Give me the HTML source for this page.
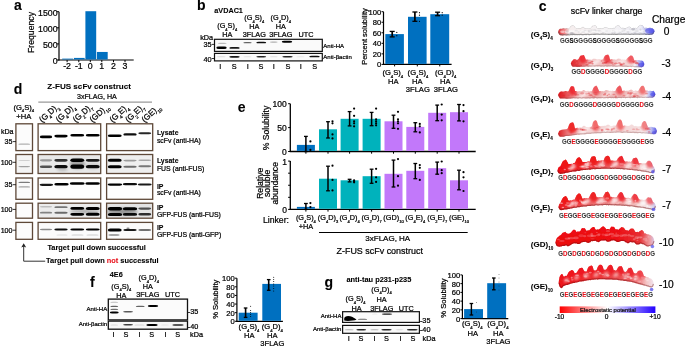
<!DOCTYPE html>
<html><head><meta charset="utf-8"><style>
html,body{margin:0;padding:0;background:#fff;}
svg{display:block;will-change:transform;font-family:"Liberation Sans",sans-serif;}
</style></head><body>
<svg width="685" height="347" viewBox="0 0 685 347">
<defs><filter id="b1" x="-50%" y="-200%" width="200%" height="500%"><feGaussianBlur stdDeviation="0.45"/></filter>
<filter id="b15" x="-50%" y="-200%" width="200%" height="500%"><feGaussianBlur stdDeviation="0.7"/></filter>
<filter id="b2" x="-50%" y="-200%" width="200%" height="500%"><feGaussianBlur stdDeviation="0.8"/></filter>
<filter id="b3" x="-50%" y="-100%" width="200%" height="300%"><feGaussianBlur stdDeviation="1.6"/></filter>
<filter id="pb" x="-10%" y="-50%" width="120%" height="200%"><feGaussianBlur stdDeviation="0.45"/></filter>
<filter id="pb2" x="-50%" y="-50%" width="200%" height="200%"><feGaussianBlur stdDeviation="0.9"/></filter>
<linearGradient id="cbar" x1="0" x2="1" y1="0" y2="0"><stop offset="0" stop-color="#ff0000"/><stop offset="0.5" stop-color="#ffffff"/><stop offset="1" stop-color="#2200ff"/></linearGradient>
<linearGradient id="pg0" gradientUnits="userSpaceOnUse" x1="558" y1="0" x2="654.5" y2="0"><stop offset="0" stop-color="#e8262c"/><stop offset="0.07" stop-color="#f08a8c"/><stop offset="0.12" stop-color="#f6eeee"/><stop offset="0.5" stop-color="#f4f2f4"/><stop offset="0.86" stop-color="#eeeef6"/><stop offset="0.92" stop-color="#b4b6f2"/><stop offset="1" stop-color="#5050ee"/></linearGradient>
<clipPath id="pc0"><path d="M558 32 L559.01 29.59 L560.01 28.79 L561.02 28.65 L562.02 28.63 L563.03 28.23 L564.03 28.17 L565.04 28.74 L566.04 28.32 L567.05 28.29 L568.05 28.81 L569.06 28.43 L570.06 27.01 L571.07 25.82 L572.07 25.54 L573.08 25.22 L574.08 25.99 L575.09 27.2 L576.09 28.38 L577.1 28.52 L578.1 28.46 L579.11 28.03 L580.11 28.5 L581.12 28.08 L582.12 27.11 L583.13 26.76 L584.14 27.59 L585.14 28.25 L586.15 28.41 L587.15 28.52 L588.16 28.39 L589.16 28.53 L590.17 28.15 L591.17 27.44 L592.18 25.85 L593.18 25.63 L594.19 25.46 L595.19 25.18 L596.2 25.96 L597.2 27.97 L598.21 28.48 L599.21 28.1 L600.22 28.23 L601.22 27.99 L602.23 28.13 L603.23 28.04 L604.24 27.54 L605.24 27.07 L606.25 26.97 L607.26 27.5 L608.26 28.22 L609.27 28.38 L610.27 28.33 L611.28 28.41 L612.28 28.19 L613.29 27.82 L614.29 28.31 L615.3 26.78 L616.3 25.89 L617.31 25.32 L618.31 25.45 L619.32 25.52 L620.32 26.97 L621.33 28.08 L622.33 27.87 L623.34 27.71 L624.34 28.26 L625.35 28.36 L626.35 27.72 L627.36 27.62 L628.36 26.82 L629.37 26.58 L630.38 27.05 L631.38 28.19 L632.39 28.26 L633.39 27.68 L634.4 28.07 L635.4 27.67 L636.41 28.14 L637.41 27.87 L638.42 26.27 L639.42 25.47 L640.43 24.81 L641.43 25.25 L642.44 25.31 L643.44 26.45 L644.45 28.06 L645.45 27.66 L646.46 27.78 L647.46 27.93 L648.47 28.07 L649.47 27.75 L650.48 27.67 L651.48 28.27 L652.49 28.17 L653.49 29.21 L654.5 31.4 L654.5 31.4 L653.49 33.8 L652.49 34.55 L651.48 34.73 L650.48 34.74 L649.47 34.97 L648.47 35 L647.46 34.65 L646.46 34.89 L645.45 34.9 L644.45 34.58 L643.44 34.8 L642.44 34.65 L641.43 34.8 L640.43 34.73 L639.42 34.94 L638.42 34.73 L637.41 34.64 L636.41 34.78 L635.4 34.69 L634.4 34.72 L633.39 34.98 L632.39 34.69 L631.38 34.76 L630.38 34.88 L629.37 35 L628.36 34.65 L627.36 34.82 L626.35 34.72 L625.35 34.65 L624.34 34.73 L623.34 34.64 L622.33 34.87 L621.33 34.7 L620.32 34.85 L619.32 34.65 L618.31 34.68 L617.31 35.01 L616.3 35 L615.3 34.97 L614.29 34.66 L613.29 34.89 L612.28 34.81 L611.28 34.95 L610.27 34.87 L609.27 34.93 L608.26 34.95 L607.26 34.86 L606.25 34.86 L605.24 34.74 L604.24 34.84 L603.23 34.74 L602.23 34.78 L601.22 34.73 L600.22 34.87 L599.21 35.09 L598.21 34.8 L597.2 34.77 L596.2 34.8 L595.19 34.95 L594.19 34.9 L593.18 35.12 L592.18 34.87 L591.17 34.98 L590.17 35.11 L589.16 35.21 L588.16 34.89 L587.15 34.84 L586.15 35.23 L585.14 34.94 L584.14 35.12 L583.13 35.24 L582.12 35.19 L581.12 35 L580.11 34.96 L579.11 35.32 L578.1 35.09 L577.1 35.35 L576.09 35.07 L575.09 35.25 L574.08 35.03 L573.08 35 L572.07 35.21 L571.07 35.02 L570.06 35.32 L569.06 35.43 L568.05 35.22 L567.05 35.47 L566.04 35.42 L565.04 35.34 L564.03 35.27 L563.03 35.47 L562.02 35.54 L561.02 35.18 L560.01 35.15 L559.01 34.26 L558 32Z"/></clipPath>
<linearGradient id="pg1" gradientUnits="userSpaceOnUse" x1="570.8" y1="0" x2="644.4" y2="0"><stop offset="0" stop-color="#e01e24"/><stop offset="0.12" stop-color="#ea6266"/><stop offset="0.3" stop-color="#f2cccc"/><stop offset="0.5" stop-color="#f0bcbc"/><stop offset="0.75" stop-color="#f2d2d2"/><stop offset="0.87" stop-color="#f6f2f4"/><stop offset="0.93" stop-color="#b0b2f0"/><stop offset="1" stop-color="#4444e8"/></linearGradient>
<clipPath id="pc1"><path d="M570.8 63.6 L571.81 61.07 L572.82 60.24 L573.82 58.99 L574.83 59.18 L575.84 59.37 L576.85 60 L577.86 59.62 L578.87 58.48 L579.87 56.46 L580.88 55.43 L581.89 55.4 L582.9 55.28 L583.91 55.09 L584.92 57.22 L585.92 59.73 L586.93 59.56 L587.94 59.47 L588.95 59.73 L589.96 59.56 L590.96 59.7 L591.97 59.67 L592.98 58.85 L593.99 58.68 L595 58.66 L596.01 59.04 L597.01 59.59 L598.02 59.18 L599.03 59.15 L600.04 59.24 L601.05 59.8 L602.05 59.35 L603.06 59.39 L604.07 57.12 L605.08 55.5 L606.09 55.01 L607.1 54.67 L608.1 54.6 L609.11 56.04 L610.12 59.76 L611.13 59.29 L612.14 59.34 L613.15 59.49 L614.15 59.24 L615.16 59.57 L616.17 59.81 L617.18 59.09 L618.19 58.54 L619.19 58.7 L620.2 58.83 L621.21 59.73 L622.22 59.62 L623.23 59.8 L624.24 59.48 L625.24 59.97 L626.25 59.52 L627.26 58.37 L628.27 57.13 L629.28 56.39 L630.28 55.61 L631.29 55.5 L632.3 55.87 L633.31 57.37 L634.32 60.15 L635.33 59.88 L636.33 59.88 L637.34 60.15 L638.35 59.99 L639.36 60.37 L640.37 60.54 L641.38 60.58 L642.38 60.72 L643.39 61.42 L644.4 64 L644.4 64 L643.39 66.43 L642.38 67.04 L641.38 67.45 L640.37 67.18 L639.36 67.13 L638.35 67.16 L637.34 67.33 L636.33 67.14 L635.33 67.18 L634.32 67.17 L633.31 66.84 L632.3 66.79 L631.29 67.15 L630.28 66.78 L629.28 66.85 L628.27 66.91 L627.26 66.93 L626.25 66.73 L625.24 66.8 L624.24 66.68 L623.23 66.66 L622.22 66.86 L621.21 66.57 L620.2 66.46 L619.19 66.45 L618.19 66.58 L617.18 66.8 L616.17 66.8 L615.16 66.73 L614.15 66.38 L613.15 66.63 L612.14 66.59 L611.13 66.36 L610.12 66.6 L609.11 66.49 L608.1 66.53 L607.1 66.68 L606.09 66.46 L605.08 66.35 L604.07 66.63 L603.06 66.6 L602.05 66.52 L601.05 66.68 L600.04 66.49 L599.03 66.36 L598.02 66.44 L597.01 66.49 L596.01 66.37 L595 66.67 L593.99 66.51 L592.98 66.6 L591.97 66.52 L590.96 66.74 L589.96 66.47 L588.95 66.77 L587.94 66.76 L586.93 66.51 L585.92 66.47 L584.92 66.71 L583.91 66.74 L582.9 66.83 L581.89 66.85 L580.88 66.73 L579.87 66.94 L578.87 66.99 L577.86 66.88 L576.85 67.03 L575.84 66.86 L574.83 66.82 L573.82 66.84 L572.82 66.7 L571.81 66.07 L570.8 63.6Z"/></clipPath>
<linearGradient id="pg2" gradientUnits="userSpaceOnUse" x1="558" y1="0" x2="655.5" y2="0"><stop offset="0" stop-color="#e0141a"/><stop offset="0.08" stop-color="#e64a4e"/><stop offset="0.2" stop-color="#f0b8b8"/><stop offset="0.5" stop-color="#eeb6b6"/><stop offset="0.8" stop-color="#f0c0c0"/><stop offset="0.9" stop-color="#f6f2f4"/><stop offset="0.95" stop-color="#a8acf0"/><stop offset="1" stop-color="#3c3ce8"/></linearGradient>
<clipPath id="pc2"><path d="M558 95 L559.01 92.65 L560.01 92.04 L561.02 91.28 L562.02 91.55 L563.03 91.5 L564.03 91.46 L565.04 91.07 L566.04 91 L567.05 91.24 L568.05 91.49 L569.06 90.22 L570.06 87.68 L571.07 86.36 L572.07 86.2 L573.08 86.31 L574.08 87.01 L575.09 91.01 L576.09 90.95 L577.1 91.46 L578.1 91.5 L579.11 90.98 L580.11 91.36 L581.12 91.25 L582.12 91.08 L583.13 89.92 L584.13 90.02 L585.14 90.78 L586.14 91.27 L587.15 91.03 L588.15 90.86 L589.16 91.45 L590.16 91.12 L591.17 91.48 L592.18 90.87 L593.18 88.14 L594.19 86.85 L595.19 86.31 L596.2 85.59 L597.2 86.67 L598.21 89.01 L599.21 91.24 L600.22 90.95 L601.22 91.37 L602.23 90.95 L603.23 91.22 L604.24 91.28 L605.24 90.26 L606.25 89.94 L607.25 90.14 L608.26 90.5 L609.26 90.88 L610.27 90.81 L611.27 91.16 L612.28 90.74 L613.28 91.02 L614.29 90.98 L615.29 90.97 L616.3 88.82 L617.3 87.19 L618.31 86.4 L619.31 85.59 L620.32 85.83 L621.32 87.61 L622.33 90.93 L623.34 90.7 L624.34 90.51 L625.35 91.02 L626.35 90.73 L627.36 90.81 L628.36 90.66 L629.37 90.23 L630.37 89.83 L631.38 89.51 L632.38 90.23 L633.39 91.12 L634.39 91.06 L635.4 90.43 L636.4 90.8 L637.41 90.88 L638.41 90.67 L639.42 88.79 L640.42 87.21 L641.43 86.1 L642.43 85.64 L643.44 85.83 L644.44 87.36 L645.45 90.44 L646.45 90.4 L647.46 90.46 L648.46 90.9 L649.47 90.68 L650.47 90.85 L651.48 90.93 L652.48 90.89 L653.49 90.7 L654.49 91.92 L655.5 94.2 L655.5 94.2 L654.49 96.61 L653.49 97.27 L652.48 97.86 L651.48 97.72 L650.47 97.76 L649.47 97.78 L648.46 98.02 L647.46 98.06 L646.45 97.92 L645.45 97.78 L644.44 97.99 L643.44 97.9 L642.43 97.98 L641.43 97.77 L640.42 97.74 L639.42 97.97 L638.41 97.73 L637.41 98.13 L636.4 97.83 L635.4 97.81 L634.39 98.12 L633.39 97.9 L632.38 97.96 L631.38 97.81 L630.37 98.13 L629.37 98 L628.36 97.86 L627.36 97.97 L626.35 98.12 L625.35 98.22 L624.34 97.87 L623.34 98.07 L622.33 97.86 L621.32 98.23 L620.32 97.96 L619.31 97.97 L618.31 97.93 L617.3 98.32 L616.3 98.18 L615.29 98.32 L614.29 98.03 L613.28 98.21 L612.28 97.96 L611.27 98.22 L610.27 98.06 L609.26 98.02 L608.26 98.3 L607.25 98.17 L606.25 98.01 L605.24 98.2 L604.24 98.28 L603.23 98.33 L602.23 98.12 L601.22 98.37 L600.22 98.21 L599.21 98.24 L598.21 98.25 L597.2 98.43 L596.2 98.22 L595.19 98.12 L594.19 98.38 L593.18 98.38 L592.18 98.15 L591.17 98.29 L590.16 98.43 L589.16 98.55 L588.15 98.25 L587.15 98.42 L586.14 98.38 L585.14 98.47 L584.13 98.33 L583.13 98.3 L582.12 98.48 L581.12 98.59 L580.11 98.21 L579.11 98.25 L578.1 98.64 L577.1 98.42 L576.09 98.37 L575.09 98.5 L574.08 98.37 L573.08 98.28 L572.07 98.45 L571.07 98.54 L570.06 98.63 L569.06 98.61 L568.05 98.66 L567.05 98.69 L566.04 98.65 L565.04 98.4 L564.03 98.53 L563.03 98.43 L562.02 98.39 L561.02 98.4 L560.01 98.38 L559.01 97.36 L558 95Z"/></clipPath>
<linearGradient id="pg3" gradientUnits="userSpaceOnUse" x1="558" y1="0" x2="657" y2="0"><stop offset="0" stop-color="#dc1c20"/><stop offset="0.1" stop-color="#ea7a7c"/><stop offset="0.25" stop-color="#f4d4d4"/><stop offset="0.5" stop-color="#f4d6d6"/><stop offset="0.8" stop-color="#f4dcdc"/><stop offset="0.88" stop-color="#f6f2f4"/><stop offset="0.94" stop-color="#c0c2f2"/><stop offset="1" stop-color="#5050e6"/></linearGradient>
<clipPath id="pc3"><path d="M558 133.8 L559 131.37 L560 130.14 L561 130.24 L562 129.51 L563 129.7 L564 129.16 L565 129.49 L566 128.94 L567 129.2 L568 127.77 L569 125 L570 123.35 L571 122.84 L572 122.59 L573 122.32 L574 124.06 L575 128.43 L576 128.17 L577 127.86 L578 127.66 L579 128.02 L580 127.31 L581 127.69 L582 127.36 L583 125.89 L584 125.72 L585 126.08 L586 127.1 L587 126.9 L588 127.19 L589 127.14 L590 126.64 L591 126.98 L592 125.69 L593 122.11 L594 120.99 L595 120.36 L596 120.31 L597 121.55 L598 124.99 L599 126.07 L600 126.35 L601 126.43 L602 125.81 L603 126.05 L604 125.77 L605 125.73 L606 125.63 L607 124.84 L608 124.82 L609 124.66 L610 125.84 L611 126.16 L612 125.98 L613 125.8 L614 125.59 L615 125.85 L616 125.58 L617 123.21 L618 120.97 L619 119.69 L620 119.56 L621 119.67 L622 121.56 L623 125.99 L624 125.59 L625 125.56 L626 125.85 L627 125.77 L628 126.1 L629 125.68 L630 125.5 L631 124.41 L632 124.51 L633 124.9 L634 125.97 L635 126.23 L636 125.76 L637 126.47 L638 126.32 L639 126.44 L640 126.3 L641 126.38 L642 122.97 L643 121.71 L644 121.02 L645 121.07 L646 122 L647 124.73 L648 127.05 L649 127.04 L650 127.01 L651 126.65 L652 126.9 L653 127.18 L654 127.4 L655 127.61 L656 128.52 L657 131 L657 131 L656 133.26 L655 134.1 L654 133.99 L653 134.28 L652 133.99 L651 134.16 L650 133.8 L649 133.98 L648 133.68 L647 133.6 L646 133.51 L645 133.59 L644 133.35 L643 133.23 L642 133.54 L641 133.32 L640 133.08 L639 133.12 L638 133.2 L637 133.21 L636 132.9 L635 133.22 L634 132.9 L633 132.83 L632 133.09 L631 132.98 L630 132.97 L629 132.84 L628 132.89 L627 132.65 L626 132.62 L625 132.86 L624 132.6 L623 132.94 L622 132.92 L621 132.67 L620 132.61 L619 132.6 L618 132.53 L617 132.59 L616 132.85 L615 132.65 L614 132.59 L613 132.95 L612 132.8 L611 132.96 L610 132.99 L609 132.87 L608 132.81 L607 132.72 L606 133.1 L605 132.98 L604 132.81 L603 132.94 L602 133.08 L601 133.24 L600 133.13 L599 133.33 L598 133.22 L597 133.27 L596 133.43 L595 133.32 L594 133.55 L593 133.58 L592 133.49 L591 133.8 L590 133.9 L589 133.81 L588 133.94 L587 133.84 L586 134.18 L585 134.21 L584 134.43 L583 134.35 L582 134.5 L581 134.53 L580 134.49 L579 134.89 L578 134.59 L577 134.81 L576 134.88 L575 135.1 L574 135.19 L573 135.37 L572 135.49 L571 135.68 L570 135.77 L569 135.89 L568 136 L567 135.88 L566 136.06 L565 136.25 L564 136.65 L563 136.68 L562 136.7 L561 136.75 L560 136.7 L559 136.06 L558 133.8Z"/></clipPath>
<linearGradient id="pg4" gradientUnits="userSpaceOnUse" x1="557.3" y1="0" x2="655" y2="0"><stop offset="0" stop-color="#ec0e14"/><stop offset="0.3" stop-color="#ee2a30"/><stop offset="0.55" stop-color="#ec6064"/><stop offset="0.75" stop-color="#f09a9a"/><stop offset="0.88" stop-color="#f2c8c8"/><stop offset="0.95" stop-color="#f2e6ea"/><stop offset="1" stop-color="#c8c4ec"/></linearGradient>
<clipPath id="pc4"><path d="M557.3 170.7 L558.31 167.6 L559.31 166.64 L560.32 166.18 L561.33 164.14 L562.34 161.89 L563.34 160.76 L564.35 160.39 L565.36 159.61 L566.36 160.37 L567.37 161.96 L568.38 164.02 L569.39 164.12 L570.39 163.88 L571.4 163.68 L572.41 163.92 L573.42 163.12 L574.42 162.91 L575.43 161.73 L576.44 159.3 L577.44 158.02 L578.45 157.46 L579.46 157.23 L580.47 158.18 L581.47 159.66 L582.48 161.94 L583.49 162.08 L584.49 161.94 L585.5 162.11 L586.51 161.93 L587.52 161.49 L588.52 161.29 L589.53 161.64 L590.54 158.85 L591.55 156.77 L592.55 156.46 L593.56 156.17 L594.57 156.15 L595.57 157.06 L596.58 161.12 L597.59 161.02 L598.6 160.59 L599.6 160.86 L600.61 160.53 L601.62 160.37 L602.62 160.55 L603.63 160.52 L604.64 157.73 L605.65 156.56 L606.65 155.96 L607.66 155.73 L608.67 155.94 L609.68 157.23 L610.68 160.8 L611.69 160.48 L612.7 160.41 L613.7 160.74 L614.71 160.71 L615.72 160.84 L616.73 160.47 L617.73 158.46 L618.74 157.45 L619.75 156.44 L620.75 156.15 L621.76 155.78 L622.77 156.92 L623.78 159.94 L624.78 161.31 L625.79 161.63 L626.8 161.16 L627.81 161.43 L628.81 161.76 L629.82 161.61 L630.83 161.95 L631.83 161.03 L632.84 158.78 L633.85 157.9 L634.86 158.12 L635.86 157.46 L636.87 158.06 L637.88 159.83 L638.88 162.88 L639.89 163.13 L640.9 163.01 L641.91 163.18 L642.91 163.54 L643.92 163.35 L644.93 163.58 L645.94 163.23 L646.94 161.82 L647.95 160.82 L648.96 160.65 L649.96 160.72 L650.97 161.65 L651.98 163.17 L652.99 166.03 L653.99 166.92 L655 169.7 L655 169.7 L653.99 172.28 L652.99 172.85 L651.98 172.95 L650.97 173.12 L649.96 172.94 L648.96 172.7 L647.95 172.29 L646.94 172.37 L645.94 171.94 L644.93 171.8 L643.92 171.85 L642.91 171.52 L641.91 171.4 L640.9 171.26 L639.89 170.87 L638.88 171.11 L637.88 171 L636.87 170.48 L635.86 170.57 L634.86 170.53 L633.85 170.36 L632.84 170.23 L631.83 169.87 L630.83 170.07 L629.82 169.97 L628.81 169.72 L627.81 169.64 L626.8 169.38 L625.79 169.35 L624.78 169.47 L623.78 169.46 L622.77 169.13 L621.76 169 L620.75 169.34 L619.75 168.99 L618.74 168.88 L617.73 168.93 L616.73 169.07 L615.72 168.79 L614.71 168.78 L613.7 168.98 L612.7 168.77 L611.69 168.93 L610.68 168.99 L609.68 168.86 L608.67 168.86 L607.66 168.83 L606.65 168.73 L605.65 168.66 L604.64 168.63 L603.63 168.64 L602.62 168.66 L601.62 168.77 L600.61 169.01 L599.6 169.1 L598.6 168.96 L597.59 169.04 L596.58 169.04 L595.57 169.34 L594.57 169.36 L593.56 169.12 L592.55 169.32 L591.55 169.36 L590.54 169.69 L589.53 169.65 L588.52 169.52 L587.52 169.73 L586.51 169.68 L585.5 170.12 L584.49 170.12 L583.49 170.09 L582.48 170.36 L581.47 170.33 L580.47 170.56 L579.46 170.88 L578.45 171.02 L577.44 170.79 L576.44 171.3 L575.43 171.42 L574.42 171.51 L573.42 171.52 L572.41 171.62 L571.4 171.95 L570.39 172.11 L569.39 172.17 L568.38 172.57 L567.37 172.72 L566.36 172.81 L565.36 173 L564.35 173.45 L563.34 173.62 L562.34 173.82 L561.33 173.79 L560.32 173.89 L559.31 173.59 L558.31 173.08 L557.3 170.7Z"/></clipPath>
<linearGradient id="pg5" gradientUnits="userSpaceOnUse" x1="558.3" y1="0" x2="656" y2="0"><stop offset="0" stop-color="#ec181e"/><stop offset="0.2" stop-color="#ee4448"/><stop offset="0.45" stop-color="#ee8082"/><stop offset="0.7" stop-color="#f0a8a8"/><stop offset="0.85" stop-color="#f2d2d2"/><stop offset="0.93" stop-color="#f4ecf0"/><stop offset="1" stop-color="#c8c4ec"/></linearGradient>
<clipPath id="pc5"><path d="M558.3 206.9 L559.31 203.94 L560.31 203.04 L561.32 200.69 L562.33 198.74 L563.34 197.28 L564.34 196.71 L565.35 196.04 L566.36 196.5 L567.36 198.08 L568.37 200.57 L569.38 200.66 L570.39 200.3 L571.39 200.47 L572.4 200.03 L573.41 199.62 L574.42 199.73 L575.42 197.8 L576.43 195.39 L577.44 194.48 L578.44 193.45 L579.45 193.44 L580.46 194.11 L581.47 196.28 L582.47 198.85 L583.48 198.49 L584.49 197.97 L585.49 198.17 L586.5 197.91 L587.51 198.16 L588.52 198.17 L589.52 196.53 L590.53 194.49 L591.54 192.91 L592.55 192.15 L593.55 192.06 L594.56 192.44 L595.57 194.07 L596.57 197.14 L597.58 197.21 L598.59 197.34 L599.6 196.93 L600.6 197.04 L601.61 196.91 L602.62 197.23 L603.62 195.48 L604.63 193.63 L605.64 192.02 L606.65 192.02 L607.65 191.55 L608.66 192.48 L609.67 194.37 L610.68 197.25 L611.68 196.7 L612.69 197.22 L613.7 197.09 L614.7 197.37 L615.71 197.18 L616.72 197.07 L617.73 195.32 L618.73 193.8 L619.74 192.43 L620.75 192.01 L621.75 192.26 L622.76 193.37 L623.77 195.77 L624.78 197.72 L625.78 197.77 L626.79 198.03 L627.8 197.67 L628.81 197.76 L629.81 198.13 L630.82 198.39 L631.83 196.6 L632.83 195.2 L633.84 194.12 L634.85 193.65 L635.86 194.18 L636.86 195 L637.87 196.89 L638.88 198.94 L639.88 199.52 L640.89 199.65 L641.9 199.49 L642.91 199.69 L643.91 199.96 L644.92 199.86 L645.93 199.53 L646.94 197.96 L647.94 197.19 L648.95 197.29 L649.96 197.63 L650.96 197.57 L651.97 199.47 L652.98 201.96 L653.99 202.4 L654.99 203.65 L656 206.5 L656 206.5 L654.99 208.99 L653.99 209.5 L652.98 209.97 L651.97 209.65 L650.96 209.58 L649.96 209.28 L648.95 209.27 L647.94 209 L646.94 208.85 L645.93 208.64 L644.92 208.3 L643.91 208.23 L642.91 207.86 L641.9 207.86 L640.89 207.85 L639.88 207.53 L638.88 207.42 L637.87 207.44 L636.86 207.14 L635.86 207.22 L634.85 206.94 L633.84 206.75 L632.83 206.56 L631.83 206.34 L630.82 206.37 L629.81 206.51 L628.81 206.22 L627.8 206.22 L626.79 205.92 L625.78 205.77 L624.78 206.03 L623.77 205.67 L622.76 205.79 L621.75 205.77 L620.75 205.6 L619.74 205.55 L618.73 205.56 L617.73 205.52 L616.72 205.4 L615.71 205.26 L614.7 205.44 L613.7 205.33 L612.69 205.36 L611.68 205.13 L610.68 205.32 L609.67 205.1 L608.66 205.4 L607.65 205.05 L606.65 205.23 L605.64 205.03 L604.63 205.1 L603.62 205.1 L602.62 205.46 L601.61 205.19 L600.6 205.32 L599.6 205.2 L598.59 205.38 L597.58 205.52 L596.57 205.34 L595.57 205.35 L594.56 205.74 L593.55 205.84 L592.55 205.78 L591.54 205.77 L590.53 206.06 L589.52 205.97 L588.52 206.07 L587.51 206.06 L586.5 206.43 L585.49 206.54 L584.49 206.49 L583.48 206.51 L582.47 206.69 L581.47 206.75 L580.46 207.08 L579.45 207.31 L578.44 207.17 L577.44 207.33 L576.43 207.74 L575.42 207.87 L574.42 207.77 L573.41 207.94 L572.4 208.3 L571.39 208.45 L570.39 208.56 L569.38 208.9 L568.37 208.97 L567.36 209.19 L566.36 209.46 L565.35 209.46 L564.34 209.49 L563.34 210.06 L562.33 210.02 L561.32 210.13 L560.31 210.05 L559.31 209.32 L558.3 206.9Z"/></clipPath>
<linearGradient id="pg6" gradientUnits="userSpaceOnUse" x1="555.3" y1="0" x2="654.5" y2="0"><stop offset="0" stop-color="#ec080e"/><stop offset="0.6" stop-color="#ec0c12"/><stop offset="0.85" stop-color="#e63034"/><stop offset="0.95" stop-color="#ee9a9e"/><stop offset="1" stop-color="#d8c8e8"/></linearGradient>
<clipPath id="pc6"><path d="M555.3 242.6 L556.3 239.1 L557.3 237.49 L558.31 236.65 L559.31 235.78 L560.31 235.25 L561.31 234.53 L562.31 233.03 L563.32 232.42 L564.32 232.29 L565.32 231.75 L566.32 232.97 L567.32 233.53 L568.33 233.76 L569.33 233.5 L570.33 232.91 L571.33 231.96 L572.33 230.77 L573.34 229.7 L574.34 229.65 L575.34 230.12 L576.34 232.01 L577.34 231.53 L578.35 231.41 L579.35 231.61 L580.35 231.04 L581.35 228.86 L582.35 228.11 L583.36 228.2 L584.36 227.97 L585.36 229.02 L586.36 230.69 L587.36 230.48 L588.37 230.31 L589.37 230.35 L590.37 228.97 L591.37 227.91 L592.37 227.24 L593.38 227 L594.38 226.99 L595.38 229.29 L596.38 229.8 L597.38 229.35 L598.39 229.49 L599.39 229.02 L600.39 228.25 L601.39 227.22 L602.39 226.46 L603.4 226.36 L604.4 227.02 L605.4 228.08 L606.4 229.16 L607.41 228.9 L608.41 229.11 L609.41 229.47 L610.41 227.67 L611.41 226.51 L612.42 226.78 L613.42 226.68 L614.42 227.37 L615.42 229.25 L616.42 229.31 L617.43 229.29 L618.43 229.66 L619.43 228.85 L620.43 228.09 L621.43 226.97 L622.44 227.19 L623.44 227.44 L624.44 228.49 L625.44 230.03 L626.44 230.26 L627.45 230.3 L628.45 230.87 L629.45 229.85 L630.45 228.85 L631.45 228.61 L632.46 228.48 L633.46 228.72 L634.46 230.15 L635.46 231.89 L636.46 231.97 L637.47 231.63 L638.47 232.17 L639.47 231.22 L640.47 230.75 L641.47 230.04 L642.48 230.24 L643.48 231.16 L644.48 233.38 L645.48 233.24 L646.48 233.89 L647.49 234.17 L648.49 234.2 L649.49 234.75 L650.49 234.89 L651.49 235.83 L652.5 236.5 L653.5 237.89 L654.5 241.4 L654.5 241.4 L653.5 244.32 L652.5 245.28 L651.49 245.61 L650.49 245.87 L649.49 246.12 L648.49 246.47 L647.49 246.53 L646.48 246.21 L645.48 245.56 L644.48 244.92 L643.48 244.24 L642.48 244.23 L641.47 243.75 L640.47 243.57 L639.47 244.37 L638.47 244.4 L637.47 244.42 L636.46 244.4 L635.46 243.66 L634.46 242.52 L633.46 242.26 L632.46 242.43 L631.45 242.25 L630.45 241.89 L629.45 242.59 L628.45 243.22 L627.45 243.18 L626.44 242.62 L625.44 242.16 L624.44 241.33 L623.44 241.02 L622.44 240.98 L621.43 240.93 L620.43 241.17 L619.43 241.87 L618.43 242.02 L617.43 242.01 L616.42 241.67 L615.42 240.9 L614.42 240.38 L613.42 240.34 L612.42 240.54 L611.41 240.39 L610.41 241.27 L609.41 241.61 L608.41 241.74 L607.41 241.79 L606.4 241.37 L605.4 240.25 L604.4 240.56 L603.4 240.44 L602.39 240.62 L601.39 240.53 L600.39 241.1 L599.39 241.76 L598.39 242.2 L597.38 241.8 L596.38 241.52 L595.38 240.77 L594.38 240.94 L593.38 241.01 L592.37 241.14 L591.37 241.05 L590.37 242.29 L589.37 242.41 L588.37 242.96 L587.36 242.69 L586.36 242.31 L585.36 241.81 L584.36 241.98 L583.36 242.04 L582.35 242.23 L581.35 242.61 L580.35 243.56 L579.35 244 L578.35 244.06 L577.34 243.98 L576.34 243.28 L575.34 243.52 L574.34 243.31 L573.34 243.55 L572.33 244.07 L571.33 244.58 L570.33 245.36 L569.33 245.75 L568.33 246.28 L567.32 246.16 L566.32 245.27 L565.32 245.42 L564.32 245.89 L563.32 245.88 L562.31 246.12 L561.31 246.51 L560.31 246.58 L559.31 246.85 L558.31 246.56 L557.3 246.34 L556.3 245.52 L555.3 242.6Z"/></clipPath>
<linearGradient id="pg7" gradientUnits="userSpaceOnUse" x1="558.5" y1="0" x2="654" y2="0"><stop offset="0" stop-color="#ec121a"/><stop offset="0.3" stop-color="#ee2a2e"/><stop offset="0.6" stop-color="#ea4448"/><stop offset="0.82" stop-color="#ee6a6e"/><stop offset="0.92" stop-color="#f4c4c4"/><stop offset="1" stop-color="#f0e6f0"/></linearGradient>
<clipPath id="pc7"><path d="M558.5 283 L559.51 276.91 L560.51 275.14 L561.52 273.94 L562.52 274.3 L563.53 276.5 L564.53 276.54 L565.54 275.69 L566.54 275.97 L567.55 274.33 L568.55 272.25 L569.56 271.26 L570.56 270.74 L571.57 269.89 L572.57 270.2 L573.58 271.1 L574.58 273.16 L575.59 272.99 L576.59 272.81 L577.6 270.89 L578.61 269.53 L579.61 268.25 L580.62 267.94 L581.62 267.67 L582.63 268.12 L583.63 270.14 L584.64 271.53 L585.64 271.44 L586.65 271.44 L587.65 268.47 L588.66 266.76 L589.66 266.18 L590.67 265.73 L591.67 265.45 L592.68 266.42 L593.68 270.14 L594.69 270.42 L595.69 270.43 L596.7 269.71 L597.71 266.91 L598.71 265.42 L599.72 264.72 L600.72 264.87 L601.73 265.04 L602.73 266.53 L603.74 269.66 L604.74 269.63 L605.75 269.67 L606.75 268.82 L607.76 266.8 L608.76 265.5 L609.77 265.09 L610.77 264.8 L611.78 265.26 L612.78 267.11 L613.79 270.42 L614.79 270.05 L615.8 270.7 L616.81 269.7 L617.81 267.65 L618.82 266.45 L619.82 266.34 L620.83 266.15 L621.83 266.24 L622.84 268.38 L623.84 271.59 L624.85 271.68 L625.85 271.94 L626.86 270.7 L627.86 269.05 L628.87 267.84 L629.87 267.91 L630.88 267.56 L631.88 268.58 L632.89 270.63 L633.89 273.17 L634.9 273.2 L635.91 273.42 L636.91 272.74 L637.92 270.99 L638.92 270.75 L639.93 270.45 L640.93 270.48 L641.94 271.33 L642.94 273 L643.95 275.95 L644.95 275.98 L645.96 276.66 L646.96 277.16 L647.97 277.05 L648.97 277.77 L649.98 278.39 L650.98 278.56 L651.99 279.41 L652.99 280.8 L654 284.2 L654 284.2 L652.99 286.83 L651.99 287.21 L650.98 287.46 L649.98 287.16 L648.97 287.08 L647.97 286.52 L646.96 286.5 L645.96 285.81 L644.95 285.74 L643.95 285.52 L642.94 285.14 L641.94 284.72 L640.93 284.68 L639.93 284.25 L638.92 284.13 L637.92 283.84 L636.91 283.53 L635.91 283.26 L634.9 282.99 L633.89 282.55 L632.89 282.47 L631.88 282.07 L630.88 281.84 L629.87 281.63 L628.87 281.42 L627.86 281.38 L626.86 281.16 L625.85 280.9 L624.85 280.88 L623.84 280.89 L622.84 280.59 L621.83 280.44 L620.83 280.46 L619.82 280.37 L618.82 280.21 L617.81 279.89 L616.81 279.74 L615.8 279.71 L614.79 279.73 L613.79 279.82 L612.78 279.76 L611.78 279.43 L610.77 279.43 L609.77 279.41 L608.76 279.49 L607.76 279.49 L606.75 279.44 L605.75 279.45 L604.74 279.25 L603.74 279.37 L602.73 279.28 L601.73 279.35 L600.72 279.33 L599.72 279.28 L598.71 279.31 L597.71 279.63 L596.7 279.35 L595.69 279.46 L594.69 279.55 L593.68 279.79 L592.68 279.67 L591.67 279.82 L590.67 280.17 L589.66 280.1 L588.66 280.15 L587.65 280.33 L586.65 280.4 L585.64 280.71 L584.64 280.8 L583.63 281.21 L582.63 281.14 L581.62 281.53 L580.62 281.48 L579.61 281.6 L578.61 282.02 L577.6 282.36 L576.59 282.59 L575.59 282.62 L574.58 283 L573.58 283 L572.57 283.31 L571.57 283.61 L570.56 283.81 L569.56 284.3 L568.55 284.45 L567.55 284.92 L566.54 285 L565.54 285.21 L564.53 285.79 L563.53 285.89 L562.52 287.5 L561.52 288.21 L560.51 287.84 L559.51 286.53 L558.5 283Z"/></clipPath></defs>
<rect width="685" height="347" fill="#fff"/>
<text x="14" y="10.24" font-size="14" font-weight="bold" stroke="#000" stroke-width="0.08" ><tspan>a</tspan></text>
<line x1="59" y1="11.7" x2="59" y2="60.5" stroke="#000" stroke-width="1.2" />
<line x1="58.4" y1="60" x2="133.7" y2="60" stroke="#000" stroke-width="1.2" />
<line x1="56.8" y1="60" x2="59" y2="60" stroke="#000" stroke-width="1" />
<text x="57.6" y="64.27" font-size="8.8" text-anchor="end" stroke="#000" stroke-width="0.22" ><tspan>0</tspan></text>
<line x1="56.8" y1="43.9" x2="59" y2="43.9" stroke="#000" stroke-width="1" />
<text x="57.6" y="48.17" font-size="8.8" text-anchor="end" stroke="#000" stroke-width="0.22" ><tspan>500</tspan></text>
<line x1="56.8" y1="27.8" x2="59" y2="27.8" stroke="#000" stroke-width="1" />
<text x="57.6" y="32.07" font-size="8.8" text-anchor="end" stroke="#000" stroke-width="0.22" ><tspan>1000</tspan></text>
<line x1="56.8" y1="11.7" x2="59" y2="11.7" stroke="#000" stroke-width="1" />
<text x="57.6" y="15.97" font-size="8.8" text-anchor="end" stroke="#000" stroke-width="0.22" ><tspan>1500</tspan></text>
<rect x="62.2" y="58.62" width="10.8" height="0.88" fill="#0070c0" />
<line x1="67.1" y1="60" x2="67.1" y2="62.2" stroke="#000" stroke-width="1" />
<text x="67.1" y="69.17" font-size="8.8" text-anchor="middle" stroke="#000" stroke-width="0.22" ><tspan>-2</tspan></text>
<rect x="73.9" y="57.91" width="10.8" height="1.59" fill="#0070c0" />
<line x1="78.8" y1="60" x2="78.8" y2="62.2" stroke="#000" stroke-width="1" />
<text x="78.8" y="69.17" font-size="8.8" text-anchor="middle" stroke="#000" stroke-width="0.22" ><tspan>-1</tspan></text>
<rect x="85.4" y="11.22" width="10.8" height="48.28" fill="#0070c0" />
<line x1="90.3" y1="60" x2="90.3" y2="62.2" stroke="#000" stroke-width="1" />
<text x="90.3" y="69.17" font-size="8.8" text-anchor="middle" stroke="#000" stroke-width="0.22" ><tspan>0</tspan></text>
<rect x="96.9" y="51.95" width="10.8" height="7.55" fill="#0070c0" />
<line x1="101.8" y1="60" x2="101.8" y2="62.2" stroke="#000" stroke-width="1" />
<text x="101.8" y="69.17" font-size="8.8" text-anchor="middle" stroke="#000" stroke-width="0.22" ><tspan>1</tspan></text>
<line x1="113.5" y1="60" x2="113.5" y2="62.2" stroke="#000" stroke-width="1" />
<text x="113.5" y="69.17" font-size="8.8" text-anchor="middle" stroke="#000" stroke-width="0.22" ><tspan>2</tspan></text>
<line x1="125" y1="60" x2="125" y2="62.2" stroke="#000" stroke-width="1" />
<text x="125" y="69.17" font-size="8.8" text-anchor="middle" stroke="#000" stroke-width="0.22" ><tspan>3</tspan></text>
<text x="31.5" y="35.37" font-size="8.7" text-anchor="middle" stroke="#000" stroke-width="0.22" transform="rotate(-90 31.5 32.5)" ><tspan>Frequency</tspan></text>
<text x="197" y="10.24" font-size="14" font-weight="bold" stroke="#000" stroke-width="0.08" ><tspan>b</tspan></text>
<text x="214.3" y="12.8" font-size="7.5" font-weight="bold" stroke="#000" stroke-width="0.08" textLength="28.6" lengthAdjust="spacingAndGlyphs" ><tspan>aVDAC1</tspan></text>
<rect x="214.5" y="39.3" width="107.8" height="12.1" fill="#fafafa" stroke="#111" stroke-width="1.2"/>
<rect x="214.5" y="53.4" width="107.8" height="7.5" fill="#fafafa" stroke="#111" stroke-width="1.2"/>
<rect x="216.3" y="46.6" width="10.4" height="2.4" rx="2.5" ry="1.2" fill="#000" fill-opacity="1" filter="url(#b1)"/>
<rect x="217.8" y="42.7" width="8.9" height="1.2" rx="2.5" ry="0.6" fill="#000" fill-opacity="0.25" filter="url(#b1)"/>
<rect x="229.3" y="47" width="10.4" height="1.8" rx="2.5" ry="0.9" fill="#000" fill-opacity="0.9" filter="url(#b1)"/>
<rect x="243.3" y="42.05" width="8.4" height="1.3" rx="2.5" ry="0.65" fill="#000" fill-opacity="0.6" filter="url(#b1)"/>
<rect x="256.3" y="41.65" width="9.9" height="1.7" rx="2.5" ry="0.85" fill="#000" fill-opacity="0.95" filter="url(#b1)"/>
<rect x="269.8" y="41.5" width="7.9" height="1.2" rx="2.5" ry="0.6" fill="#000" fill-opacity="0.3" filter="url(#b1)"/>
<rect x="281.8" y="40.7" width="10.4" height="2" rx="2.5" ry="1" fill="#000" fill-opacity="1" filter="url(#b1)"/>
<rect x="216.8" y="56.3" width="8.9" height="1" rx="2.5" ry="0.5" fill="#000" fill-opacity="0.12" filter="url(#b1)"/>
<rect x="229.3" y="55.9" width="10.4" height="1.8" rx="2.5" ry="0.9" fill="#000" fill-opacity="0.9" filter="url(#b1)"/>
<rect x="243.3" y="56.3" width="8.4" height="1" rx="2.5" ry="0.5" fill="#000" fill-opacity="0.1" filter="url(#b1)"/>
<rect x="256.3" y="56" width="9.9" height="1.6" rx="2.5" ry="0.8" fill="#000" fill-opacity="0.85" filter="url(#b1)"/>
<rect x="269.8" y="56.3" width="7.9" height="1" rx="2.5" ry="0.5" fill="#000" fill-opacity="0.12" filter="url(#b1)"/>
<rect x="282.3" y="55.9" width="10.4" height="1.6" rx="2.5" ry="0.8" fill="#000" fill-opacity="0.85" filter="url(#b1)"/>
<rect x="296.3" y="56.2" width="8.4" height="1" rx="2.5" ry="0.5" fill="#000" fill-opacity="0.08" filter="url(#b1)"/>
<rect x="309.3" y="55.65" width="10.4" height="1.7" rx="2.5" ry="0.85" fill="#000" fill-opacity="0.95" filter="url(#b1)"/>
<text x="220.3" y="68.63" font-size="7.3" text-anchor="middle" stroke="#000" stroke-width="0.22" ><tspan>I</tspan></text>
<text x="234.1" y="68.63" font-size="7.3" text-anchor="middle" stroke="#000" stroke-width="0.22" ><tspan>S</tspan></text>
<text x="247.7" y="68.63" font-size="7.3" text-anchor="middle" stroke="#000" stroke-width="0.22" ><tspan>I</tspan></text>
<text x="261" y="68.63" font-size="7.3" text-anchor="middle" stroke="#000" stroke-width="0.22" ><tspan>S</tspan></text>
<text x="273.7" y="68.63" font-size="7.3" text-anchor="middle" stroke="#000" stroke-width="0.22" ><tspan>I</tspan></text>
<text x="288" y="68.63" font-size="7.3" text-anchor="middle" stroke="#000" stroke-width="0.22" ><tspan>S</tspan></text>
<text x="300.7" y="68.63" font-size="7.3" text-anchor="middle" stroke="#000" stroke-width="0.22" ><tspan>I</tspan></text>
<text x="314.6" y="68.63" font-size="7.3" text-anchor="middle" stroke="#000" stroke-width="0.22" ><tspan>S</tspan></text>
<text x="227.2" y="28" font-size="7.3" text-anchor="middle" stroke="#000" stroke-width="0.22" ><tspan>(G</tspan><tspan font-size="4.09" dy="2.63">4</tspan><tspan dy="-2.63">S)</tspan><tspan font-size="4.09" dy="2.63">4</tspan></text>
<text x="227.2" y="37.43" font-size="7.3" text-anchor="middle" stroke="#000" stroke-width="0.22" ><tspan>HA</tspan></text>
<text x="254.3" y="19.9" font-size="7.3" text-anchor="middle" stroke="#000" stroke-width="0.22" ><tspan>(G</tspan><tspan font-size="4.09" dy="2.63">4</tspan><tspan dy="-2.63">S)</tspan><tspan font-size="4.09" dy="2.63">4</tspan></text>
<text x="254.3" y="28.73" font-size="7.3" text-anchor="middle" stroke="#000" stroke-width="0.22" ><tspan>HA</tspan></text>
<text x="254.3" y="37.23" font-size="7.3" text-anchor="middle" stroke="#000" stroke-width="0.22" ><tspan>3FLAG</tspan></text>
<text x="280.8" y="19.9" font-size="7.3" text-anchor="middle" stroke="#000" stroke-width="0.22" ><tspan>(G</tspan><tspan font-size="4.09" dy="2.63">4</tspan><tspan dy="-2.63">D)</tspan><tspan font-size="4.09" dy="2.63">4</tspan></text>
<text x="280.8" y="28.73" font-size="7.3" text-anchor="middle" stroke="#000" stroke-width="0.22" ><tspan>HA</tspan></text>
<text x="280.8" y="37.23" font-size="7.3" text-anchor="middle" stroke="#000" stroke-width="0.22" ><tspan>3FLAG</tspan></text>
<text x="306" y="37.23" font-size="7.3" text-anchor="middle" stroke="#000" stroke-width="0.22" ><tspan>UTC</tspan></text>
<text x="200.2" y="39.93" font-size="7.3" stroke="#000" stroke-width="0.22" ><tspan>kDa</tspan></text>
<text x="211.5" y="47.03" font-size="7.3" text-anchor="end" stroke="#000" stroke-width="0.22" ><tspan>35</tspan></text>
<line x1="211.8" y1="44.4" x2="214.5" y2="44.4" stroke="#000" stroke-width="0.8" />
<text x="211.5" y="61.63" font-size="7.3" text-anchor="end" stroke="#000" stroke-width="0.22" ><tspan>40</tspan></text>
<line x1="211.8" y1="58.5" x2="214.5" y2="58.5" stroke="#000" stroke-width="0.8" />
<text x="323.3" y="48.36" font-size="6" stroke="#000" stroke-width="0.22" ><tspan>Anti-HA</tspan></text>
<text x="323.3" y="59.26" font-size="6" stroke="#000" stroke-width="0.22" ><tspan>Anti-βactin</tspan></text>
<line x1="383.5" y1="11.7" x2="383.5" y2="64.9" stroke="#000" stroke-width="1.2" />
<line x1="382.9" y1="64.4" x2="451.6" y2="64.4" stroke="#000" stroke-width="1.2" />
<line x1="381.5" y1="64.4" x2="383.5" y2="64.4" stroke="#000" stroke-width="1" />
<text x="381.2" y="67.44" font-size="7.6" text-anchor="end" stroke="#000" stroke-width="0.22" ><tspan>0</tspan></text>
<line x1="381.5" y1="53.86" x2="383.5" y2="53.86" stroke="#000" stroke-width="1" />
<text x="381.2" y="56.9" font-size="7.6" text-anchor="end" stroke="#000" stroke-width="0.22" ><tspan>20</tspan></text>
<line x1="381.5" y1="43.32" x2="383.5" y2="43.32" stroke="#000" stroke-width="1" />
<text x="381.2" y="46.36" font-size="7.6" text-anchor="end" stroke="#000" stroke-width="0.22" ><tspan>40</tspan></text>
<line x1="381.5" y1="32.78" x2="383.5" y2="32.78" stroke="#000" stroke-width="1" />
<text x="381.2" y="35.82" font-size="7.6" text-anchor="end" stroke="#000" stroke-width="0.22" ><tspan>60</tspan></text>
<line x1="381.5" y1="22.24" x2="383.5" y2="22.24" stroke="#000" stroke-width="1" />
<text x="381.2" y="25.28" font-size="7.6" text-anchor="end" stroke="#000" stroke-width="0.22" ><tspan>80</tspan></text>
<line x1="381.5" y1="11.7" x2="383.5" y2="11.7" stroke="#000" stroke-width="1" />
<text x="381.2" y="14.74" font-size="7.6" text-anchor="end" stroke="#000" stroke-width="0.22" ><tspan>100</tspan></text>
<text x="364.2" y="38.98" font-size="7.5" text-anchor="middle" stroke="#000" stroke-width="0.22" transform="rotate(-90 364.2 36.5)" ><tspan>Percent solubility</tspan></text>
<rect x="385.3" y="34.1" width="18.6" height="29.8" fill="#0070c0" />
<line x1="392.2" y1="31.4" x2="392.2" y2="36.9" stroke="#000" stroke-width="1.7" />
<line x1="389.7" y1="31.4" x2="394.7" y2="31.4" stroke="#000" stroke-width="1.3" />
<line x1="389.7" y1="36.9" x2="394.7" y2="36.9" stroke="#000" stroke-width="1.3" />
<circle cx="396.8" cy="32.4" r="0.6" fill="#000"/>
<circle cx="396.8" cy="35.7" r="0.6" fill="#000"/>
<line x1="394.6" y1="64.4" x2="394.6" y2="66.4" stroke="#000" stroke-width="1" />
<rect x="408" y="16.8" width="18.6" height="47.1" fill="#0070c0" />
<line x1="414.9" y1="12" x2="414.9" y2="21.3" stroke="#000" stroke-width="1.7" />
<line x1="412.4" y1="12" x2="417.4" y2="12" stroke="#000" stroke-width="1.3" />
<line x1="412.4" y1="21.3" x2="417.4" y2="21.3" stroke="#000" stroke-width="1.3" />
<circle cx="419.5" cy="12.7" r="0.6" fill="#000"/>
<circle cx="419.5" cy="15.2" r="0.6" fill="#000"/>
<circle cx="419.5" cy="21.3" r="0.6" fill="#000"/>
<line x1="417.3" y1="64.4" x2="417.3" y2="66.4" stroke="#000" stroke-width="1" />
<rect x="430.3" y="14.2" width="18.9" height="49.7" fill="#0070c0" />
<line x1="437.6" y1="12.2" x2="437.6" y2="15.7" stroke="#000" stroke-width="1.7" />
<line x1="435.1" y1="12.2" x2="440.1" y2="12.2" stroke="#000" stroke-width="1.3" />
<line x1="435.1" y1="15.7" x2="440.1" y2="15.7" stroke="#000" stroke-width="1.3" />
<circle cx="442.2" cy="12.7" r="0.6" fill="#000"/>
<circle cx="442.2" cy="15.2" r="0.6" fill="#000"/>
<line x1="439.75" y1="64.4" x2="439.75" y2="66.4" stroke="#000" stroke-width="1" />
<text x="392.8" y="74.98" font-size="7.6" text-anchor="middle" stroke="#000" stroke-width="0.22" ><tspan>(G</tspan><tspan font-size="4.26" dy="2.74">4</tspan><tspan dy="-2.74">S)</tspan><tspan font-size="4.26" dy="2.74">4</tspan></text>
<text x="393.4" y="84.04" font-size="7.6" text-anchor="middle" stroke="#000" stroke-width="0.22" ><tspan>HA</tspan></text>
<text x="418" y="74.98" font-size="7.6" text-anchor="middle" stroke="#000" stroke-width="0.22" ><tspan>(G</tspan><tspan font-size="4.26" dy="2.74">4</tspan><tspan dy="-2.74">S)</tspan><tspan font-size="4.26" dy="2.74">4</tspan></text>
<text x="417.4" y="84.04" font-size="7.6" text-anchor="middle" stroke="#000" stroke-width="0.22" ><tspan>HA</tspan></text>
<text x="417.8" y="92.04" font-size="7.6" text-anchor="middle" stroke="#000" stroke-width="0.22" ><tspan>3FLAG</tspan></text>
<text x="445.7" y="74.98" font-size="7.6" text-anchor="middle" stroke="#000" stroke-width="0.22" ><tspan>(G</tspan><tspan font-size="4.26" dy="2.74">4</tspan><tspan dy="-2.74">D)</tspan><tspan font-size="4.26" dy="2.74">4</tspan></text>
<text x="445.2" y="84.04" font-size="7.6" text-anchor="middle" stroke="#000" stroke-width="0.22" ><tspan>HA</tspan></text>
<text x="445.9" y="92.04" font-size="7.6" text-anchor="middle" stroke="#000" stroke-width="0.22" ><tspan>3FLAG</tspan></text>
<text x="538.7" y="10.84" font-size="14" font-weight="bold" stroke="#000" stroke-width="0.08" ><tspan>c</tspan></text>
<text x="570.8" y="13.77" font-size="8.8" stroke="#000" stroke-width="0.22" textLength="71.7" lengthAdjust="spacingAndGlyphs" ><tspan>scFv linker charge</tspan></text>
<text x="651.9" y="23.17" font-size="10.2" stroke="#000" stroke-width="0.22" ><tspan>Charge</tspan></text>
<text x="530.8" y="36.78" font-size="8" font-weight="bold" stroke="#000" stroke-width="0.08" ><tspan>(G</tspan><tspan font-size="4.64" dy="2.88">4</tspan><tspan dy="-2.88">S)</tspan><tspan font-size="4.64" dy="2.88">4</tspan></text>
<text x="560" y="42.6" font-size="6.4" font-weight="bold" fill="#3a3a3a" stroke="#3a3a3a" stroke-width="0.08" textLength="92.6" lengthAdjust="spacingAndGlyphs" ><tspan>GG</tspan><tspan font-weight="bold" fill="#000" stroke="#000">S</tspan><tspan>GGGG</tspan><tspan font-weight="bold" fill="#000" stroke="#000">S</tspan><tspan>GGGG</tspan><tspan font-weight="bold" fill="#000" stroke="#000">S</tspan><tspan>GGGG</tspan><tspan font-weight="bold" fill="#000" stroke="#000">S</tspan><tspan>GG</tspan></text>
<text x="663.8" y="35.37" font-size="10.2" stroke="#000" stroke-width="0.22" ><tspan>0</tspan></text>
<text x="530.8" y="67.98" font-size="8" font-weight="bold" stroke="#000" stroke-width="0.08" ><tspan>(G</tspan><tspan font-size="4.64" dy="2.88">4</tspan><tspan dy="-2.88">D)</tspan><tspan font-size="4.64" dy="2.88">3</tspan></text>
<text x="571.4" y="74.1" font-size="6.4" font-weight="bold" fill="#3a3a3a" stroke="#3a3a3a" stroke-width="0.08" textLength="71" lengthAdjust="spacingAndGlyphs" ><tspan>GG</tspan><tspan fill="#e8121c" stroke="#e8121c">D</tspan><tspan>GGGG</tspan><tspan fill="#e8121c" stroke="#e8121c">D</tspan><tspan>GGGG</tspan><tspan fill="#e8121c" stroke="#e8121c">D</tspan><tspan>GG</tspan></text>
<text x="661.6" y="66.87" font-size="10.2" stroke="#000" stroke-width="0.22" ><tspan>-3</tspan></text>
<text x="530.8" y="100.58" font-size="8" font-weight="bold" stroke="#000" stroke-width="0.08" ><tspan>(G</tspan><tspan font-size="4.64" dy="2.88">4</tspan><tspan dy="-2.88">D)</tspan><tspan font-size="4.64" dy="2.88">4</tspan></text>
<text x="559.7" y="107.3" font-size="6.4" font-weight="bold" fill="#3a3a3a" stroke="#3a3a3a" stroke-width="0.08" textLength="93.8" lengthAdjust="spacingAndGlyphs" ><tspan>GG</tspan><tspan fill="#e8121c" stroke="#e8121c">D</tspan><tspan>GGGG</tspan><tspan fill="#e8121c" stroke="#e8121c">D</tspan><tspan>GGGG</tspan><tspan fill="#e8121c" stroke="#e8121c">D</tspan><tspan>GGGG</tspan><tspan fill="#e8121c" stroke="#e8121c">D</tspan><tspan>GG</tspan></text>
<text x="662.2" y="99.77" font-size="10.2" stroke="#000" stroke-width="0.22" ><tspan>-4</tspan></text>
<text x="530.8" y="137.38" font-size="8" font-weight="bold" stroke="#000" stroke-width="0.08" ><tspan>(G</tspan><tspan font-size="4.64" dy="2.88">4</tspan><tspan dy="-2.88">E)</tspan><tspan font-size="4.64" dy="2.88">4</tspan></text>
<text x="561.9" y="143.7" font-size="6.4" font-weight="bold" fill="#3a3a3a" stroke="#3a3a3a" stroke-width="0.08" textLength="92.2" lengthAdjust="spacingAndGlyphs" ><tspan>GG</tspan><tspan fill="#e8121c" stroke="#e8121c">E</tspan><tspan>GGGG</tspan><tspan fill="#e8121c" stroke="#e8121c">E</tspan><tspan>GGGG</tspan><tspan fill="#e8121c" stroke="#e8121c">E</tspan><tspan>GGGG</tspan><tspan fill="#e8121c" stroke="#e8121c">E</tspan><tspan>GG</tspan></text>
<text x="662.2" y="136.27" font-size="10.2" stroke="#000" stroke-width="0.22" ><tspan>-4</tspan></text>
<text x="530.8" y="173.68" font-size="8" font-weight="bold" stroke="#000" stroke-width="0.08" ><tspan>(G</tspan><tspan font-size="4.64" dy="2.88">2</tspan><tspan dy="-2.88">D)</tspan><tspan font-size="4.64" dy="2.88">7</tspan></text>
<text x="558.3" y="179.8" font-size="6.4" font-weight="bold" fill="#3a3a3a" stroke="#3a3a3a" stroke-width="0.08" textLength="96.2" lengthAdjust="spacingAndGlyphs" ><tspan>G</tspan><tspan fill="#e8121c" stroke="#e8121c">D</tspan><tspan>GG</tspan><tspan fill="#e8121c" stroke="#e8121c">D</tspan><tspan>GG</tspan><tspan fill="#e8121c" stroke="#e8121c">D</tspan><tspan>GG</tspan><tspan fill="#e8121c" stroke="#e8121c">D</tspan><tspan>GG</tspan><tspan fill="#e8121c" stroke="#e8121c">D</tspan><tspan>GG</tspan><tspan fill="#e8121c" stroke="#e8121c">D</tspan><tspan>GG</tspan><tspan fill="#e8121c" stroke="#e8121c">D</tspan><tspan>G</tspan></text>
<text x="662.2" y="172.67" font-size="10.2" stroke="#000" stroke-width="0.22" ><tspan>-7</tspan></text>
<text x="530.8" y="210.38" font-size="8" font-weight="bold" stroke="#000" stroke-width="0.08" ><tspan>(G</tspan><tspan font-size="4.64" dy="2.88">2</tspan><tspan dy="-2.88">E)</tspan><tspan font-size="4.64" dy="2.88">7</tspan></text>
<text x="558.9" y="218" font-size="6.4" font-weight="bold" fill="#3a3a3a" stroke="#3a3a3a" stroke-width="0.08" textLength="95.6" lengthAdjust="spacingAndGlyphs" ><tspan>G</tspan><tspan fill="#e8121c" stroke="#e8121c">E</tspan><tspan>GG</tspan><tspan fill="#e8121c" stroke="#e8121c">E</tspan><tspan>GG</tspan><tspan fill="#e8121c" stroke="#e8121c">E</tspan><tspan>GG</tspan><tspan fill="#e8121c" stroke="#e8121c">E</tspan><tspan>GG</tspan><tspan fill="#e8121c" stroke="#e8121c">E</tspan><tspan>GG</tspan><tspan fill="#e8121c" stroke="#e8121c">E</tspan><tspan>GG</tspan><tspan fill="#e8121c" stroke="#e8121c">E</tspan><tspan>G</tspan></text>
<text x="662.2" y="209.47" font-size="10.2" stroke="#000" stroke-width="0.22" ><tspan>-7</tspan></text>
<text x="530.8" y="247.18" font-size="8" font-weight="bold" stroke="#000" stroke-width="0.08" ><tspan>(GD)</tspan><tspan font-size="4.64" dy="2.88">10</tspan></text>
<text x="558.3" y="255.5" font-size="6.4" font-weight="bold" fill="#3a3a3a" stroke="#3a3a3a" stroke-width="0.08" textLength="96.6" lengthAdjust="spacingAndGlyphs" ><tspan>G</tspan><tspan fill="#e8121c" stroke="#e8121c">D</tspan><tspan>G</tspan><tspan fill="#e8121c" stroke="#e8121c">D</tspan><tspan>G</tspan><tspan fill="#e8121c" stroke="#e8121c">D</tspan><tspan>G</tspan><tspan fill="#e8121c" stroke="#e8121c">D</tspan><tspan>G</tspan><tspan fill="#e8121c" stroke="#e8121c">D</tspan><tspan>G</tspan><tspan fill="#e8121c" stroke="#e8121c">D</tspan><tspan>G</tspan><tspan fill="#e8121c" stroke="#e8121c">D</tspan><tspan>G</tspan><tspan fill="#e8121c" stroke="#e8121c">D</tspan><tspan>G</tspan><tspan fill="#e8121c" stroke="#e8121c">D</tspan><tspan>G</tspan><tspan fill="#e8121c" stroke="#e8121c">D</tspan><tspan>G</tspan></text>
<text x="659" y="246.27" font-size="10.2" stroke="#000" stroke-width="0.22" ><tspan>-10</tspan></text>
<text x="530.8" y="288.98" font-size="8" font-weight="bold" stroke="#000" stroke-width="0.08" ><tspan>(GE)</tspan><tspan font-size="4.64" dy="2.88">10</tspan></text>
<text x="559.7" y="297" font-size="6.4" font-weight="bold" fill="#3a3a3a" stroke="#3a3a3a" stroke-width="0.08" textLength="93.2" lengthAdjust="spacingAndGlyphs" ><tspan>G</tspan><tspan fill="#e8121c" stroke="#e8121c">E</tspan><tspan>G</tspan><tspan fill="#e8121c" stroke="#e8121c">E</tspan><tspan>G</tspan><tspan fill="#e8121c" stroke="#e8121c">E</tspan><tspan>G</tspan><tspan fill="#e8121c" stroke="#e8121c">E</tspan><tspan>G</tspan><tspan fill="#e8121c" stroke="#e8121c">E</tspan><tspan>G</tspan><tspan fill="#e8121c" stroke="#e8121c">E</tspan><tspan>G</tspan><tspan fill="#e8121c" stroke="#e8121c">E</tspan><tspan>G</tspan><tspan fill="#e8121c" stroke="#e8121c">E</tspan><tspan>G</tspan><tspan fill="#e8121c" stroke="#e8121c">E</tspan><tspan>G</tspan><tspan fill="#e8121c" stroke="#e8121c">E</tspan><tspan>G</tspan></text>
<text x="659" y="287.67" font-size="10.2" stroke="#000" stroke-width="0.22" ><tspan>-10</tspan></text>
<rect x="559.7" y="306.4" width="95.7" height="6.6" fill="url(#cbar)" />
<text x="607.9" y="311.92" font-size="5.9" text-anchor="middle" fill="#111" stroke="#111" stroke-width="0.22" ><tspan>Electrostatic potential</tspan></text>
<text x="559.5" y="318.98" font-size="6.6" text-anchor="middle" stroke="#000" stroke-width="0.22" ><tspan>-10</tspan></text>
<text x="606.7" y="318.98" font-size="6.6" text-anchor="middle" stroke="#000" stroke-width="0.22" ><tspan>0</tspan></text>
<text x="655" y="318.98" font-size="6.6" text-anchor="middle" stroke="#000" stroke-width="0.22" ><tspan>+10</tspan></text>
<text x="13.8" y="94.44" font-size="14" font-weight="bold" stroke="#000" stroke-width="0.08" ><tspan>d</tspan></text>
<text x="47.3" y="88.72" font-size="8.1" font-weight="bold" stroke="#000" stroke-width="0.08" ><tspan>Z-FUS scFv construct</tspan></text>
<text x="77" y="98.96" font-size="7.1" stroke="#000" stroke-width="0.22" ><tspan>3xFLAG, HA</tspan></text>
<line x1="38.3" y1="102.1" x2="152" y2="102.1" stroke="#9a9a9a" stroke-width="1.4" />
<text x="23.8" y="109.68" font-size="7.6" text-anchor="middle" stroke="#000" stroke-width="0.22" ><tspan>(G</tspan><tspan font-size="4.26" dy="2.74">4</tspan><tspan dy="-2.74">S)</tspan><tspan font-size="4.26" dy="2.74">4</tspan></text>
<text x="23.8" y="119.04" font-size="7.6" text-anchor="middle" stroke="#000" stroke-width="0.22" ><tspan>+HA</tspan></text>
<text x="0" y="0" font-size="8.2" stroke="#000" stroke-width="0.2" transform="translate(42.1 122.8) rotate(-42)"><tspan>(G</tspan><tspan font-size="4.59" dy="2.95">4</tspan><tspan dy="-2.95">D)</tspan><tspan font-size="4.59" dy="2.95">3</tspan></text>
<text x="0" y="0" font-size="8.2" stroke="#000" stroke-width="0.2" transform="translate(58.8 122.8) rotate(-42)"><tspan>(G</tspan><tspan font-size="4.59" dy="2.95">4</tspan><tspan dy="-2.95">D)</tspan><tspan font-size="4.59" dy="2.95">4</tspan></text>
<text x="0" y="0" font-size="8.2" stroke="#000" stroke-width="0.2" transform="translate(75.8 122.8) rotate(-42)"><tspan>(G</tspan><tspan font-size="4.59" dy="2.95">2</tspan><tspan dy="-2.95">D)</tspan><tspan font-size="4.59" dy="2.95">7</tspan></text>
<text x="0" y="0" font-size="8.2" stroke="#000" stroke-width="0.2" transform="translate(92.4 122.8) rotate(-42)"><tspan>(GD)</tspan><tspan font-size="4.59" dy="2.95">10</tspan></text>
<text x="0" y="0" font-size="8.2" stroke="#000" stroke-width="0.2" transform="translate(112.4 122.8) rotate(-42)"><tspan>(G</tspan><tspan font-size="4.59" dy="2.95">4</tspan><tspan dy="-2.95">E)</tspan><tspan font-size="4.59" dy="2.95">4</tspan></text>
<text x="0" y="0" font-size="8.2" stroke="#000" stroke-width="0.2" transform="translate(128.2 122.8) rotate(-42)"><tspan>(G</tspan><tspan font-size="4.59" dy="2.95">2</tspan><tspan dy="-2.95">E)</tspan><tspan font-size="4.59" dy="2.95">7</tspan></text>
<text x="0" y="0" font-size="8.2" stroke="#000" stroke-width="0.2" transform="translate(144.4 122.8) rotate(-42)"><tspan>(GE)</tspan><tspan font-size="4.59" dy="2.95">10</tspan></text>
<rect x="15.9" y="123.8" width="16.6" height="26.8" fill="#fcfcfc" stroke="#5e4838" stroke-width="1.3"/>
<rect x="15.9" y="154.5" width="16.6" height="19" fill="#f4f4f4" stroke="#5e4838" stroke-width="1.3"/>
<rect x="15.9" y="178" width="16.6" height="21.3" fill="#fbfbfb" stroke="#5e4838" stroke-width="1.3"/>
<rect x="15.9" y="203.2" width="16.6" height="15" fill="#fcfcfc" stroke="#5e4838" stroke-width="1.3"/>
<rect x="15.9" y="222.4" width="16.6" height="16.9" fill="#fcfcfc" stroke="#5e4838" stroke-width="1.3"/>
<rect x="38.1" y="123.8" width="62.6" height="26.8" fill="#fefefe" stroke="#5e4838" stroke-width="1.3"/>
<rect x="38.1" y="154.5" width="62.6" height="19" fill="#e8e8e8" stroke="#5e4838" stroke-width="1.3"/>
<rect x="38.1" y="178" width="62.6" height="21.3" fill="#fefefe" stroke="#5e4838" stroke-width="1.3"/>
<rect x="38.1" y="203.2" width="62.6" height="15" fill="#ececec" stroke="#5e4838" stroke-width="1.3"/>
<rect x="38.1" y="222.4" width="62.6" height="16.9" fill="#fbfbfb" stroke="#5e4838" stroke-width="1.3"/>
<rect x="106.6" y="123.8" width="46.1" height="26.8" fill="#fefefe" stroke="#5e4838" stroke-width="1.3"/>
<rect x="106.6" y="154.5" width="46.1" height="19" fill="#eeeeee" stroke="#5e4838" stroke-width="1.3"/>
<rect x="106.6" y="178" width="46.1" height="21.3" fill="#fefefe" stroke="#5e4838" stroke-width="1.3"/>
<rect x="106.6" y="203.2" width="46.1" height="15" fill="#e4e4e4" stroke="#5e4838" stroke-width="1.3"/>
<rect x="106.6" y="222.4" width="46.1" height="16.9" fill="#fbfbfb" stroke="#5e4838" stroke-width="1.3"/>
<text x="0.9" y="133.76" font-size="7.1" stroke="#000" stroke-width="0.22" ><tspan>kDa</tspan></text>
<text x="12.5" y="144.16" font-size="7.1" text-anchor="end" stroke="#000" stroke-width="0.22" ><tspan>35</tspan></text>
<line x1="12.8" y1="141.6" x2="15.9" y2="141.6" stroke="#000" stroke-width="0.8" />
<text x="12.5" y="164.86" font-size="7.1" text-anchor="end" stroke="#000" stroke-width="0.22" ><tspan>100</tspan></text>
<line x1="12.8" y1="162.3" x2="15.9" y2="162.3" stroke="#000" stroke-width="0.8" />
<text x="12.5" y="187.26" font-size="7.1" text-anchor="end" stroke="#000" stroke-width="0.22" ><tspan>35</tspan></text>
<line x1="12.8" y1="184.7" x2="15.9" y2="184.7" stroke="#000" stroke-width="0.8" />
<text x="12.5" y="211.96" font-size="7.1" text-anchor="end" stroke="#000" stroke-width="0.22" ><tspan>100</tspan></text>
<line x1="12.8" y1="209.4" x2="15.9" y2="209.4" stroke="#000" stroke-width="0.8" />
<text x="12.5" y="232.76" font-size="7.1" text-anchor="end" stroke="#000" stroke-width="0.22" ><tspan>100</tspan></text>
<line x1="12.8" y1="230.2" x2="15.9" y2="230.2" stroke="#000" stroke-width="0.8" />
<text x="156.9" y="135.48" font-size="6.9" font-weight="bold" stroke="#000" stroke-width="0.08" ><tspan>Lysate</tspan></text>
<text x="156.9" y="143.48" font-size="6.9" stroke="#000" stroke-width="0.22" ><tspan>scFv (anti-HA)</tspan></text>
<text x="156.9" y="163.08" font-size="6.9" font-weight="bold" stroke="#000" stroke-width="0.08" ><tspan>Lysate</tspan></text>
<text x="156.9" y="171.18" font-size="6.9" stroke="#000" stroke-width="0.22" ><tspan>FUS (anti-FUS)</tspan></text>
<text x="156.9" y="188.58" font-size="6.9" font-weight="bold" stroke="#000" stroke-width="0.08" ><tspan>IP</tspan></text>
<text x="156.9" y="195.18" font-size="6.9" stroke="#000" stroke-width="0.22" ><tspan>scFv (anti-HA)</tspan></text>
<text x="156.9" y="210.18" font-size="6.9" font-weight="bold" stroke="#000" stroke-width="0.08" ><tspan>IP</tspan></text>
<text x="156.9" y="216.78" font-size="6.9" stroke="#000" stroke-width="0.22" ><tspan>GFP-FUS (anti-FUS)</tspan></text>
<text x="156.9" y="230.28" font-size="6.9" font-weight="bold" stroke="#000" stroke-width="0.08" ><tspan>IP</tspan></text>
<text x="156.9" y="236.88" font-size="6.9" stroke="#000" stroke-width="0.22" ><tspan>GFP-FUS (anti-GFP)</tspan></text>
<rect x="39.8" y="135.6" width="12.4" height="2.6" rx="2.5" ry="1.3" fill="#000" fill-opacity="1" filter="url(#b1)"/>
<rect x="54.3" y="134.8" width="13.4" height="2.6" rx="2.5" ry="1.3" fill="#000" fill-opacity="1" filter="url(#b1)"/>
<rect x="70.3" y="134" width="13.9" height="2.6" rx="2.5" ry="1.3" fill="#000" fill-opacity="1" filter="url(#b1)"/>
<rect x="85.8" y="134" width="13.9" height="2.6" rx="2.5" ry="1.3" fill="#000" fill-opacity="1" filter="url(#b1)"/>
<rect x="107.8" y="134.4" width="13.9" height="2.6" rx="2.5" ry="1.3" fill="#000" fill-opacity="1" filter="url(#b1)"/>
<rect x="123.3" y="133.2" width="13.4" height="2.4" rx="2.5" ry="1.2" fill="#000" fill-opacity="0.95" filter="url(#b1)"/>
<rect x="138.3" y="132.2" width="12.9" height="2" rx="2.5" ry="1" fill="#000" fill-opacity="0.85" filter="url(#b1)"/>
<rect x="18.3" y="143.6" width="11.9" height="1.2" rx="2.5" ry="0.6" fill="#000" fill-opacity="0.3" filter="url(#b1)"/>
<rect x="18.3" y="159.9" width="11.9" height="1.2" rx="2.5" ry="0.6" fill="#000" fill-opacity="0.15" filter="url(#b1)"/>
<rect x="18.3" y="165.9" width="11.9" height="1.4" rx="2.5" ry="0.7" fill="#000" fill-opacity="0.35" filter="url(#b1)"/>
<rect x="39.8" y="159.2" width="12.4" height="2.2" rx="2.5" ry="1.1" fill="#000" fill-opacity="0.35" filter="url(#b15)"/>
<rect x="39.8" y="165.4" width="12.4" height="2.6" rx="2.5" ry="1.3" fill="#000" fill-opacity="0.65" filter="url(#b15)"/>
<rect x="54.3" y="158.9" width="13.4" height="2.8" rx="2.5" ry="1.4" fill="#000" fill-opacity="0.8" filter="url(#b15)"/>
<rect x="54.3" y="165.1" width="13.4" height="3.2" rx="2.5" ry="1.6" fill="#000" fill-opacity="0.95" filter="url(#b15)"/>
<rect x="70.3" y="158.5" width="13.9" height="3.6" rx="2.5" ry="1.8" fill="#000" fill-opacity="1" filter="url(#b15)"/>
<rect x="70.3" y="164.6" width="13.9" height="4.2" rx="2.5" ry="2.1" fill="#000" fill-opacity="1" filter="url(#b15)"/>
<rect x="85.8" y="158.9" width="13.9" height="2.8" rx="2.5" ry="1.4" fill="#000" fill-opacity="0.9" filter="url(#b15)"/>
<rect x="85.8" y="165.1" width="13.9" height="3.2" rx="2.5" ry="1.6" fill="#000" fill-opacity="0.95" filter="url(#b15)"/>
<ellipse cx="62.5" cy="169" rx="5.5" ry="2" fill="#000" fill-opacity="0.2" filter="url(#b3)"/>
<ellipse cx="77.5" cy="164" rx="7.5" ry="5" fill="#000" fill-opacity="0.3" filter="url(#b3)"/>
<ellipse cx="93" cy="166" rx="7" ry="3" fill="#000" fill-opacity="0.15" filter="url(#b3)"/>
<rect x="107.8" y="158.8" width="13.9" height="3" rx="2.5" ry="1.5" fill="#000" fill-opacity="1" filter="url(#b15)"/>
<rect x="107.8" y="165.2" width="13.9" height="3" rx="2.5" ry="1.5" fill="#000" fill-opacity="1" filter="url(#b15)"/>
<rect x="123.3" y="159.8" width="13.4" height="1.6" rx="2.5" ry="0.8" fill="#000" fill-opacity="0.35" filter="url(#b15)"/>
<rect x="123.3" y="165.7" width="13.4" height="2" rx="2.5" ry="1" fill="#000" fill-opacity="0.55" filter="url(#b15)"/>
<rect x="138.3" y="159.5" width="12.9" height="1.6" rx="2.5" ry="0.8" fill="#000" fill-opacity="0.3" filter="url(#b15)"/>
<rect x="138.3" y="165.3" width="12.9" height="2" rx="2.5" ry="1" fill="#000" fill-opacity="0.5" filter="url(#b15)"/>
<rect x="18.3" y="181.8" width="11.9" height="1.2" rx="2.5" ry="0.6" fill="#000" fill-opacity="0.5" filter="url(#b1)"/>
<rect x="18.3" y="186.35" width="11.9" height="1.1" rx="2.5" ry="0.55" fill="#000" fill-opacity="0.35" filter="url(#b1)"/>
<rect x="39.6" y="183.7" width="13.6" height="2.2" rx="2.5" ry="1.1" fill="#000" fill-opacity="0.9" filter="url(#b1)"/>
<rect x="54.3" y="183" width="14.4" height="2.4" rx="2.5" ry="1.2" fill="#000" fill-opacity="1" filter="url(#b1)"/>
<rect x="69.8" y="182.35" width="14.9" height="2.5" rx="2.5" ry="1.25" fill="#000" fill-opacity="1" filter="url(#b1)"/>
<rect x="85.3" y="182.25" width="14.6" height="2.5" rx="2.5" ry="1.25" fill="#000" fill-opacity="1" filter="url(#b1)"/>
<rect x="107.6" y="183.45" width="14.6" height="2.3" rx="2.5" ry="1.15" fill="#000" fill-opacity="1" filter="url(#b1)"/>
<rect x="122.8" y="183.05" width="14.4" height="2.3" rx="2.5" ry="1.15" fill="#000" fill-opacity="0.95" filter="url(#b1)"/>
<rect x="137.8" y="183.45" width="13.9" height="2.1" rx="2.5" ry="1.05" fill="#000" fill-opacity="0.9" filter="url(#b1)"/>
<rect x="39.8" y="206.1" width="12.4" height="1.4" rx="2.5" ry="0.7" fill="#000" fill-opacity="0.2" filter="url(#b15)"/>
<rect x="39.8" y="211.8" width="12.4" height="1.8" rx="2.5" ry="0.9" fill="#000" fill-opacity="0.45" filter="url(#b15)"/>
<rect x="54.3" y="206.3" width="13.4" height="1.8" rx="2.5" ry="0.9" fill="#000" fill-opacity="0.5" filter="url(#b15)"/>
<rect x="54.3" y="211.8" width="13.4" height="2" rx="2.5" ry="1" fill="#000" fill-opacity="0.55" filter="url(#b15)"/>
<rect x="70.3" y="207" width="13.9" height="2.8" rx="2.5" ry="1.4" fill="#000" fill-opacity="1" filter="url(#b15)"/>
<rect x="70.3" y="212.9" width="13.9" height="2.8" rx="2.5" ry="1.4" fill="#000" fill-opacity="1" filter="url(#b15)"/>
<rect x="85.8" y="206.9" width="13.9" height="3" rx="2.5" ry="1.5" fill="#000" fill-opacity="1" filter="url(#b15)"/>
<rect x="85.8" y="212.8" width="13.9" height="3" rx="2.5" ry="1.5" fill="#000" fill-opacity="1" filter="url(#b15)"/>
<ellipse cx="85" cy="211.4" rx="15" ry="2.5" fill="#000" fill-opacity="0.25" filter="url(#b3)"/>
<ellipse cx="122.4" cy="211.6" rx="15.1" ry="3.25" fill="#000" fill-opacity="0.35" filter="url(#b3)"/>
<rect x="107.8" y="207" width="14.4" height="3.4" rx="2.5" ry="1.7" fill="#000" fill-opacity="1" filter="url(#b15)"/>
<rect x="107.8" y="212.9" width="14.4" height="3" rx="2.5" ry="1.5" fill="#000" fill-opacity="1" filter="url(#b15)"/>
<rect x="122.8" y="207.2" width="14.4" height="3" rx="2.5" ry="1.5" fill="#000" fill-opacity="1" filter="url(#b15)"/>
<rect x="122.8" y="213" width="14.4" height="2.8" rx="2.5" ry="1.4" fill="#000" fill-opacity="0.95" filter="url(#b15)"/>
<rect x="138.3" y="207.5" width="12.9" height="2.2" rx="2.5" ry="1.1" fill="#000" fill-opacity="0.65" filter="url(#b15)"/>
<rect x="138.3" y="213.1" width="12.9" height="2.4" rx="2.5" ry="1.2" fill="#000" fill-opacity="0.8" filter="url(#b15)"/>
<rect x="39.8" y="228.8" width="12.4" height="1.4" rx="2.5" ry="0.7" fill="#000" fill-opacity="0.45" filter="url(#b1)"/>
<rect x="54.3" y="228.5" width="13.4" height="2" rx="2.5" ry="1" fill="#000" fill-opacity="0.95" filter="url(#b1)"/>
<rect x="70.3" y="228.4" width="13.9" height="2.2" rx="2.5" ry="1.1" fill="#000" fill-opacity="1" filter="url(#b1)"/>
<rect x="85.8" y="228.4" width="13.9" height="2.2" rx="2.5" ry="1.1" fill="#000" fill-opacity="1" filter="url(#b1)"/>
<rect x="56.3" y="234.5" width="11.4" height="1" rx="2.5" ry="0.5" fill="#000" fill-opacity="0.12" filter="url(#b1)"/>
<rect x="71.3" y="234.5" width="12.4" height="1" rx="2.5" ry="0.5" fill="#000" fill-opacity="0.18" filter="url(#b1)"/>
<rect x="86.3" y="234.5" width="12.4" height="1" rx="2.5" ry="0.5" fill="#000" fill-opacity="0.18" filter="url(#b1)"/>
<rect x="107.8" y="228.4" width="13.9" height="3.2" rx="2.5" ry="1.6" fill="#000" fill-opacity="1" filter="url(#b15)"/>
<rect x="123.3" y="228.9" width="13.4" height="2.2" rx="2.5" ry="1.1" fill="#000" fill-opacity="0.9" filter="url(#b15)"/>
<rect x="138.3" y="229.1" width="12.9" height="1.8" rx="2.5" ry="0.9" fill="#000" fill-opacity="0.55" filter="url(#b15)"/>
<rect x="126.3" y="227.6" width="3.4" height="1.4" rx="2" ry="0.7" fill="#000" fill-opacity="0.5" filter="url(#b1)"/>
<rect x="108.3" y="234.3" width="11.4" height="1.4" rx="2.5" ry="0.7" fill="#000" fill-opacity="0.45" filter="url(#b1)"/>
<path d="M23.7 245.5 V261.2 H45.2" fill="none" stroke="#333" stroke-width="1"/>
<path d="M23.7 243.2 L21.2 247.6 L23.7 246.6 L26.2 247.6 Z" fill="#222"/>
<text x="47.4" y="249.95" font-size="7.37" font-weight="bold" stroke="#000" stroke-width="0.08" ><tspan>Target pull down successful</tspan></text>
<text x="46.1" y="263.06" font-size="7.4" font-weight="bold" stroke="#000" stroke-width="0.08" ><tspan>Target pull down </tspan><tspan fill="#e8121c" stroke="#e8121c">not</tspan><tspan> successful</tspan></text>
<text x="237.7" y="112.04" font-size="14" font-weight="bold" stroke="#000" stroke-width="0.08" ><tspan>e</tspan></text>
<line x1="290.3" y1="103.7" x2="290.3" y2="152" stroke="#000" stroke-width="1.3" />
<line x1="289.7" y1="151.5" x2="475.7" y2="151.5" stroke="#000" stroke-width="1.3" />
<line x1="290.3" y1="161.1" x2="290.3" y2="209.9" stroke="#000" stroke-width="1.3" />
<line x1="289.7" y1="209.4" x2="475.7" y2="209.4" stroke="#000" stroke-width="1.3" />
<line x1="288.1" y1="151.5" x2="290.3" y2="151.5" stroke="#000" stroke-width="1" />
<text x="286.7" y="154.96" font-size="8.5" text-anchor="end" stroke="#000" stroke-width="0.22" ><tspan>0</tspan></text>
<line x1="288.1" y1="127.6" x2="290.3" y2="127.6" stroke="#000" stroke-width="1" />
<text x="286.7" y="131.06" font-size="8.5" text-anchor="end" stroke="#000" stroke-width="0.22" ><tspan>50</tspan></text>
<line x1="288.1" y1="103.7" x2="290.3" y2="103.7" stroke="#000" stroke-width="1" />
<text x="286.7" y="107.16" font-size="8.5" text-anchor="end" stroke="#000" stroke-width="0.22" ><tspan>100</tspan></text>
<line x1="288.1" y1="209.4" x2="290.3" y2="209.4" stroke="#000" stroke-width="1" />
<line x1="288.1" y1="197.32" x2="290.3" y2="197.32" stroke="#000" stroke-width="1" />
<line x1="288.1" y1="185.25" x2="290.3" y2="185.25" stroke="#000" stroke-width="1" />
<line x1="288.1" y1="173.18" x2="290.3" y2="173.18" stroke="#000" stroke-width="1" />
<line x1="288.1" y1="161.1" x2="290.3" y2="161.1" stroke="#000" stroke-width="1" />
<text x="286.9" y="164.56" font-size="8.5" text-anchor="end" stroke="#000" stroke-width="0.22" ><tspan>1</tspan></text>
<text x="286.9" y="212.86" font-size="8.5" text-anchor="end" stroke="#000" stroke-width="0.22" ><tspan>0</tspan></text>
<text x="266.3" y="130.84" font-size="8.6" text-anchor="middle" stroke="#000" stroke-width="0.22" transform="rotate(-90 266.3 128)" ><tspan>% Solubility</tspan></text>
<text x="260" y="186.14" font-size="8.6" text-anchor="middle" stroke="#000" stroke-width="0.22" transform="rotate(-90 260 183.3)" ><tspan>Relative</tspan></text>
<text x="267.6" y="186.14" font-size="8.6" text-anchor="middle" stroke="#000" stroke-width="0.22" transform="rotate(-90 267.6 183.3)" ><tspan>soluble</tspan></text>
<text x="275" y="186.14" font-size="8.6" text-anchor="middle" stroke="#000" stroke-width="0.22" transform="rotate(-90 275 183.3)" ><tspan>abundance</tspan></text>
<rect x="296.9" y="144.9" width="18" height="6" fill="#0070c0" />
<line x1="305.9" y1="136.4" x2="305.9" y2="151.5" stroke="#000" stroke-width="1.5" />
<line x1="304" y1="136.4" x2="307.8" y2="136.4" stroke="#000" stroke-width="1.3" />
<line x1="304" y1="151.5" x2="307.8" y2="151.5" stroke="#000" stroke-width="1.3" />
<circle cx="310.4" cy="141.4" r="1.1" fill="#000"/>
<circle cx="310.4" cy="149.9" r="1.1" fill="#000"/>
<line x1="305.9" y1="151.5" x2="305.9" y2="153.7" stroke="#000" stroke-width="1" />
<rect x="296.9" y="206.9" width="18" height="1.9" fill="#0070c0" />
<line x1="305.9" y1="203.5" x2="305.9" y2="209.4" stroke="#000" stroke-width="1.5" />
<line x1="304" y1="203.5" x2="307.8" y2="203.5" stroke="#000" stroke-width="1.3" />
<line x1="304" y1="209.4" x2="307.8" y2="209.4" stroke="#000" stroke-width="1.3" />
<circle cx="310.4" cy="203.1" r="1.1" fill="#000"/>
<circle cx="310.4" cy="207.1" r="1.1" fill="#000"/>
<line x1="305.9" y1="209.4" x2="305.9" y2="211.6" stroke="#000" stroke-width="1" />
<rect x="319" y="129.3" width="18" height="21.6" fill="#00b2bc" />
<line x1="328" y1="121.7" x2="328" y2="138" stroke="#000" stroke-width="1.5" />
<line x1="326.1" y1="121.7" x2="329.9" y2="121.7" stroke="#000" stroke-width="1.3" />
<line x1="326.1" y1="138" x2="329.9" y2="138" stroke="#000" stroke-width="1.3" />
<circle cx="332.5" cy="121.3" r="1.1" fill="#000"/>
<circle cx="332.5" cy="123.3" r="1.1" fill="#000"/>
<circle cx="332.5" cy="134.4" r="1.1" fill="#000"/>
<circle cx="332.5" cy="138.4" r="1.1" fill="#000"/>
<line x1="328" y1="151.5" x2="328" y2="153.7" stroke="#000" stroke-width="1" />
<rect x="319" y="178.7" width="18" height="30.1" fill="#00b2bc" />
<line x1="328" y1="166.2" x2="328" y2="190.8" stroke="#000" stroke-width="1.5" />
<line x1="326.1" y1="166.2" x2="329.9" y2="166.2" stroke="#000" stroke-width="1.3" />
<line x1="326.1" y1="190.8" x2="329.9" y2="190.8" stroke="#000" stroke-width="1.3" />
<circle cx="332.5" cy="165.7" r="1.1" fill="#000"/>
<circle cx="332.5" cy="179.9" r="1.1" fill="#000"/>
<circle cx="332.5" cy="190.4" r="1.1" fill="#000"/>
<line x1="328" y1="209.4" x2="328" y2="211.6" stroke="#000" stroke-width="1" />
<rect x="340.6" y="118.8" width="18" height="32.1" fill="#00b2bc" />
<line x1="349.6" y1="111.6" x2="349.6" y2="125.9" stroke="#000" stroke-width="1.5" />
<line x1="347.7" y1="111.6" x2="351.5" y2="111.6" stroke="#000" stroke-width="1.3" />
<line x1="347.7" y1="125.9" x2="351.5" y2="125.9" stroke="#000" stroke-width="1.3" />
<circle cx="354.1" cy="108.6" r="1.1" fill="#000"/>
<circle cx="354.1" cy="115.8" r="1.1" fill="#000"/>
<circle cx="354.1" cy="121.3" r="1.1" fill="#000"/>
<circle cx="354.1" cy="123.3" r="1.1" fill="#000"/>
<circle cx="354.1" cy="126.3" r="1.1" fill="#000"/>
<line x1="349.6" y1="151.5" x2="349.6" y2="153.7" stroke="#000" stroke-width="1" />
<rect x="340.6" y="180.3" width="18" height="28.5" fill="#00b2bc" />
<line x1="349.6" y1="179.3" x2="349.6" y2="181.9" stroke="#000" stroke-width="1.5" />
<line x1="347.7" y1="179.3" x2="351.5" y2="179.3" stroke="#000" stroke-width="1.3" />
<line x1="347.7" y1="181.9" x2="351.5" y2="181.9" stroke="#000" stroke-width="1.3" />
<circle cx="354.1" cy="180.3" r="1.1" fill="#000"/>
<circle cx="354.1" cy="181.3" r="1.1" fill="#000"/>
<circle cx="354.1" cy="182.3" r="1.1" fill="#000"/>
<line x1="349.6" y1="209.4" x2="349.6" y2="211.6" stroke="#000" stroke-width="1" />
<rect x="362.6" y="118.8" width="18" height="32.1" fill="#00b2bc" />
<line x1="371.6" y1="112.4" x2="371.6" y2="125.7" stroke="#000" stroke-width="1.5" />
<line x1="369.7" y1="112.4" x2="373.5" y2="112.4" stroke="#000" stroke-width="1.3" />
<line x1="369.7" y1="125.7" x2="373.5" y2="125.7" stroke="#000" stroke-width="1.3" />
<circle cx="376.1" cy="108.6" r="1.1" fill="#000"/>
<circle cx="376.1" cy="119.3" r="1.1" fill="#000"/>
<circle cx="376.1" cy="121.3" r="1.1" fill="#000"/>
<circle cx="376.1" cy="123.3" r="1.1" fill="#000"/>
<circle cx="376.1" cy="125.3" r="1.1" fill="#000"/>
<line x1="371.6" y1="151.5" x2="371.6" y2="153.7" stroke="#000" stroke-width="1" />
<rect x="362.6" y="176.2" width="18" height="32.6" fill="#00b2bc" />
<line x1="371.6" y1="169.2" x2="371.6" y2="183.3" stroke="#000" stroke-width="1.5" />
<line x1="369.7" y1="169.2" x2="373.5" y2="169.2" stroke="#000" stroke-width="1.3" />
<line x1="369.7" y1="183.3" x2="373.5" y2="183.3" stroke="#000" stroke-width="1.3" />
<circle cx="376.1" cy="168.8" r="1.1" fill="#000"/>
<circle cx="376.1" cy="177.3" r="1.1" fill="#000"/>
<circle cx="376.1" cy="181.9" r="1.1" fill="#000"/>
<line x1="371.6" y1="209.4" x2="371.6" y2="211.6" stroke="#000" stroke-width="1" />
<rect x="384.5" y="121.3" width="18" height="29.6" fill="#c278fa" />
<line x1="393.5" y1="115.2" x2="393.5" y2="128.3" stroke="#000" stroke-width="1.5" />
<line x1="391.6" y1="115.2" x2="395.4" y2="115.2" stroke="#000" stroke-width="1.3" />
<line x1="391.6" y1="128.3" x2="395.4" y2="128.3" stroke="#000" stroke-width="1.3" />
<circle cx="398" cy="111.8" r="1.1" fill="#000"/>
<circle cx="398" cy="119.3" r="1.1" fill="#000"/>
<circle cx="398" cy="121.3" r="1.1" fill="#000"/>
<circle cx="398" cy="123.3" r="1.1" fill="#000"/>
<circle cx="398" cy="128.8" r="1.1" fill="#000"/>
<line x1="393.5" y1="151.5" x2="393.5" y2="153.7" stroke="#000" stroke-width="1" />
<rect x="384.5" y="173.8" width="18" height="35" fill="#c278fa" />
<line x1="393.5" y1="160.1" x2="393.5" y2="187" stroke="#000" stroke-width="1.5" />
<line x1="391.6" y1="160.1" x2="395.4" y2="160.1" stroke="#000" stroke-width="1.3" />
<line x1="391.6" y1="187" x2="395.4" y2="187" stroke="#000" stroke-width="1.3" />
<circle cx="398" cy="159.1" r="1.1" fill="#000"/>
<circle cx="398" cy="176.2" r="1.1" fill="#000"/>
<circle cx="398" cy="185.7" r="1.1" fill="#000"/>
<line x1="393.5" y1="209.4" x2="393.5" y2="211.6" stroke="#000" stroke-width="1" />
<rect x="406.3" y="126.9" width="18" height="24" fill="#c278fa" />
<line x1="415.3" y1="122.7" x2="415.3" y2="131.8" stroke="#000" stroke-width="1.5" />
<line x1="413.4" y1="122.7" x2="417.2" y2="122.7" stroke="#000" stroke-width="1.3" />
<line x1="413.4" y1="131.8" x2="417.2" y2="131.8" stroke="#000" stroke-width="1.3" />
<circle cx="419.8" cy="123.9" r="1.1" fill="#000"/>
<circle cx="419.8" cy="126.3" r="1.1" fill="#000"/>
<circle cx="419.8" cy="132.4" r="1.1" fill="#000"/>
<line x1="415.3" y1="151.5" x2="415.3" y2="153.7" stroke="#000" stroke-width="1" />
<rect x="406.3" y="170.8" width="18" height="38" fill="#c278fa" />
<line x1="415.3" y1="163.5" x2="415.3" y2="178.7" stroke="#000" stroke-width="1.5" />
<line x1="413.4" y1="163.5" x2="417.2" y2="163.5" stroke="#000" stroke-width="1.3" />
<line x1="413.4" y1="178.7" x2="417.2" y2="178.7" stroke="#000" stroke-width="1.3" />
<circle cx="419.8" cy="165.1" r="1.1" fill="#000"/>
<circle cx="419.8" cy="167.8" r="1.1" fill="#000"/>
<circle cx="419.8" cy="179.9" r="1.1" fill="#000"/>
<line x1="415.3" y1="209.4" x2="415.3" y2="211.6" stroke="#000" stroke-width="1" />
<rect x="428.2" y="112.8" width="18" height="38.1" fill="#c278fa" />
<line x1="437.2" y1="105.1" x2="437.2" y2="120.7" stroke="#000" stroke-width="1.5" />
<line x1="435.3" y1="105.1" x2="439.1" y2="105.1" stroke="#000" stroke-width="1.3" />
<line x1="435.3" y1="120.7" x2="439.1" y2="120.7" stroke="#000" stroke-width="1.3" />
<circle cx="441.7" cy="104.5" r="1.1" fill="#000"/>
<circle cx="441.7" cy="114.6" r="1.1" fill="#000"/>
<circle cx="441.7" cy="120.3" r="1.1" fill="#000"/>
<line x1="437.2" y1="151.5" x2="437.2" y2="153.7" stroke="#000" stroke-width="1" />
<rect x="428.2" y="168.2" width="18" height="40.6" fill="#c278fa" />
<line x1="437.2" y1="162.1" x2="437.2" y2="174.2" stroke="#000" stroke-width="1.5" />
<line x1="435.3" y1="162.1" x2="439.1" y2="162.1" stroke="#000" stroke-width="1.3" />
<line x1="435.3" y1="174.2" x2="439.1" y2="174.2" stroke="#000" stroke-width="1.3" />
<circle cx="441.7" cy="161.5" r="1.1" fill="#000"/>
<circle cx="441.7" cy="170.2" r="1.1" fill="#000"/>
<circle cx="441.7" cy="173.2" r="1.1" fill="#000"/>
<line x1="437.2" y1="209.4" x2="437.2" y2="211.6" stroke="#000" stroke-width="1" />
<rect x="450" y="112.2" width="18" height="38.7" fill="#c278fa" />
<line x1="459" y1="104.5" x2="459" y2="120.9" stroke="#000" stroke-width="1.5" />
<line x1="457.1" y1="104.5" x2="460.9" y2="104.5" stroke="#000" stroke-width="1.3" />
<line x1="457.1" y1="120.9" x2="460.9" y2="120.9" stroke="#000" stroke-width="1.3" />
<circle cx="463.5" cy="105.1" r="1.1" fill="#000"/>
<circle cx="463.5" cy="111.2" r="1.1" fill="#000"/>
<circle cx="463.5" cy="121.3" r="1.1" fill="#000"/>
<line x1="459" y1="151.5" x2="459" y2="153.7" stroke="#000" stroke-width="1" />
<rect x="450" y="180.3" width="18" height="28.5" fill="#c278fa" />
<line x1="459" y1="170.2" x2="459" y2="189.8" stroke="#000" stroke-width="1.5" />
<line x1="457.1" y1="170.2" x2="460.9" y2="170.2" stroke="#000" stroke-width="1.3" />
<line x1="457.1" y1="189.8" x2="460.9" y2="189.8" stroke="#000" stroke-width="1.3" />
<circle cx="463.5" cy="172.2" r="1.1" fill="#000"/>
<circle cx="463.5" cy="177.3" r="1.1" fill="#000"/>
<circle cx="463.5" cy="191" r="1.1" fill="#000"/>
<line x1="459" y1="209.4" x2="459" y2="211.6" stroke="#000" stroke-width="1" />
<text x="262.9" y="222.73" font-size="8.7" stroke="#000" stroke-width="0.22" ><tspan>Linker:</tspan></text>
<text x="305.9" y="220" font-size="7.3" text-anchor="middle" stroke="#000" stroke-width="0.22" ><tspan>(G</tspan><tspan font-size="4.09" dy="2.63">4</tspan><tspan dy="-2.63">S)</tspan><tspan font-size="4.09" dy="2.63">4</tspan></text>
<text x="328" y="220" font-size="7.3" text-anchor="middle" stroke="#000" stroke-width="0.22" ><tspan>(G</tspan><tspan font-size="4.09" dy="2.63">4</tspan><tspan dy="-2.63">D)</tspan><tspan font-size="4.09" dy="2.63">3</tspan></text>
<text x="349.6" y="220" font-size="7.3" text-anchor="middle" stroke="#000" stroke-width="0.22" ><tspan>(G</tspan><tspan font-size="4.09" dy="2.63">4</tspan><tspan dy="-2.63">D)</tspan><tspan font-size="4.09" dy="2.63">4</tspan></text>
<text x="371.6" y="220" font-size="7.3" text-anchor="middle" stroke="#000" stroke-width="0.22" ><tspan>(G</tspan><tspan font-size="4.09" dy="2.63">2</tspan><tspan dy="-2.63">D)</tspan><tspan font-size="4.09" dy="2.63">7</tspan></text>
<text x="393.5" y="220" font-size="7.3" text-anchor="middle" stroke="#000" stroke-width="0.22" ><tspan>(GD)</tspan><tspan font-size="4.09" dy="2.63">10</tspan></text>
<text x="415.3" y="220" font-size="7.3" text-anchor="middle" stroke="#000" stroke-width="0.22" ><tspan>(G</tspan><tspan font-size="4.09" dy="2.63">4</tspan><tspan dy="-2.63">E)</tspan><tspan font-size="4.09" dy="2.63">4</tspan></text>
<text x="437.2" y="220" font-size="7.3" text-anchor="middle" stroke="#000" stroke-width="0.22" ><tspan>(G</tspan><tspan font-size="4.09" dy="2.63">2</tspan><tspan dy="-2.63">E)</tspan><tspan font-size="4.09" dy="2.63">7</tspan></text>
<text x="459" y="220" font-size="7.3" text-anchor="middle" stroke="#000" stroke-width="0.22" ><tspan>(GE)</tspan><tspan font-size="4.09" dy="2.63">10</tspan></text>
<text x="305.9" y="229.23" font-size="7.3" text-anchor="middle" stroke="#000" stroke-width="0.22" ><tspan>+HA</tspan></text>
<line x1="319" y1="232.5" x2="467.7" y2="232.5" stroke="#000" stroke-width="1" />
<text x="365.3" y="240.88" font-size="8" stroke="#000" stroke-width="0.22" ><tspan>3xFLAG, HA</tspan></text>
<text x="336.5" y="254.12" font-size="8.95" stroke="#000" stroke-width="0.22" ><tspan>Z-FUS scFv construct</tspan></text>
<text x="90.1" y="286.84" font-size="14" font-weight="bold" stroke="#000" stroke-width="0.08" ><tspan>f</tspan></text>
<text x="109.8" y="276.83" font-size="7.3" font-weight="bold" stroke="#000" stroke-width="0.08" ><tspan>4E6</tspan></text>
<text x="121.3" y="288.7" font-size="7.3" text-anchor="middle" stroke="#000" stroke-width="0.22" ><tspan>(G</tspan><tspan font-size="4.09" dy="2.63">4</tspan><tspan dy="-2.63">S)</tspan><tspan font-size="4.09" dy="2.63">4</tspan></text>
<text x="121.3" y="297.83" font-size="7.3" text-anchor="middle" stroke="#000" stroke-width="0.22" ><tspan>HA</tspan></text>
<text x="148.8" y="279.9" font-size="7.3" text-anchor="middle" stroke="#000" stroke-width="0.22" ><tspan>(G</tspan><tspan font-size="4.09" dy="2.63">4</tspan><tspan dy="-2.63">D)</tspan><tspan font-size="4.09" dy="2.63">4</tspan></text>
<text x="147.8" y="288.93" font-size="7.3" text-anchor="middle" stroke="#000" stroke-width="0.22" ><tspan>HA</tspan></text>
<text x="147.8" y="297.23" font-size="7.3" text-anchor="middle" stroke="#000" stroke-width="0.22" ><tspan>3FLAG</tspan></text>
<text x="172.5" y="297.23" font-size="7.3" text-anchor="middle" stroke="#000" stroke-width="0.22" ><tspan>UTC</tspan></text>
<rect x="108.3" y="299.1" width="79.2" height="20.8" fill="#fbfbfb" stroke="#111" stroke-width="1.3"/>
<rect x="108.3" y="321.1" width="79.2" height="8.1" fill="#f7f7f7" stroke="#111" stroke-width="1.3"/>
<text x="113.5" y="336.63" font-size="7.3" text-anchor="middle" stroke="#000" stroke-width="0.22" ><tspan>I</tspan></text>
<text x="126" y="336.63" font-size="7.3" text-anchor="middle" stroke="#000" stroke-width="0.22" ><tspan>S</tspan></text>
<text x="139.5" y="336.63" font-size="7.3" text-anchor="middle" stroke="#000" stroke-width="0.22" ><tspan>I</tspan></text>
<text x="151.8" y="336.63" font-size="7.3" text-anchor="middle" stroke="#000" stroke-width="0.22" ><tspan>S</tspan></text>
<text x="165.5" y="336.63" font-size="7.3" text-anchor="middle" stroke="#000" stroke-width="0.22" ><tspan>I</tspan></text>
<text x="177.8" y="336.63" font-size="7.3" text-anchor="middle" stroke="#000" stroke-width="0.22" ><tspan>S</tspan></text>
<text x="107.2" y="311.16" font-size="6" text-anchor="end" stroke="#000" stroke-width="0.22" ><tspan>Anti-HA</tspan></text>
<text x="107.2" y="326.16" font-size="6" text-anchor="end" stroke="#000" stroke-width="0.22" ><tspan>Anti-βactin</tspan></text>
<text x="187.8" y="313.73" font-size="7.3" stroke="#000" stroke-width="0.22" ><tspan>-35</tspan></text>
<text x="187.8" y="328.63" font-size="7.3" stroke="#000" stroke-width="0.22" ><tspan>-40</tspan></text>
<text x="190.1" y="336.93" font-size="7.3" stroke="#000" stroke-width="0.22" ><tspan>kDa</tspan></text>
<rect x="110.3" y="301.8" width="7.9" height="1" rx="2.5" ry="0.5" fill="#000" fill-opacity="0.25" filter="url(#b1)"/>
<rect x="110.3" y="305.7" width="7.9" height="1.4" rx="2.5" ry="0.7" fill="#000" fill-opacity="0.6" filter="url(#b1)"/>
<rect x="110.3" y="308.7" width="7.9" height="1.4" rx="2.5" ry="0.7" fill="#000" fill-opacity="0.55" filter="url(#b1)"/>
<rect x="109.8" y="311.4" width="8.9" height="2.2" rx="2.5" ry="1.1" fill="#000" fill-opacity="1" filter="url(#b1)"/>
<rect x="123.1" y="311.05" width="9.9" height="1.5" rx="2.5" ry="0.75" fill="#000" fill-opacity="0.65" filter="url(#b1)"/>
<rect x="135.8" y="305.8" width="8.9" height="1.2" rx="2.5" ry="0.6" fill="#000" fill-opacity="0.6" filter="url(#b1)"/>
<rect x="147.8" y="305.05" width="10.4" height="1.9" rx="2.5" ry="0.95" fill="#000" fill-opacity="1" filter="url(#b1)"/>
<rect x="110.3" y="324.5" width="7.9" height="1" rx="2.5" ry="0.5" fill="#000" fill-opacity="0.12" filter="url(#b1)"/>
<rect x="123.1" y="324.05" width="9.9" height="1.5" rx="2.5" ry="0.75" fill="#000" fill-opacity="0.75" filter="url(#b1)"/>
<rect x="134.3" y="324.5" width="10.4" height="1" rx="2.5" ry="0.5" fill="#000" fill-opacity="0.15" filter="url(#b1)"/>
<rect x="146.3" y="324" width="11.4" height="2" rx="2.5" ry="1" fill="#000" fill-opacity="1" filter="url(#b1)"/>
<rect x="160.3" y="324.55" width="9.4" height="0.9" rx="2.5" ry="0.45" fill="#000" fill-opacity="0.08" filter="url(#b1)"/>
<rect x="172.3" y="324.2" width="11.4" height="1.6" rx="2.5" ry="0.8" fill="#000" fill-opacity="0.85" filter="url(#b1)"/>
<line x1="236.9" y1="278.2" x2="236.9" y2="321.8" stroke="#000" stroke-width="1.2" />
<line x1="236.3" y1="321.3" x2="282.9" y2="321.3" stroke="#000" stroke-width="1.2" />
<line x1="234.9" y1="321.3" x2="236.9" y2="321.3" stroke="#000" stroke-width="1" />
<text x="234.7" y="324.24" font-size="7.6" text-anchor="end" stroke="#000" stroke-width="0.22" ><tspan>0</tspan></text>
<line x1="234.9" y1="312.68" x2="236.9" y2="312.68" stroke="#000" stroke-width="1" />
<text x="234.7" y="315.62" font-size="7.6" text-anchor="end" stroke="#000" stroke-width="0.22" ><tspan>20</tspan></text>
<line x1="234.9" y1="304.06" x2="236.9" y2="304.06" stroke="#000" stroke-width="1" />
<text x="234.7" y="307" font-size="7.6" text-anchor="end" stroke="#000" stroke-width="0.22" ><tspan>40</tspan></text>
<line x1="234.9" y1="295.44" x2="236.9" y2="295.44" stroke="#000" stroke-width="1" />
<text x="234.7" y="298.38" font-size="7.6" text-anchor="end" stroke="#000" stroke-width="0.22" ><tspan>60</tspan></text>
<line x1="234.9" y1="286.82" x2="236.9" y2="286.82" stroke="#000" stroke-width="1" />
<text x="234.7" y="289.76" font-size="7.6" text-anchor="end" stroke="#000" stroke-width="0.22" ><tspan>80</tspan></text>
<line x1="234.9" y1="278.2" x2="236.9" y2="278.2" stroke="#000" stroke-width="1" />
<text x="234.7" y="281.14" font-size="7.6" text-anchor="end" stroke="#000" stroke-width="0.22" ><tspan>100</tspan></text>
<text x="215.6" y="301.71" font-size="7.6" text-anchor="middle" stroke="#000" stroke-width="0.22" transform="rotate(-90 215.6 299.2)" ><tspan>% Solubility</tspan></text>
<rect x="238.7" y="312.7" width="18.9" height="8.1" fill="#0070c0" />
<line x1="245.6" y1="308" x2="245.6" y2="317.4" stroke="#000" stroke-width="1.6" />
<line x1="243.8" y1="308" x2="247.4" y2="308" stroke="#000" stroke-width="1.3" />
<line x1="243.8" y1="317.4" x2="247.4" y2="317.4" stroke="#000" stroke-width="1.3" />
<circle cx="250.6" cy="306.3" r="0.5" fill="#000"/>
<circle cx="250.6" cy="310.5" r="0.5" fill="#000"/>
<circle cx="250.6" cy="312.5" r="0.5" fill="#000"/>
<circle cx="250.6" cy="314.5" r="0.5" fill="#000"/>
<circle cx="250.6" cy="316.5" r="0.5" fill="#000"/>
<rect x="262.3" y="283.9" width="18.7" height="36.9" fill="#0070c0" />
<line x1="268.7" y1="279.6" x2="268.7" y2="290.3" stroke="#000" stroke-width="1.6" />
<line x1="266.9" y1="279.6" x2="270.5" y2="279.6" stroke="#000" stroke-width="1.3" />
<line x1="266.9" y1="290.3" x2="270.5" y2="290.3" stroke="#000" stroke-width="1.3" />
<circle cx="273.7" cy="277.3" r="0.5" fill="#000"/>
<circle cx="273.7" cy="279.5" r="0.5" fill="#000"/>
<circle cx="273.7" cy="281.5" r="0.5" fill="#000"/>
<circle cx="273.7" cy="284" r="0.5" fill="#000"/>
<circle cx="273.7" cy="286" r="0.5" fill="#000"/>
<circle cx="273.7" cy="288.5" r="0.5" fill="#000"/>
<circle cx="273.7" cy="291" r="0.5" fill="#000"/>
<text x="249" y="328.78" font-size="7.6" text-anchor="middle" stroke="#000" stroke-width="0.22" ><tspan>(G</tspan><tspan font-size="4.26" dy="2.74">4</tspan><tspan dy="-2.74">S)</tspan><tspan font-size="4.26" dy="2.74">4</tspan></text>
<text x="249.2" y="338.04" font-size="7.6" text-anchor="middle" stroke="#000" stroke-width="0.22" ><tspan>HA</tspan></text>
<text x="272.3" y="328.78" font-size="7.6" text-anchor="middle" stroke="#000" stroke-width="0.22" ><tspan>(G</tspan><tspan font-size="4.26" dy="2.74">4</tspan><tspan dy="-2.74">D)</tspan><tspan font-size="4.26" dy="2.74">4</tspan></text>
<text x="272.3" y="338.04" font-size="7.6" text-anchor="middle" stroke="#000" stroke-width="0.22" ><tspan>HA</tspan></text>
<text x="272.3" y="346.34" font-size="7.6" text-anchor="middle" stroke="#000" stroke-width="0.22" ><tspan>3FLAG</tspan></text>
<text x="324.4" y="287.34" font-size="14" font-weight="bold" stroke="#000" stroke-width="0.08" ><tspan>g</tspan></text>
<text x="346.4" y="282.26" font-size="7.4" font-weight="bold" stroke="#000" stroke-width="0.08" ><tspan>anti-tau p231-p235</tspan></text>
<text x="355.6" y="301.1" font-size="7.3" text-anchor="middle" stroke="#000" stroke-width="0.22" ><tspan>(G</tspan><tspan font-size="4.09" dy="2.63">4</tspan><tspan dy="-2.63">S)</tspan><tspan font-size="4.09" dy="2.63">4</tspan></text>
<text x="356.5" y="310.63" font-size="7.3" text-anchor="middle" stroke="#000" stroke-width="0.22" ><tspan>HA</tspan></text>
<text x="381.5" y="291.7" font-size="7.3" text-anchor="middle" stroke="#000" stroke-width="0.22" ><tspan>(G</tspan><tspan font-size="4.09" dy="2.63">4</tspan><tspan dy="-2.63">D)</tspan><tspan font-size="4.09" dy="2.63">4</tspan></text>
<text x="381.5" y="301.83" font-size="7.3" text-anchor="middle" stroke="#000" stroke-width="0.22" ><tspan>HA</tspan></text>
<text x="381.8" y="310.63" font-size="7.3" text-anchor="middle" stroke="#000" stroke-width="0.22" ><tspan>3FLAG</tspan></text>
<text x="406.2" y="310.63" font-size="7.3" text-anchor="middle" stroke="#000" stroke-width="0.22" ><tspan>UTC</tspan></text>
<rect x="342.6" y="311.7" width="76.8" height="10.7" fill="#fbfbfb" stroke="#111" stroke-width="1.2"/>
<rect x="342.6" y="325.4" width="76.8" height="7.9" fill="#f9f9f9" stroke="#111" stroke-width="1.2"/>
<text x="348.7" y="341.23" font-size="7.3" text-anchor="middle" stroke="#000" stroke-width="0.22" ><tspan>I</tspan></text>
<text x="361" y="341.23" font-size="7.3" text-anchor="middle" stroke="#000" stroke-width="0.22" ><tspan>S</tspan></text>
<text x="374.5" y="341.23" font-size="7.3" text-anchor="middle" stroke="#000" stroke-width="0.22" ><tspan>I</tspan></text>
<text x="386.5" y="341.23" font-size="7.3" text-anchor="middle" stroke="#000" stroke-width="0.22" ><tspan>S</tspan></text>
<text x="400.5" y="341.23" font-size="7.3" text-anchor="middle" stroke="#000" stroke-width="0.22" ><tspan>I</tspan></text>
<text x="413" y="341.23" font-size="7.3" text-anchor="middle" stroke="#000" stroke-width="0.22" ><tspan>S</tspan></text>
<text x="341.4" y="317.86" font-size="6" text-anchor="end" stroke="#000" stroke-width="0.22" ><tspan>Anti-HA</tspan></text>
<text x="341.4" y="330.86" font-size="6" text-anchor="end" stroke="#000" stroke-width="0.22" ><tspan>Anti-βactin</tspan></text>
<text x="419.9" y="322.83" font-size="7.3" stroke="#000" stroke-width="0.22" ><tspan>-35</tspan></text>
<text x="419.9" y="331.83" font-size="7.3" stroke="#000" stroke-width="0.22" ><tspan>-40</tspan></text>
<text x="422.5" y="341.33" font-size="7.3" stroke="#000" stroke-width="0.22" ><tspan>kDa</tspan></text>
<path d="M344.2 318.6 C344.2 315.6 349 315.2 352 316.8 C354.5 318 356 319.2 356.5 319.8 C354 320.8 347 321.4 344.2 320.6 Z" fill="#000" filter="url(#b1)"/>
<rect x="357.8" y="318.8" width="9.4" height="1" rx="2.5" ry="0.5" fill="#000" fill-opacity="0.6" filter="url(#b1)"/>
<rect x="371.8" y="313.65" width="5.9" height="0.7" rx="2.5" ry="0.35" fill="#000" fill-opacity="0.15" filter="url(#b1)"/>
<rect x="381.8" y="313.55" width="10.4" height="1.1" rx="2.5" ry="0.55" fill="#000" fill-opacity="0.9" filter="url(#b1)"/>
<rect x="382.3" y="311.85" width="9.4" height="0.7" rx="2.5" ry="0.35" fill="#000" fill-opacity="0.2" filter="url(#b1)"/>
<rect x="344.8" y="329.2" width="8.9" height="1" rx="2.5" ry="0.5" fill="#000" fill-opacity="0.3" filter="url(#b1)"/>
<rect x="356.3" y="328.9" width="9.9" height="1.6" rx="2.5" ry="0.8" fill="#000" fill-opacity="0.85" filter="url(#b1)"/>
<rect x="370.3" y="329.2" width="8.4" height="1" rx="2.5" ry="0.5" fill="#000" fill-opacity="0.3" filter="url(#b1)"/>
<rect x="381.3" y="328.9" width="10.4" height="1.6" rx="2.5" ry="0.8" fill="#000" fill-opacity="0.85" filter="url(#b1)"/>
<rect x="395.3" y="329.25" width="8.4" height="0.9" rx="2.5" ry="0.45" fill="#000" fill-opacity="0.15" filter="url(#b1)"/>
<rect x="406.8" y="328.9" width="10.9" height="1.6" rx="2.5" ry="0.8" fill="#000" fill-opacity="0.85" filter="url(#b1)"/>
<line x1="462.4" y1="274.9" x2="462.4" y2="319.1" stroke="#000" stroke-width="1.2" />
<line x1="461.8" y1="318.6" x2="508.3" y2="318.6" stroke="#000" stroke-width="1.2" />
<line x1="460.4" y1="318.6" x2="462.4" y2="318.6" stroke="#000" stroke-width="1" />
<text x="460.2" y="321.54" font-size="7.6" text-anchor="end" stroke="#000" stroke-width="0.22" ><tspan>0</tspan></text>
<line x1="460.4" y1="309.86" x2="462.4" y2="309.86" stroke="#000" stroke-width="1" />
<text x="460.2" y="312.8" font-size="7.6" text-anchor="end" stroke="#000" stroke-width="0.22" ><tspan>20</tspan></text>
<line x1="460.4" y1="301.12" x2="462.4" y2="301.12" stroke="#000" stroke-width="1" />
<text x="460.2" y="304.06" font-size="7.6" text-anchor="end" stroke="#000" stroke-width="0.22" ><tspan>40</tspan></text>
<line x1="460.4" y1="292.38" x2="462.4" y2="292.38" stroke="#000" stroke-width="1" />
<text x="460.2" y="295.32" font-size="7.6" text-anchor="end" stroke="#000" stroke-width="0.22" ><tspan>60</tspan></text>
<line x1="460.4" y1="283.64" x2="462.4" y2="283.64" stroke="#000" stroke-width="1" />
<text x="460.2" y="286.58" font-size="7.6" text-anchor="end" stroke="#000" stroke-width="0.22" ><tspan>80</tspan></text>
<line x1="460.4" y1="274.9" x2="462.4" y2="274.9" stroke="#000" stroke-width="1" />
<text x="460.2" y="277.84" font-size="7.6" text-anchor="end" stroke="#000" stroke-width="0.22" ><tspan>100</tspan></text>
<text x="443.5" y="300.51" font-size="7.6" text-anchor="middle" stroke="#000" stroke-width="0.22" transform="rotate(-90 443.5 298)" ><tspan>% Solubility</tspan></text>
<rect x="464.1" y="309.1" width="18.9" height="9" fill="#0070c0" />
<line x1="471.4" y1="303.5" x2="471.4" y2="315" stroke="#000" stroke-width="1.4" />
<line x1="469.6" y1="303.5" x2="473.2" y2="303.5" stroke="#000" stroke-width="1.3" />
<line x1="469.6" y1="315" x2="473.2" y2="315" stroke="#000" stroke-width="1.3" />
<circle cx="476.6" cy="302.5" r="0.4" fill="#222"/>
<circle cx="476.6" cy="312" r="0.4" fill="#222"/>
<rect x="487.2" y="283.2" width="18.9" height="34.9" fill="#0070c0" />
<line x1="493.8" y1="278" x2="493.8" y2="289.8" stroke="#000" stroke-width="1.4" />
<line x1="492" y1="278" x2="495.6" y2="278" stroke="#000" stroke-width="1.3" />
<line x1="492" y1="289.8" x2="495.6" y2="289.8" stroke="#000" stroke-width="1.3" />
<circle cx="499" cy="274.5" r="0.4" fill="#222"/>
<circle cx="499" cy="278" r="0.4" fill="#222"/>
<circle cx="499" cy="282" r="0.4" fill="#222"/>
<circle cx="499" cy="286" r="0.4" fill="#222"/>
<circle cx="499" cy="290" r="0.4" fill="#222"/>
<text x="472.3" y="326.28" font-size="7.6" text-anchor="middle" stroke="#000" stroke-width="0.22" ><tspan>(G</tspan><tspan font-size="4.26" dy="2.74">4</tspan><tspan dy="-2.74">S)</tspan><tspan font-size="4.26" dy="2.74">4</tspan></text>
<text x="472.9" y="335.54" font-size="7.6" text-anchor="middle" stroke="#000" stroke-width="0.22" ><tspan>HA</tspan></text>
<text x="497.9" y="326.28" font-size="7.6" text-anchor="middle" stroke="#000" stroke-width="0.22" ><tspan>(G</tspan><tspan font-size="4.26" dy="2.74">4</tspan><tspan dy="-2.74">D)</tspan><tspan font-size="4.26" dy="2.74">4</tspan></text>
<text x="498.2" y="335.54" font-size="7.6" text-anchor="middle" stroke="#000" stroke-width="0.22" ><tspan>HA</tspan></text>
<text x="498.4" y="344.24" font-size="7.6" text-anchor="middle" stroke="#000" stroke-width="0.22" ><tspan>3FLAG</tspan></text>
<g filter="url(#pb)">
<path d="M558 32 L559.01 29.59 L560.01 28.79 L561.02 28.65 L562.02 28.63 L563.03 28.23 L564.03 28.17 L565.04 28.74 L566.04 28.32 L567.05 28.29 L568.05 28.81 L569.06 28.43 L570.06 27.01 L571.07 25.82 L572.07 25.54 L573.08 25.22 L574.08 25.99 L575.09 27.2 L576.09 28.38 L577.1 28.52 L578.1 28.46 L579.11 28.03 L580.11 28.5 L581.12 28.08 L582.12 27.11 L583.13 26.76 L584.14 27.59 L585.14 28.25 L586.15 28.41 L587.15 28.52 L588.16 28.39 L589.16 28.53 L590.17 28.15 L591.17 27.44 L592.18 25.85 L593.18 25.63 L594.19 25.46 L595.19 25.18 L596.2 25.96 L597.2 27.97 L598.21 28.48 L599.21 28.1 L600.22 28.23 L601.22 27.99 L602.23 28.13 L603.23 28.04 L604.24 27.54 L605.24 27.07 L606.25 26.97 L607.26 27.5 L608.26 28.22 L609.27 28.38 L610.27 28.33 L611.28 28.41 L612.28 28.19 L613.29 27.82 L614.29 28.31 L615.3 26.78 L616.3 25.89 L617.31 25.32 L618.31 25.45 L619.32 25.52 L620.32 26.97 L621.33 28.08 L622.33 27.87 L623.34 27.71 L624.34 28.26 L625.35 28.36 L626.35 27.72 L627.36 27.62 L628.36 26.82 L629.37 26.58 L630.38 27.05 L631.38 28.19 L632.39 28.26 L633.39 27.68 L634.4 28.07 L635.4 27.67 L636.41 28.14 L637.41 27.87 L638.42 26.27 L639.42 25.47 L640.43 24.81 L641.43 25.25 L642.44 25.31 L643.44 26.45 L644.45 28.06 L645.45 27.66 L646.46 27.78 L647.46 27.93 L648.47 28.07 L649.47 27.75 L650.48 27.67 L651.48 28.27 L652.49 28.17 L653.49 29.21 L654.5 31.4 L654.5 31.4 L653.49 33.8 L652.49 34.55 L651.48 34.73 L650.48 34.74 L649.47 34.97 L648.47 35 L647.46 34.65 L646.46 34.89 L645.45 34.9 L644.45 34.58 L643.44 34.8 L642.44 34.65 L641.43 34.8 L640.43 34.73 L639.42 34.94 L638.42 34.73 L637.41 34.64 L636.41 34.78 L635.4 34.69 L634.4 34.72 L633.39 34.98 L632.39 34.69 L631.38 34.76 L630.38 34.88 L629.37 35 L628.36 34.65 L627.36 34.82 L626.35 34.72 L625.35 34.65 L624.34 34.73 L623.34 34.64 L622.33 34.87 L621.33 34.7 L620.32 34.85 L619.32 34.65 L618.31 34.68 L617.31 35.01 L616.3 35 L615.3 34.97 L614.29 34.66 L613.29 34.89 L612.28 34.81 L611.28 34.95 L610.27 34.87 L609.27 34.93 L608.26 34.95 L607.26 34.86 L606.25 34.86 L605.24 34.74 L604.24 34.84 L603.23 34.74 L602.23 34.78 L601.22 34.73 L600.22 34.87 L599.21 35.09 L598.21 34.8 L597.2 34.77 L596.2 34.8 L595.19 34.95 L594.19 34.9 L593.18 35.12 L592.18 34.87 L591.17 34.98 L590.17 35.11 L589.16 35.21 L588.16 34.89 L587.15 34.84 L586.15 35.23 L585.14 34.94 L584.14 35.12 L583.13 35.24 L582.12 35.19 L581.12 35 L580.11 34.96 L579.11 35.32 L578.1 35.09 L577.1 35.35 L576.09 35.07 L575.09 35.25 L574.08 35.03 L573.08 35 L572.07 35.21 L571.07 35.02 L570.06 35.32 L569.06 35.43 L568.05 35.22 L567.05 35.47 L566.04 35.42 L565.04 35.34 L564.03 35.27 L563.03 35.47 L562.02 35.54 L561.02 35.18 L560.01 35.15 L559.01 34.26 L558 32Z" fill="url(#pg0)"/>
<g clip-path="url(#pc0)">
<ellipse cx="562.4" cy="31.7" rx="2.26" ry="1.21" fill="#fff" fill-opacity="0.51"/>
<ellipse cx="567.19" cy="31.9" rx="2.62" ry="1.46" fill="#fff" fill-opacity="0.48"/>
<ellipse cx="571.48" cy="31.23" rx="2.94" ry="1.08" fill="#fff" fill-opacity="0.59"/>
<ellipse cx="576.04" cy="30.81" rx="2.6" ry="1.15" fill="#fff" fill-opacity="0.5"/>
<ellipse cx="579.1" cy="31.77" rx="2.73" ry="0.94" fill="#fff" fill-opacity="0.51"/>
<ellipse cx="583.5" cy="31.28" rx="2.86" ry="1.32" fill="#fff" fill-opacity="0.54"/>
<ellipse cx="586.57" cy="31.77" rx="1.62" ry="1.48" fill="#fff" fill-opacity="0.42"/>
<ellipse cx="590.94" cy="31.16" rx="2.69" ry="1.12" fill="#fff" fill-opacity="0.44"/>
<ellipse cx="595.05" cy="31.09" rx="2.69" ry="1.13" fill="#fff" fill-opacity="0.55"/>
<ellipse cx="598.13" cy="31.76" rx="2.64" ry="1.09" fill="#fff" fill-opacity="0.41"/>
<ellipse cx="603.54" cy="30.85" rx="1.98" ry="1.16" fill="#fff" fill-opacity="0.53"/>
<ellipse cx="606.84" cy="31.06" rx="2.14" ry="1.4" fill="#fff" fill-opacity="0.47"/>
<ellipse cx="612.41" cy="31.03" rx="1.84" ry="1.29" fill="#fff" fill-opacity="0.57"/>
<ellipse cx="616.76" cy="30.67" rx="1.95" ry="1.22" fill="#fff" fill-opacity="0.41"/>
<ellipse cx="622.18" cy="30.75" rx="3.18" ry="1.07" fill="#fff" fill-opacity="0.55"/>
<ellipse cx="627.11" cy="30.99" rx="3.11" ry="0.98" fill="#fff" fill-opacity="0.43"/>
<ellipse cx="632.49" cy="30.98" rx="2.04" ry="1.15" fill="#fff" fill-opacity="0.46"/>
<ellipse cx="636.72" cy="30.67" rx="3.34" ry="0.9" fill="#fff" fill-opacity="0.59"/>
<ellipse cx="642.36" cy="31.11" rx="3.47" ry="1.47" fill="#fff" fill-opacity="0.58"/>
<ellipse cx="646.03" cy="31.76" rx="2.99" ry="1.3" fill="#fff" fill-opacity="0.48"/>
<ellipse cx="591.18" cy="30.24" rx="0.99" ry="0.95" fill="#8a8a96" fill-opacity="0.14"/>
<ellipse cx="632.7" cy="29.21" rx="2.07" ry="1.02" fill="#8a8a96" fill-opacity="0.24"/>
<ellipse cx="640.35" cy="32.98" rx="1.65" ry="0.61" fill="#8a8a96" fill-opacity="0.21"/>
<ellipse cx="576.21" cy="30.71" rx="1.76" ry="0.91" fill="#8a8a96" fill-opacity="0.16"/>
<ellipse cx="644.11" cy="31.71" rx="1.34" ry="0.75" fill="#8a8a96" fill-opacity="0.23"/>
<ellipse cx="603.23" cy="32.6" rx="1.36" ry="0.72" fill="#8a8a96" fill-opacity="0.18"/>
<ellipse cx="633.29" cy="29.77" rx="1.93" ry="1.15" fill="#8a8a96" fill-opacity="0.22"/>
<ellipse cx="633.88" cy="29.05" rx="1.72" ry="1.12" fill="#8a8a96" fill-opacity="0.11"/>
<ellipse cx="585.02" cy="30.48" rx="1.59" ry="0.85" fill="#8a8a96" fill-opacity="0.17"/>
<ellipse cx="629.72" cy="29.03" rx="0.97" ry="0.68" fill="#8a8a96" fill-opacity="0.12"/>
<ellipse cx="567.05" cy="33.8" rx="2.01" ry="0.65" fill="#8a8a96" fill-opacity="0.18"/>
<ellipse cx="588.96" cy="30.64" rx="1.36" ry="0.99" fill="#8a8a96" fill-opacity="0.19"/>
<ellipse cx="592.93" cy="30.06" rx="1.33" ry="0.67" fill="#8a8a96" fill-opacity="0.18"/>
<ellipse cx="624.37" cy="30.72" rx="1" ry="0.71" fill="#8a8a96" fill-opacity="0.16"/>
<ellipse cx="614.49" cy="32.53" rx="1.39" ry="1.08" fill="#8a8a96" fill-opacity="0.19"/>
<ellipse cx="599.2" cy="30.81" rx="1.54" ry="1.02" fill="#8a8a96" fill-opacity="0.16"/>
<ellipse cx="622.43" cy="31.08" rx="1.22" ry="0.92" fill="#8a8a96" fill-opacity="0.2"/>
<ellipse cx="567.33" cy="31.37" rx="1.45" ry="1.13" fill="#8a8a96" fill-opacity="0.24"/>
<ellipse cx="594.12" cy="33.18" rx="1.93" ry="0.76" fill="#8a8a96" fill-opacity="0.17"/>
<ellipse cx="571.9" cy="33.03" rx="1.76" ry="1.13" fill="#8a8a96" fill-opacity="0.22"/>
<ellipse cx="620.08" cy="32.29" rx="1.63" ry="0.66" fill="#8a8a96" fill-opacity="0.19"/>
<ellipse cx="561.43" cy="30.21" rx="1.91" ry="0.63" fill="#8a8a96" fill-opacity="0.11"/>
<ellipse cx="569.79" cy="33.35" rx="1.13" ry="0.61" fill="#8a8a96" fill-opacity="0.23"/>
<ellipse cx="571.73" cy="33.17" rx="1.78" ry="1.1" fill="#8a8a96" fill-opacity="0.24"/>
<ellipse cx="612.25" cy="32.62" rx="0.95" ry="1.06" fill="#8a8a96" fill-opacity="0.18"/>
<ellipse cx="624.29" cy="29.51" rx="1.87" ry="1.16" fill="#8a8a96" fill-opacity="0.11"/>
<ellipse cx="589.7" cy="31.74" rx="1.98" ry="0.75" fill="#8a8a96" fill-opacity="0.13"/>
<ellipse cx="583.12" cy="32.03" rx="1.88" ry="0.84" fill="#8a8a96" fill-opacity="0.16"/>
<ellipse cx="596.1" cy="30.74" rx="1.44" ry="0.65" fill="#8a8a96" fill-opacity="0.18"/>
<ellipse cx="647.12" cy="30.83" rx="1.87" ry="0.7" fill="#8a8a96" fill-opacity="0.2"/>
<ellipse cx="627.92" cy="32" rx="1.57" ry="0.89" fill="#8a8a96" fill-opacity="0.2"/>
<ellipse cx="640.42" cy="29.67" rx="1.02" ry="1.05" fill="#8a8a96" fill-opacity="0.24"/>
<ellipse cx="606.78" cy="31.08" rx="1.83" ry="0.71" fill="#8a8a96" fill-opacity="0.14"/>
<ellipse cx="578.63" cy="31.95" rx="1.31" ry="0.74" fill="#8a8a96" fill-opacity="0.2"/>
<ellipse cx="645.38" cy="30.32" rx="1.82" ry="0.85" fill="#8a8a96" fill-opacity="0.23"/>
<ellipse cx="612.74" cy="30.26" rx="1.18" ry="0.61" fill="#8a8a96" fill-opacity="0.17"/>
<ellipse cx="594.87" cy="29.96" rx="1.37" ry="0.79" fill="#8a8a96" fill-opacity="0.22"/>
<ellipse cx="573.71" cy="33.79" rx="1.52" ry="0.96" fill="#8a8a96" fill-opacity="0.17"/>
<ellipse cx="634.86" cy="32.64" rx="1.62" ry="0.89" fill="#8a8a96" fill-opacity="0.21"/>
<ellipse cx="636.81" cy="30.78" rx="1.85" ry="1.18" fill="#8a8a96" fill-opacity="0.17"/>
<path d="M558 32 L559.01 34.26 L560.01 35.15 L561.02 35.18 L562.02 35.54 L563.03 35.47 L564.03 35.27 L565.04 35.34 L566.04 35.42 L567.05 35.47 L568.05 35.22 L569.06 35.43 L570.06 35.32 L571.07 35.02 L572.07 35.21 L573.08 35 L574.08 35.03 L575.09 35.25 L576.09 35.07 L577.1 35.35 L578.1 35.09 L579.11 35.32 L580.11 34.96 L581.12 35 L582.12 35.19 L583.13 35.24 L584.14 35.12 L585.14 34.94 L586.15 35.23 L587.15 34.84 L588.16 34.89 L589.16 35.21 L590.17 35.11 L591.17 34.98 L592.18 34.87 L593.18 35.12 L594.19 34.9 L595.19 34.95 L596.2 34.8 L597.2 34.77 L598.21 34.8 L599.21 35.09 L600.22 34.87 L601.22 34.73 L602.23 34.78 L603.23 34.74 L604.24 34.84 L605.24 34.74 L606.25 34.86 L607.26 34.86 L608.26 34.95 L609.27 34.93 L610.27 34.87 L611.28 34.95 L612.28 34.81 L613.29 34.89 L614.29 34.66 L615.3 34.97 L616.3 35 L617.31 35.01 L618.31 34.68 L619.32 34.65 L620.32 34.85 L621.33 34.7 L622.33 34.87 L623.34 34.64 L624.34 34.73 L625.35 34.65 L626.35 34.72 L627.36 34.82 L628.36 34.65 L629.37 35 L630.38 34.88 L631.38 34.76 L632.39 34.69 L633.39 34.98 L634.4 34.72 L635.4 34.69 L636.41 34.78 L637.41 34.64 L638.42 34.73 L639.42 34.94 L640.43 34.73 L641.43 34.8 L642.44 34.65 L643.44 34.8 L644.45 34.58 L645.45 34.9 L646.46 34.89 L647.46 34.65 L648.47 35 L649.47 34.97 L650.48 34.74 L651.48 34.73 L652.49 34.55 L653.49 33.8 L654.5 31.4" fill="none" stroke="#555" stroke-opacity="0.55" stroke-width="2.4"/>
<path d="M558 32 L559.01 29.59 L560.01 28.79 L561.02 28.65 L562.02 28.63 L563.03 28.23 L564.03 28.17 L565.04 28.74 L566.04 28.32 L567.05 28.29 L568.05 28.81 L569.06 28.43 L570.06 27.01 L571.07 25.82 L572.07 25.54 L573.08 25.22 L574.08 25.99 L575.09 27.2 L576.09 28.38 L577.1 28.52 L578.1 28.46 L579.11 28.03 L580.11 28.5 L581.12 28.08 L582.12 27.11 L583.13 26.76 L584.14 27.59 L585.14 28.25 L586.15 28.41 L587.15 28.52 L588.16 28.39 L589.16 28.53 L590.17 28.15 L591.17 27.44 L592.18 25.85 L593.18 25.63 L594.19 25.46 L595.19 25.18 L596.2 25.96 L597.2 27.97 L598.21 28.48 L599.21 28.1 L600.22 28.23 L601.22 27.99 L602.23 28.13 L603.23 28.04 L604.24 27.54 L605.24 27.07 L606.25 26.97 L607.26 27.5 L608.26 28.22 L609.27 28.38 L610.27 28.33 L611.28 28.41 L612.28 28.19 L613.29 27.82 L614.29 28.31 L615.3 26.78 L616.3 25.89 L617.31 25.32 L618.31 25.45 L619.32 25.52 L620.32 26.97 L621.33 28.08 L622.33 27.87 L623.34 27.71 L624.34 28.26 L625.35 28.36 L626.35 27.72 L627.36 27.62 L628.36 26.82 L629.37 26.58 L630.38 27.05 L631.38 28.19 L632.39 28.26 L633.39 27.68 L634.4 28.07 L635.4 27.67 L636.41 28.14 L637.41 27.87 L638.42 26.27 L639.42 25.47 L640.43 24.81 L641.43 25.25 L642.44 25.31 L643.44 26.45 L644.45 28.06 L645.45 27.66 L646.46 27.78 L647.46 27.93 L648.47 28.07 L649.47 27.75 L650.48 27.67 L651.48 28.27 L652.49 28.17 L653.49 29.21 L654.5 31.4" fill="none" stroke="#888" stroke-opacity="0.5" stroke-width="0.8"/>
</g>
<ellipse cx="649.8" cy="30.8" rx="4.8" ry="2.5" fill="#5050ea" fill-opacity="0.6"/>
</g>
<g filter="url(#pb)">
<path d="M570.8 63.6 L571.81 61.07 L572.82 60.24 L573.82 58.99 L574.83 59.18 L575.84 59.37 L576.85 60 L577.86 59.62 L578.87 58.48 L579.87 56.46 L580.88 55.43 L581.89 55.4 L582.9 55.28 L583.91 55.09 L584.92 57.22 L585.92 59.73 L586.93 59.56 L587.94 59.47 L588.95 59.73 L589.96 59.56 L590.96 59.7 L591.97 59.67 L592.98 58.85 L593.99 58.68 L595 58.66 L596.01 59.04 L597.01 59.59 L598.02 59.18 L599.03 59.15 L600.04 59.24 L601.05 59.8 L602.05 59.35 L603.06 59.39 L604.07 57.12 L605.08 55.5 L606.09 55.01 L607.1 54.67 L608.1 54.6 L609.11 56.04 L610.12 59.76 L611.13 59.29 L612.14 59.34 L613.15 59.49 L614.15 59.24 L615.16 59.57 L616.17 59.81 L617.18 59.09 L618.19 58.54 L619.19 58.7 L620.2 58.83 L621.21 59.73 L622.22 59.62 L623.23 59.8 L624.24 59.48 L625.24 59.97 L626.25 59.52 L627.26 58.37 L628.27 57.13 L629.28 56.39 L630.28 55.61 L631.29 55.5 L632.3 55.87 L633.31 57.37 L634.32 60.15 L635.33 59.88 L636.33 59.88 L637.34 60.15 L638.35 59.99 L639.36 60.37 L640.37 60.54 L641.38 60.58 L642.38 60.72 L643.39 61.42 L644.4 64 L644.4 64 L643.39 66.43 L642.38 67.04 L641.38 67.45 L640.37 67.18 L639.36 67.13 L638.35 67.16 L637.34 67.33 L636.33 67.14 L635.33 67.18 L634.32 67.17 L633.31 66.84 L632.3 66.79 L631.29 67.15 L630.28 66.78 L629.28 66.85 L628.27 66.91 L627.26 66.93 L626.25 66.73 L625.24 66.8 L624.24 66.68 L623.23 66.66 L622.22 66.86 L621.21 66.57 L620.2 66.46 L619.19 66.45 L618.19 66.58 L617.18 66.8 L616.17 66.8 L615.16 66.73 L614.15 66.38 L613.15 66.63 L612.14 66.59 L611.13 66.36 L610.12 66.6 L609.11 66.49 L608.1 66.53 L607.1 66.68 L606.09 66.46 L605.08 66.35 L604.07 66.63 L603.06 66.6 L602.05 66.52 L601.05 66.68 L600.04 66.49 L599.03 66.36 L598.02 66.44 L597.01 66.49 L596.01 66.37 L595 66.67 L593.99 66.51 L592.98 66.6 L591.97 66.52 L590.96 66.74 L589.96 66.47 L588.95 66.77 L587.94 66.76 L586.93 66.51 L585.92 66.47 L584.92 66.71 L583.91 66.74 L582.9 66.83 L581.89 66.85 L580.88 66.73 L579.87 66.94 L578.87 66.99 L577.86 66.88 L576.85 67.03 L575.84 66.86 L574.83 66.82 L573.82 66.84 L572.82 66.7 L571.81 66.07 L570.8 63.6Z" fill="url(#pg1)"/>
<g clip-path="url(#pc1)">
<ellipse cx="583.1" cy="58.29" rx="4.5" ry="5.4" fill="#ee141a" fill-opacity="0.7" filter="url(#pb2)"/>
<ellipse cx="607.7" cy="58.06" rx="4.5" ry="5.4" fill="#ee141a" fill-opacity="0.7" filter="url(#pb2)"/>
<ellipse cx="631.5" cy="58.64" rx="4.5" ry="5.1" fill="#ee141a" fill-opacity="0.65" filter="url(#pb2)"/>
<ellipse cx="594.9" cy="62.85" rx="6.78" ry="1.47" fill="#fff" fill-opacity="0.7" transform="rotate(-30 594.9 63.03)" filter="url(#pb2)"/>
<ellipse cx="619.5" cy="62.97" rx="6.78" ry="1.47" fill="#fff" fill-opacity="0.7" transform="rotate(-30 619.5 63.15)" filter="url(#pb2)"/>
<ellipse cx="574.13" cy="64.27" rx="1.33" ry="0.79" fill="#e0242a" fill-opacity="0.27"/>
<ellipse cx="603.19" cy="63.19" rx="1.41" ry="1.12" fill="#e0242a" fill-opacity="0.42"/>
<ellipse cx="589.64" cy="63.03" rx="2.08" ry="0.91" fill="#e0242a" fill-opacity="0.4"/>
<ellipse cx="577.92" cy="63.14" rx="1.5" ry="0.84" fill="#e0242a" fill-opacity="0.36"/>
<ellipse cx="612.17" cy="63.04" rx="1.54" ry="0.7" fill="#e0242a" fill-opacity="0.36"/>
<ellipse cx="637.35" cy="63.12" rx="0.95" ry="0.6" fill="#e0242a" fill-opacity="0.38"/>
<ellipse cx="577.12" cy="61.36" rx="1.04" ry="0.87" fill="#e0242a" fill-opacity="0.5"/>
<ellipse cx="605.62" cy="62.63" rx="1.47" ry="0.9" fill="#e0242a" fill-opacity="0.36"/>
<ellipse cx="621.44" cy="64.82" rx="1.81" ry="0.85" fill="#e0242a" fill-opacity="0.41"/>
<ellipse cx="633.47" cy="61.78" rx="1.21" ry="0.97" fill="#e0242a" fill-opacity="0.42"/>
<ellipse cx="615.95" cy="63.31" rx="1.98" ry="0.89" fill="#e0242a" fill-opacity="0.45"/>
<ellipse cx="636.93" cy="63.2" rx="2.02" ry="1.03" fill="#e0242a" fill-opacity="0.47"/>
<ellipse cx="576.83" cy="65.1" rx="1.9" ry="1.18" fill="#e0242a" fill-opacity="0.5"/>
<ellipse cx="592.53" cy="63.65" rx="1.08" ry="0.96" fill="#e0242a" fill-opacity="0.48"/>
<ellipse cx="586.39" cy="62.29" rx="1" ry="0.72" fill="#e0242a" fill-opacity="0.3"/>
<ellipse cx="580.1" cy="65.4" rx="2.05" ry="0.88" fill="#e0242a" fill-opacity="0.44"/>
<ellipse cx="619.41" cy="63.07" rx="1.45" ry="1" fill="#e0242a" fill-opacity="0.39"/>
<ellipse cx="591.24" cy="62.28" rx="1.72" ry="0.98" fill="#e0242a" fill-opacity="0.3"/>
<ellipse cx="613.8" cy="64.59" rx="2.03" ry="0.99" fill="#e0242a" fill-opacity="0.27"/>
<ellipse cx="601.58" cy="60.94" rx="0.97" ry="0.75" fill="#e0242a" fill-opacity="0.36"/>
<ellipse cx="623.62" cy="63.65" rx="1.27" ry="1.02" fill="#e0242a" fill-opacity="0.38"/>
<ellipse cx="607.09" cy="61.75" rx="1.47" ry="0.8" fill="#e0242a" fill-opacity="0.43"/>
<ellipse cx="605.46" cy="62.57" rx="1.52" ry="0.89" fill="#e0242a" fill-opacity="0.42"/>
<ellipse cx="621.02" cy="64.37" rx="1.43" ry="1.08" fill="#e0242a" fill-opacity="0.49"/>
<ellipse cx="638.9" cy="64.58" rx="0.99" ry="1.11" fill="#e0242a" fill-opacity="0.46"/>
<ellipse cx="574.87" cy="62.5" rx="1.32" ry="1.04" fill="#e0242a" fill-opacity="0.4"/>
<ellipse cx="592.32" cy="61.45" rx="1.12" ry="0.66" fill="#e0242a" fill-opacity="0.45"/>
<ellipse cx="635.18" cy="62.15" rx="1.87" ry="1.17" fill="#e0242a" fill-opacity="0.3"/>
<ellipse cx="611.32" cy="62.58" rx="2.17" ry="1.12" fill="#e0242a" fill-opacity="0.25"/>
<ellipse cx="587.01" cy="64.55" rx="1.65" ry="0.91" fill="#e0242a" fill-opacity="0.45"/>
<path d="M570.8 63.6 L571.81 66.07 L572.82 66.7 L573.82 66.84 L574.83 66.82 L575.84 66.86 L576.85 67.03 L577.86 66.88 L578.87 66.99 L579.87 66.94 L580.88 66.73 L581.89 66.85 L582.9 66.83 L583.91 66.74 L584.92 66.71 L585.92 66.47 L586.93 66.51 L587.94 66.76 L588.95 66.77 L589.96 66.47 L590.96 66.74 L591.97 66.52 L592.98 66.6 L593.99 66.51 L595 66.67 L596.01 66.37 L597.01 66.49 L598.02 66.44 L599.03 66.36 L600.04 66.49 L601.05 66.68 L602.05 66.52 L603.06 66.6 L604.07 66.63 L605.08 66.35 L606.09 66.46 L607.1 66.68 L608.1 66.53 L609.11 66.49 L610.12 66.6 L611.13 66.36 L612.14 66.59 L613.15 66.63 L614.15 66.38 L615.16 66.73 L616.17 66.8 L617.18 66.8 L618.19 66.58 L619.19 66.45 L620.2 66.46 L621.21 66.57 L622.22 66.86 L623.23 66.66 L624.24 66.68 L625.24 66.8 L626.25 66.73 L627.26 66.93 L628.27 66.91 L629.28 66.85 L630.28 66.78 L631.29 67.15 L632.3 66.79 L633.31 66.84 L634.32 67.17 L635.33 67.18 L636.33 67.14 L637.34 67.33 L638.35 67.16 L639.36 67.13 L640.37 67.18 L641.38 67.45 L642.38 67.04 L643.39 66.43 L644.4 64" fill="none" stroke="#7a3a3a" stroke-opacity="0.3" stroke-width="2.4"/>
</g>
<ellipse cx="641.2" cy="64.8" rx="3" ry="2.1" fill="#5050ea" fill-opacity="0.6"/>
</g>
<g filter="url(#pb)">
<path d="M558 95 L559.01 92.65 L560.01 92.04 L561.02 91.28 L562.02 91.55 L563.03 91.5 L564.03 91.46 L565.04 91.07 L566.04 91 L567.05 91.24 L568.05 91.49 L569.06 90.22 L570.06 87.68 L571.07 86.36 L572.07 86.2 L573.08 86.31 L574.08 87.01 L575.09 91.01 L576.09 90.95 L577.1 91.46 L578.1 91.5 L579.11 90.98 L580.11 91.36 L581.12 91.25 L582.12 91.08 L583.13 89.92 L584.13 90.02 L585.14 90.78 L586.14 91.27 L587.15 91.03 L588.15 90.86 L589.16 91.45 L590.16 91.12 L591.17 91.48 L592.18 90.87 L593.18 88.14 L594.19 86.85 L595.19 86.31 L596.2 85.59 L597.2 86.67 L598.21 89.01 L599.21 91.24 L600.22 90.95 L601.22 91.37 L602.23 90.95 L603.23 91.22 L604.24 91.28 L605.24 90.26 L606.25 89.94 L607.25 90.14 L608.26 90.5 L609.26 90.88 L610.27 90.81 L611.27 91.16 L612.28 90.74 L613.28 91.02 L614.29 90.98 L615.29 90.97 L616.3 88.82 L617.3 87.19 L618.31 86.4 L619.31 85.59 L620.32 85.83 L621.32 87.61 L622.33 90.93 L623.34 90.7 L624.34 90.51 L625.35 91.02 L626.35 90.73 L627.36 90.81 L628.36 90.66 L629.37 90.23 L630.37 89.83 L631.38 89.51 L632.38 90.23 L633.39 91.12 L634.39 91.06 L635.4 90.43 L636.4 90.8 L637.41 90.88 L638.41 90.67 L639.42 88.79 L640.42 87.21 L641.43 86.1 L642.43 85.64 L643.44 85.83 L644.44 87.36 L645.45 90.44 L646.45 90.4 L647.46 90.46 L648.46 90.9 L649.47 90.68 L650.47 90.85 L651.48 90.93 L652.48 90.89 L653.49 90.7 L654.49 91.92 L655.5 94.2 L655.5 94.2 L654.49 96.61 L653.49 97.27 L652.48 97.86 L651.48 97.72 L650.47 97.76 L649.47 97.78 L648.46 98.02 L647.46 98.06 L646.45 97.92 L645.45 97.78 L644.44 97.99 L643.44 97.9 L642.43 97.98 L641.43 97.77 L640.42 97.74 L639.42 97.97 L638.41 97.73 L637.41 98.13 L636.4 97.83 L635.4 97.81 L634.39 98.12 L633.39 97.9 L632.38 97.96 L631.38 97.81 L630.37 98.13 L629.37 98 L628.36 97.86 L627.36 97.97 L626.35 98.12 L625.35 98.22 L624.34 97.87 L623.34 98.07 L622.33 97.86 L621.32 98.23 L620.32 97.96 L619.31 97.97 L618.31 97.93 L617.3 98.32 L616.3 98.18 L615.29 98.32 L614.29 98.03 L613.28 98.21 L612.28 97.96 L611.27 98.22 L610.27 98.06 L609.26 98.02 L608.26 98.3 L607.25 98.17 L606.25 98.01 L605.24 98.2 L604.24 98.28 L603.23 98.33 L602.23 98.12 L601.22 98.37 L600.22 98.21 L599.21 98.24 L598.21 98.25 L597.2 98.43 L596.2 98.22 L595.19 98.12 L594.19 98.38 L593.18 98.38 L592.18 98.15 L591.17 98.29 L590.16 98.43 L589.16 98.55 L588.15 98.25 L587.15 98.42 L586.14 98.38 L585.14 98.47 L584.13 98.33 L583.13 98.3 L582.12 98.48 L581.12 98.59 L580.11 98.21 L579.11 98.25 L578.1 98.64 L577.1 98.42 L576.09 98.37 L575.09 98.5 L574.08 98.37 L573.08 98.28 L572.07 98.45 L571.07 98.54 L570.06 98.63 L569.06 98.61 L568.05 98.66 L567.05 98.69 L566.04 98.65 L565.04 98.4 L564.03 98.53 L563.03 98.43 L562.02 98.39 L561.02 98.4 L560.01 98.38 L559.01 97.36 L558 95Z" fill="url(#pg2)"/>
<g clip-path="url(#pc2)">
<ellipse cx="572.9" cy="89.66" rx="4.2" ry="5.85" fill="#ee141a" fill-opacity="0.75" filter="url(#pb2)"/>
<ellipse cx="596.2" cy="89.53" rx="4.2" ry="5.7" fill="#ee141a" fill-opacity="0.6" filter="url(#pb2)"/>
<ellipse cx="619.9" cy="89.33" rx="4.2" ry="5.7" fill="#ee141a" fill-opacity="0.6" filter="url(#pb2)"/>
<ellipse cx="642.9" cy="89.21" rx="4.2" ry="5.55" fill="#ee141a" fill-opacity="0.55" filter="url(#pb2)"/>
<ellipse cx="584.27" cy="94.6" rx="6.53" ry="1.51" fill="#fff" fill-opacity="0.75" transform="rotate(-30 584.27 94.78)" filter="url(#pb2)"/>
<ellipse cx="607.57" cy="94.41" rx="6.53" ry="1.51" fill="#fff" fill-opacity="0.75" transform="rotate(-30 607.57 94.59)" filter="url(#pb2)"/>
<ellipse cx="631.27" cy="94.22" rx="6.53" ry="1.51" fill="#fff" fill-opacity="0.75" transform="rotate(-30 631.27 94.4)" filter="url(#pb2)"/>
<ellipse cx="630" cy="95.82" rx="1.75" ry="0.84" fill="#e0242a" fill-opacity="0.22"/>
<ellipse cx="568.62" cy="95.37" rx="1.21" ry="0.92" fill="#e0242a" fill-opacity="0.27"/>
<ellipse cx="575.63" cy="93.72" rx="1.84" ry="0.89" fill="#e0242a" fill-opacity="0.3"/>
<ellipse cx="604.54" cy="94.69" rx="1.57" ry="0.87" fill="#e0242a" fill-opacity="0.44"/>
<ellipse cx="628.28" cy="92.98" rx="1.31" ry="0.71" fill="#e0242a" fill-opacity="0.29"/>
<ellipse cx="563.54" cy="95.92" rx="1.64" ry="0.85" fill="#e0242a" fill-opacity="0.42"/>
<ellipse cx="590.42" cy="94.92" rx="2.11" ry="0.93" fill="#e0242a" fill-opacity="0.35"/>
<ellipse cx="593.93" cy="96.86" rx="1.88" ry="0.78" fill="#e0242a" fill-opacity="0.29"/>
<ellipse cx="613.94" cy="94.45" rx="1.58" ry="0.72" fill="#e0242a" fill-opacity="0.34"/>
<ellipse cx="624" cy="95.52" rx="1.48" ry="0.87" fill="#e0242a" fill-opacity="0.33"/>
<ellipse cx="608.99" cy="94.28" rx="0.92" ry="0.76" fill="#e0242a" fill-opacity="0.45"/>
<ellipse cx="634.96" cy="94.04" rx="1.88" ry="0.73" fill="#e0242a" fill-opacity="0.27"/>
<ellipse cx="607.33" cy="95.35" rx="0.94" ry="0.88" fill="#e0242a" fill-opacity="0.43"/>
<ellipse cx="615.8" cy="96.65" rx="1.03" ry="1.15" fill="#e0242a" fill-opacity="0.41"/>
<ellipse cx="563.34" cy="94.95" rx="1.89" ry="0.73" fill="#e0242a" fill-opacity="0.36"/>
<ellipse cx="637.12" cy="95.55" rx="1.46" ry="0.64" fill="#e0242a" fill-opacity="0.33"/>
<ellipse cx="577.83" cy="94.84" rx="1.25" ry="0.81" fill="#e0242a" fill-opacity="0.34"/>
<ellipse cx="634.35" cy="96.42" rx="1.43" ry="0.6" fill="#e0242a" fill-opacity="0.39"/>
<ellipse cx="591.36" cy="95.75" rx="1.98" ry="0.62" fill="#e0242a" fill-opacity="0.38"/>
<ellipse cx="586.49" cy="93.75" rx="1.33" ry="0.92" fill="#e0242a" fill-opacity="0.26"/>
<ellipse cx="605.25" cy="93.42" rx="1.06" ry="0.75" fill="#e0242a" fill-opacity="0.37"/>
<ellipse cx="588.79" cy="93.16" rx="1.38" ry="0.73" fill="#e0242a" fill-opacity="0.45"/>
<ellipse cx="631.46" cy="92.59" rx="1.28" ry="0.86" fill="#e0242a" fill-opacity="0.33"/>
<ellipse cx="595.77" cy="94.62" rx="1.89" ry="0.69" fill="#e0242a" fill-opacity="0.34"/>
<ellipse cx="575.72" cy="94.84" rx="1.31" ry="1.08" fill="#e0242a" fill-opacity="0.42"/>
<ellipse cx="646.62" cy="93.66" rx="1.7" ry="0.7" fill="#e0242a" fill-opacity="0.38"/>
<ellipse cx="630.63" cy="93.88" rx="1.32" ry="1.05" fill="#e0242a" fill-opacity="0.39"/>
<ellipse cx="632.54" cy="93.22" rx="1.22" ry="0.75" fill="#e0242a" fill-opacity="0.25"/>
<ellipse cx="561.63" cy="93.02" rx="1.54" ry="0.86" fill="#e0242a" fill-opacity="0.42"/>
<ellipse cx="594.85" cy="92.97" rx="2.11" ry="0.64" fill="#e0242a" fill-opacity="0.28"/>
<ellipse cx="629.34" cy="93.4" rx="2.15" ry="1.05" fill="#e0242a" fill-opacity="0.28"/>
<ellipse cx="638.28" cy="96.14" rx="1.57" ry="0.69" fill="#e0242a" fill-opacity="0.23"/>
<ellipse cx="634.2" cy="96.01" rx="1.75" ry="1.06" fill="#e0242a" fill-opacity="0.4"/>
<ellipse cx="582.22" cy="93.28" rx="2.03" ry="1.1" fill="#e0242a" fill-opacity="0.31"/>
<path d="M558 95 L559.01 97.36 L560.01 98.38 L561.02 98.4 L562.02 98.39 L563.03 98.43 L564.03 98.53 L565.04 98.4 L566.04 98.65 L567.05 98.69 L568.05 98.66 L569.06 98.61 L570.06 98.63 L571.07 98.54 L572.07 98.45 L573.08 98.28 L574.08 98.37 L575.09 98.5 L576.09 98.37 L577.1 98.42 L578.1 98.64 L579.11 98.25 L580.11 98.21 L581.12 98.59 L582.12 98.48 L583.13 98.3 L584.13 98.33 L585.14 98.47 L586.14 98.38 L587.15 98.42 L588.15 98.25 L589.16 98.55 L590.16 98.43 L591.17 98.29 L592.18 98.15 L593.18 98.38 L594.19 98.38 L595.19 98.12 L596.2 98.22 L597.2 98.43 L598.21 98.25 L599.21 98.24 L600.22 98.21 L601.22 98.37 L602.23 98.12 L603.23 98.33 L604.24 98.28 L605.24 98.2 L606.25 98.01 L607.25 98.17 L608.26 98.3 L609.26 98.02 L610.27 98.06 L611.27 98.22 L612.28 97.96 L613.28 98.21 L614.29 98.03 L615.29 98.32 L616.3 98.18 L617.3 98.32 L618.31 97.93 L619.31 97.97 L620.32 97.96 L621.32 98.23 L622.33 97.86 L623.34 98.07 L624.34 97.87 L625.35 98.22 L626.35 98.12 L627.36 97.97 L628.36 97.86 L629.37 98 L630.37 98.13 L631.38 97.81 L632.38 97.96 L633.39 97.9 L634.39 98.12 L635.4 97.81 L636.4 97.83 L637.41 98.13 L638.41 97.73 L639.42 97.97 L640.42 97.74 L641.43 97.77 L642.43 97.98 L643.44 97.9 L644.44 97.99 L645.45 97.78 L646.45 97.92 L647.46 98.06 L648.46 98.02 L649.47 97.78 L650.47 97.76 L651.48 97.72 L652.48 97.86 L653.49 97.27 L654.49 96.61 L655.5 94.2" fill="none" stroke="#7a3a3a" stroke-opacity="0.3" stroke-width="2.4"/>
</g>
<ellipse cx="652.6" cy="94.4" rx="2.4" ry="1.8" fill="#5050ea" fill-opacity="0.6"/>
</g>
<g filter="url(#pb)">
<path d="M558 133.8 L559 131.37 L560 130.14 L561 130.24 L562 129.51 L563 129.7 L564 129.16 L565 129.49 L566 128.94 L567 129.2 L568 127.77 L569 125 L570 123.35 L571 122.84 L572 122.59 L573 122.32 L574 124.06 L575 128.43 L576 128.17 L577 127.86 L578 127.66 L579 128.02 L580 127.31 L581 127.69 L582 127.36 L583 125.89 L584 125.72 L585 126.08 L586 127.1 L587 126.9 L588 127.19 L589 127.14 L590 126.64 L591 126.98 L592 125.69 L593 122.11 L594 120.99 L595 120.36 L596 120.31 L597 121.55 L598 124.99 L599 126.07 L600 126.35 L601 126.43 L602 125.81 L603 126.05 L604 125.77 L605 125.73 L606 125.63 L607 124.84 L608 124.82 L609 124.66 L610 125.84 L611 126.16 L612 125.98 L613 125.8 L614 125.59 L615 125.85 L616 125.58 L617 123.21 L618 120.97 L619 119.69 L620 119.56 L621 119.67 L622 121.56 L623 125.99 L624 125.59 L625 125.56 L626 125.85 L627 125.77 L628 126.1 L629 125.68 L630 125.5 L631 124.41 L632 124.51 L633 124.9 L634 125.97 L635 126.23 L636 125.76 L637 126.47 L638 126.32 L639 126.44 L640 126.3 L641 126.38 L642 122.97 L643 121.71 L644 121.02 L645 121.07 L646 122 L647 124.73 L648 127.05 L649 127.04 L650 127.01 L651 126.65 L652 126.9 L653 127.18 L654 127.4 L655 127.61 L656 128.52 L657 131 L657 131 L656 133.26 L655 134.1 L654 133.99 L653 134.28 L652 133.99 L651 134.16 L650 133.8 L649 133.98 L648 133.68 L647 133.6 L646 133.51 L645 133.59 L644 133.35 L643 133.23 L642 133.54 L641 133.32 L640 133.08 L639 133.12 L638 133.2 L637 133.21 L636 132.9 L635 133.22 L634 132.9 L633 132.83 L632 133.09 L631 132.98 L630 132.97 L629 132.84 L628 132.89 L627 132.65 L626 132.62 L625 132.86 L624 132.6 L623 132.94 L622 132.92 L621 132.67 L620 132.61 L619 132.6 L618 132.53 L617 132.59 L616 132.85 L615 132.65 L614 132.59 L613 132.95 L612 132.8 L611 132.96 L610 132.99 L609 132.87 L608 132.81 L607 132.72 L606 133.1 L605 132.98 L604 132.81 L603 132.94 L602 133.08 L601 133.24 L600 133.13 L599 133.33 L598 133.22 L597 133.27 L596 133.43 L595 133.32 L594 133.55 L593 133.58 L592 133.49 L591 133.8 L590 133.9 L589 133.81 L588 133.94 L587 133.84 L586 134.18 L585 134.21 L584 134.43 L583 134.35 L582 134.5 L581 134.53 L580 134.49 L579 134.89 L578 134.59 L577 134.81 L576 134.88 L575 135.1 L574 135.19 L573 135.37 L572 135.49 L571 135.68 L570 135.77 L569 135.89 L568 136 L567 135.88 L566 136.06 L565 136.25 L564 136.65 L563 136.68 L562 136.7 L561 136.75 L560 136.7 L559 136.06 L558 133.8Z" fill="url(#pg3)"/>
<g clip-path="url(#pc3)">
<ellipse cx="572.3" cy="126.59" rx="4.8" ry="6.45" fill="#ee141a" fill-opacity="0.85" filter="url(#pb2)"/>
<ellipse cx="595.9" cy="124.49" rx="4.2" ry="6.6" fill="#ee141a" fill-opacity="0.55" filter="url(#pb2)"/>
<ellipse cx="620.5" cy="123.82" rx="4.2" ry="6.6" fill="#ee141a" fill-opacity="0.55" filter="url(#pb2)"/>
<ellipse cx="645" cy="124.92" rx="4.2" ry="5.85" fill="#ee141a" fill-opacity="0.5" filter="url(#pb2)"/>
<ellipse cx="584.05" cy="130.56" rx="6.75" ry="1.47" fill="#fff" fill-opacity="0.75" transform="rotate(-30 584.05 130.74)" filter="url(#pb2)"/>
<ellipse cx="607.65" cy="129.22" rx="6.75" ry="1.47" fill="#fff" fill-opacity="0.75" transform="rotate(-30 607.65 129.4)" filter="url(#pb2)"/>
<ellipse cx="585.34" cy="129.92" rx="1.89" ry="0.79" fill="#e0242a" fill-opacity="0.29"/>
<ellipse cx="597.14" cy="127.46" rx="1.5" ry="0.64" fill="#e0242a" fill-opacity="0.31"/>
<ellipse cx="637.9" cy="129.63" rx="2.07" ry="0.73" fill="#e0242a" fill-opacity="0.24"/>
<ellipse cx="576.98" cy="129.17" rx="1.97" ry="0.63" fill="#e0242a" fill-opacity="0.34"/>
<ellipse cx="611.67" cy="130.04" rx="0.96" ry="1.14" fill="#e0242a" fill-opacity="0.31"/>
<ellipse cx="570.45" cy="130.51" rx="1.08" ry="0.9" fill="#e0242a" fill-opacity="0.17"/>
<ellipse cx="633.66" cy="129.31" rx="1.82" ry="0.75" fill="#e0242a" fill-opacity="0.28"/>
<ellipse cx="602.27" cy="130.08" rx="1.43" ry="1.19" fill="#e0242a" fill-opacity="0.32"/>
<ellipse cx="636.78" cy="128.72" rx="1.15" ry="0.69" fill="#e0242a" fill-opacity="0.18"/>
<ellipse cx="649.04" cy="129.17" rx="2.03" ry="0.74" fill="#e0242a" fill-opacity="0.27"/>
<ellipse cx="583.68" cy="129.72" rx="1.87" ry="0.97" fill="#e0242a" fill-opacity="0.34"/>
<ellipse cx="582.61" cy="129.64" rx="0.98" ry="0.73" fill="#e0242a" fill-opacity="0.35"/>
<ellipse cx="612.31" cy="129.01" rx="1.34" ry="1.06" fill="#e0242a" fill-opacity="0.29"/>
<ellipse cx="575.16" cy="129.36" rx="1.13" ry="1.09" fill="#e0242a" fill-opacity="0.3"/>
<ellipse cx="581.6" cy="129.57" rx="1.3" ry="1.01" fill="#e0242a" fill-opacity="0.3"/>
<ellipse cx="582.69" cy="129.9" rx="1.21" ry="1.17" fill="#e0242a" fill-opacity="0.26"/>
<ellipse cx="646.51" cy="128.81" rx="1.72" ry="0.94" fill="#e0242a" fill-opacity="0.34"/>
<ellipse cx="594.17" cy="128.58" rx="1.96" ry="1.17" fill="#e0242a" fill-opacity="0.25"/>
<ellipse cx="591.28" cy="128.12" rx="1.48" ry="1.16" fill="#e0242a" fill-opacity="0.22"/>
<ellipse cx="601.83" cy="129.72" rx="1.21" ry="0.67" fill="#e0242a" fill-opacity="0.25"/>
<ellipse cx="649.02" cy="131.85" rx="1.29" ry="1.07" fill="#e0242a" fill-opacity="0.32"/>
<ellipse cx="614.07" cy="128.45" rx="1.15" ry="1.02" fill="#e0242a" fill-opacity="0.29"/>
<ellipse cx="580.45" cy="129.25" rx="1.05" ry="1.1" fill="#e0242a" fill-opacity="0.33"/>
<ellipse cx="608.03" cy="129.72" rx="1.82" ry="0.69" fill="#e0242a" fill-opacity="0.25"/>
<ellipse cx="601.78" cy="131.11" rx="1.11" ry="1.11" fill="#e0242a" fill-opacity="0.18"/>
<ellipse cx="616.57" cy="130.85" rx="1" ry="0.89" fill="#e0242a" fill-opacity="0.15"/>
<ellipse cx="607.33" cy="129.16" rx="2.15" ry="0.89" fill="#e0242a" fill-opacity="0.33"/>
<ellipse cx="627.36" cy="130.7" rx="1.36" ry="0.66" fill="#e0242a" fill-opacity="0.28"/>
<ellipse cx="571.22" cy="132.44" rx="1.13" ry="0.96" fill="#e0242a" fill-opacity="0.3"/>
<ellipse cx="648.49" cy="128.76" rx="1.13" ry="0.85" fill="#e0242a" fill-opacity="0.34"/>
<path d="M558 133.8 L559 136.06 L560 136.7 L561 136.75 L562 136.7 L563 136.68 L564 136.65 L565 136.25 L566 136.06 L567 135.88 L568 136 L569 135.89 L570 135.77 L571 135.68 L572 135.49 L573 135.37 L574 135.19 L575 135.1 L576 134.88 L577 134.81 L578 134.59 L579 134.89 L580 134.49 L581 134.53 L582 134.5 L583 134.35 L584 134.43 L585 134.21 L586 134.18 L587 133.84 L588 133.94 L589 133.81 L590 133.9 L591 133.8 L592 133.49 L593 133.58 L594 133.55 L595 133.32 L596 133.43 L597 133.27 L598 133.22 L599 133.33 L600 133.13 L601 133.24 L602 133.08 L603 132.94 L604 132.81 L605 132.98 L606 133.1 L607 132.72 L608 132.81 L609 132.87 L610 132.99 L611 132.96 L612 132.8 L613 132.95 L614 132.59 L615 132.65 L616 132.85 L617 132.59 L618 132.53 L619 132.6 L620 132.61 L621 132.67 L622 132.92 L623 132.94 L624 132.6 L625 132.86 L626 132.62 L627 132.65 L628 132.89 L629 132.84 L630 132.97 L631 132.98 L632 133.09 L633 132.83 L634 132.9 L635 133.22 L636 132.9 L637 133.21 L638 133.2 L639 133.12 L640 133.08 L641 133.32 L642 133.54 L643 133.23 L644 133.35 L645 133.59 L646 133.51 L647 133.6 L648 133.68 L649 133.98 L650 133.8 L651 134.16 L652 133.99 L653 134.28 L654 133.99 L655 134.1 L656 133.26 L657 131" fill="none" stroke="#7a3a3a" stroke-opacity="0.3" stroke-width="2.4"/>
</g>
<ellipse cx="654.2" cy="132.8" rx="2.4" ry="1.8" fill="#5050ea" fill-opacity="0.6"/>
</g>
<g filter="url(#pb)">
<path d="M557.3 170.7 L558.31 167.6 L559.31 166.64 L560.32 166.18 L561.33 164.14 L562.34 161.89 L563.34 160.76 L564.35 160.39 L565.36 159.61 L566.36 160.37 L567.37 161.96 L568.38 164.02 L569.39 164.12 L570.39 163.88 L571.4 163.68 L572.41 163.92 L573.42 163.12 L574.42 162.91 L575.43 161.73 L576.44 159.3 L577.44 158.02 L578.45 157.46 L579.46 157.23 L580.47 158.18 L581.47 159.66 L582.48 161.94 L583.49 162.08 L584.49 161.94 L585.5 162.11 L586.51 161.93 L587.52 161.49 L588.52 161.29 L589.53 161.64 L590.54 158.85 L591.55 156.77 L592.55 156.46 L593.56 156.17 L594.57 156.15 L595.57 157.06 L596.58 161.12 L597.59 161.02 L598.6 160.59 L599.6 160.86 L600.61 160.53 L601.62 160.37 L602.62 160.55 L603.63 160.52 L604.64 157.73 L605.65 156.56 L606.65 155.96 L607.66 155.73 L608.67 155.94 L609.68 157.23 L610.68 160.8 L611.69 160.48 L612.7 160.41 L613.7 160.74 L614.71 160.71 L615.72 160.84 L616.73 160.47 L617.73 158.46 L618.74 157.45 L619.75 156.44 L620.75 156.15 L621.76 155.78 L622.77 156.92 L623.78 159.94 L624.78 161.31 L625.79 161.63 L626.8 161.16 L627.81 161.43 L628.81 161.76 L629.82 161.61 L630.83 161.95 L631.83 161.03 L632.84 158.78 L633.85 157.9 L634.86 158.12 L635.86 157.46 L636.87 158.06 L637.88 159.83 L638.88 162.88 L639.89 163.13 L640.9 163.01 L641.91 163.18 L642.91 163.54 L643.92 163.35 L644.93 163.58 L645.94 163.23 L646.94 161.82 L647.95 160.82 L648.96 160.65 L649.96 160.72 L650.97 161.65 L651.98 163.17 L652.99 166.03 L653.99 166.92 L655 169.7 L655 169.7 L653.99 172.28 L652.99 172.85 L651.98 172.95 L650.97 173.12 L649.96 172.94 L648.96 172.7 L647.95 172.29 L646.94 172.37 L645.94 171.94 L644.93 171.8 L643.92 171.85 L642.91 171.52 L641.91 171.4 L640.9 171.26 L639.89 170.87 L638.88 171.11 L637.88 171 L636.87 170.48 L635.86 170.57 L634.86 170.53 L633.85 170.36 L632.84 170.23 L631.83 169.87 L630.83 170.07 L629.82 169.97 L628.81 169.72 L627.81 169.64 L626.8 169.38 L625.79 169.35 L624.78 169.47 L623.78 169.46 L622.77 169.13 L621.76 169 L620.75 169.34 L619.75 168.99 L618.74 168.88 L617.73 168.93 L616.73 169.07 L615.72 168.79 L614.71 168.78 L613.7 168.98 L612.7 168.77 L611.69 168.93 L610.68 168.99 L609.68 168.86 L608.67 168.86 L607.66 168.83 L606.65 168.73 L605.65 168.66 L604.64 168.63 L603.63 168.64 L602.62 168.66 L601.62 168.77 L600.61 169.01 L599.6 169.1 L598.6 168.96 L597.59 169.04 L596.58 169.04 L595.57 169.34 L594.57 169.36 L593.56 169.12 L592.55 169.32 L591.55 169.36 L590.54 169.69 L589.53 169.65 L588.52 169.52 L587.52 169.73 L586.51 169.68 L585.5 170.12 L584.49 170.12 L583.49 170.09 L582.48 170.36 L581.47 170.33 L580.47 170.56 L579.46 170.88 L578.45 171.02 L577.44 170.79 L576.44 171.3 L575.43 171.42 L574.42 171.51 L573.42 171.52 L572.41 171.62 L571.4 171.95 L570.39 172.11 L569.39 172.17 L568.38 172.57 L567.37 172.72 L566.36 172.81 L565.36 173 L564.35 173.45 L563.34 173.62 L562.34 173.82 L561.33 173.79 L560.32 173.89 L559.31 173.59 L558.31 173.08 L557.3 170.7Z" fill="url(#pg4)"/>
<g clip-path="url(#pc4)">
<ellipse cx="565.6" cy="163.36" rx="4.5" ry="5.55" fill="#ee141a" fill-opacity="0.9" filter="url(#pb2)"/>
<ellipse cx="579.6" cy="160.98" rx="4.5" ry="5.7" fill="#ee141a" fill-opacity="0.9" filter="url(#pb2)"/>
<ellipse cx="594.2" cy="159.51" rx="4.5" ry="5.7" fill="#ee141a" fill-opacity="0.85" filter="url(#pb2)"/>
<ellipse cx="608.3" cy="159.03" rx="4.5" ry="5.7" fill="#ee141a" fill-opacity="0.85" filter="url(#pb2)"/>
<ellipse cx="621.7" cy="159.48" rx="4.5" ry="5.55" fill="#ee141a" fill-opacity="0.8" filter="url(#pb2)"/>
<ellipse cx="636.2" cy="160.96" rx="4.5" ry="5.25" fill="#ee141a" fill-opacity="0.75" filter="url(#pb2)"/>
<ellipse cx="650.3" cy="163.5" rx="4.5" ry="4.5" fill="#ee141a" fill-opacity="0.6" filter="url(#pb2)"/>
<ellipse cx="572.36" cy="167.47" rx="3.95" ry="1.72" fill="#fff" fill-opacity="0.8" transform="rotate(-30 572.36 167.68)" filter="url(#pb2)"/>
<ellipse cx="586.36" cy="165.6" rx="3.95" ry="1.72" fill="#fff" fill-opacity="0.8" transform="rotate(-30 586.36 165.81)" filter="url(#pb2)"/>
<ellipse cx="600.96" cy="164.61" rx="3.95" ry="1.72" fill="#fff" fill-opacity="0.8" transform="rotate(-30 600.96 164.82)" filter="url(#pb2)"/>
<ellipse cx="615.06" cy="164.59" rx="3.95" ry="1.72" fill="#fff" fill-opacity="0.8" transform="rotate(-30 615.06 164.79)" filter="url(#pb2)"/>
<ellipse cx="628.46" cy="165.41" rx="3.95" ry="1.72" fill="#fff" fill-opacity="0.8" transform="rotate(-30 628.46 165.62)" filter="url(#pb2)"/>
<ellipse cx="642.96" cy="167.24" rx="3.95" ry="1.72" fill="#fff" fill-opacity="0.8" transform="rotate(-30 642.96 167.45)" filter="url(#pb2)"/>
<ellipse cx="628.97" cy="168.05" rx="1.35" ry="0.61" fill="#ffffff" fill-opacity="0.34"/>
<ellipse cx="585.64" cy="163.95" rx="0.96" ry="0.67" fill="#ffffff" fill-opacity="0.47"/>
<ellipse cx="564.78" cy="169.47" rx="1.17" ry="0.72" fill="#ffffff" fill-opacity="0.46"/>
<ellipse cx="587.1" cy="163.84" rx="1.49" ry="1.02" fill="#ffffff" fill-opacity="0.38"/>
<ellipse cx="637.42" cy="165.9" rx="1.58" ry="1.03" fill="#ffffff" fill-opacity="0.37"/>
<ellipse cx="624.62" cy="164.92" rx="1.07" ry="0.67" fill="#ffffff" fill-opacity="0.45"/>
<ellipse cx="627.11" cy="167.65" rx="1.8" ry="0.95" fill="#ffffff" fill-opacity="0.29"/>
<ellipse cx="636.83" cy="164.32" rx="1.45" ry="0.68" fill="#ffffff" fill-opacity="0.35"/>
<ellipse cx="587.86" cy="165.06" rx="1.82" ry="0.92" fill="#ffffff" fill-opacity="0.31"/>
<ellipse cx="630.16" cy="166.83" rx="1.98" ry="0.62" fill="#ffffff" fill-opacity="0.4"/>
<ellipse cx="640.62" cy="165.59" rx="1.16" ry="1.09" fill="#ffffff" fill-opacity="0.34"/>
<ellipse cx="596.3" cy="166.51" rx="1.4" ry="0.72" fill="#ffffff" fill-opacity="0.3"/>
<ellipse cx="591.3" cy="166.21" rx="1.38" ry="1.06" fill="#ffffff" fill-opacity="0.27"/>
<ellipse cx="582.64" cy="166.68" rx="1.52" ry="0.9" fill="#ffffff" fill-opacity="0.48"/>
<ellipse cx="585.18" cy="164.03" rx="0.94" ry="0.89" fill="#ffffff" fill-opacity="0.32"/>
<ellipse cx="602.8" cy="161.92" rx="0.9" ry="0.83" fill="#ffffff" fill-opacity="0.44"/>
<ellipse cx="587.25" cy="167.71" rx="1.65" ry="0.84" fill="#ffffff" fill-opacity="0.44"/>
<ellipse cx="581.22" cy="166.74" rx="2" ry="0.92" fill="#ffffff" fill-opacity="0.33"/>
<ellipse cx="568.91" cy="168.47" rx="1.14" ry="0.82" fill="#ffffff" fill-opacity="0.39"/>
<ellipse cx="644.72" cy="168.45" rx="1.58" ry="1.12" fill="#ffffff" fill-opacity="0.33"/>
<ellipse cx="595.07" cy="165.84" rx="1.62" ry="0.73" fill="#ffffff" fill-opacity="0.35"/>
<ellipse cx="634.17" cy="164.64" rx="1.82" ry="0.63" fill="#ffffff" fill-opacity="0.49"/>
<ellipse cx="621.66" cy="163.95" rx="2.18" ry="1.08" fill="#ffffff" fill-opacity="0.27"/>
<ellipse cx="582.57" cy="165.97" rx="2.2" ry="0.68" fill="#ffffff" fill-opacity="0.26"/>
<ellipse cx="588.34" cy="162.98" rx="1.43" ry="0.92" fill="#ffffff" fill-opacity="0.36"/>
<ellipse cx="572.98" cy="164.83" rx="1.94" ry="0.86" fill="#ffffff" fill-opacity="0.37"/>
<ellipse cx="603.18" cy="165.54" rx="2.07" ry="1.1" fill="#ffffff" fill-opacity="0.43"/>
<ellipse cx="590.7" cy="163.44" rx="1.02" ry="1.12" fill="#ffffff" fill-opacity="0.26"/>
<ellipse cx="611.36" cy="166.69" rx="1.32" ry="0.83" fill="#ffffff" fill-opacity="0.35"/>
<ellipse cx="645.02" cy="168.56" rx="1.99" ry="0.62" fill="#ffffff" fill-opacity="0.43"/>
<path d="M557.3 170.7 L558.31 173.08 L559.31 173.59 L560.32 173.89 L561.33 173.79 L562.34 173.82 L563.34 173.62 L564.35 173.45 L565.36 173 L566.36 172.81 L567.37 172.72 L568.38 172.57 L569.39 172.17 L570.39 172.11 L571.4 171.95 L572.41 171.62 L573.42 171.52 L574.42 171.51 L575.43 171.42 L576.44 171.3 L577.44 170.79 L578.45 171.02 L579.46 170.88 L580.47 170.56 L581.47 170.33 L582.48 170.36 L583.49 170.09 L584.49 170.12 L585.5 170.12 L586.51 169.68 L587.52 169.73 L588.52 169.52 L589.53 169.65 L590.54 169.69 L591.55 169.36 L592.55 169.32 L593.56 169.12 L594.57 169.36 L595.57 169.34 L596.58 169.04 L597.59 169.04 L598.6 168.96 L599.6 169.1 L600.61 169.01 L601.62 168.77 L602.62 168.66 L603.63 168.64 L604.64 168.63 L605.65 168.66 L606.65 168.73 L607.66 168.83 L608.67 168.86 L609.68 168.86 L610.68 168.99 L611.69 168.93 L612.7 168.77 L613.7 168.98 L614.71 168.78 L615.72 168.79 L616.73 169.07 L617.73 168.93 L618.74 168.88 L619.75 168.99 L620.75 169.34 L621.76 169 L622.77 169.13 L623.78 169.46 L624.78 169.47 L625.79 169.35 L626.8 169.38 L627.81 169.64 L628.81 169.72 L629.82 169.97 L630.83 170.07 L631.83 169.87 L632.84 170.23 L633.85 170.36 L634.86 170.53 L635.86 170.57 L636.87 170.48 L637.88 171 L638.88 171.11 L639.89 170.87 L640.9 171.26 L641.91 171.4 L642.91 171.52 L643.92 171.85 L644.93 171.8 L645.94 171.94 L646.94 172.37 L647.95 172.29 L648.96 172.7 L649.96 172.94 L650.97 173.12 L651.98 172.95 L652.99 172.85 L653.99 172.28 L655 169.7" fill="none" stroke="#6a1010" stroke-opacity="0.45" stroke-width="2.4"/>
</g>
<ellipse cx="652.9" cy="171.8" rx="1.8" ry="1.7" fill="#5050ea" fill-opacity="0.75"/>
</g>
<g filter="url(#pb)">
<path d="M558.3 206.9 L559.31 203.94 L560.31 203.04 L561.32 200.69 L562.33 198.74 L563.34 197.28 L564.34 196.71 L565.35 196.04 L566.36 196.5 L567.36 198.08 L568.37 200.57 L569.38 200.66 L570.39 200.3 L571.39 200.47 L572.4 200.03 L573.41 199.62 L574.42 199.73 L575.42 197.8 L576.43 195.39 L577.44 194.48 L578.44 193.45 L579.45 193.44 L580.46 194.11 L581.47 196.28 L582.47 198.85 L583.48 198.49 L584.49 197.97 L585.49 198.17 L586.5 197.91 L587.51 198.16 L588.52 198.17 L589.52 196.53 L590.53 194.49 L591.54 192.91 L592.55 192.15 L593.55 192.06 L594.56 192.44 L595.57 194.07 L596.57 197.14 L597.58 197.21 L598.59 197.34 L599.6 196.93 L600.6 197.04 L601.61 196.91 L602.62 197.23 L603.62 195.48 L604.63 193.63 L605.64 192.02 L606.65 192.02 L607.65 191.55 L608.66 192.48 L609.67 194.37 L610.68 197.25 L611.68 196.7 L612.69 197.22 L613.7 197.09 L614.7 197.37 L615.71 197.18 L616.72 197.07 L617.73 195.32 L618.73 193.8 L619.74 192.43 L620.75 192.01 L621.75 192.26 L622.76 193.37 L623.77 195.77 L624.78 197.72 L625.78 197.77 L626.79 198.03 L627.8 197.67 L628.81 197.76 L629.81 198.13 L630.82 198.39 L631.83 196.6 L632.83 195.2 L633.84 194.12 L634.85 193.65 L635.86 194.18 L636.86 195 L637.87 196.89 L638.88 198.94 L639.88 199.52 L640.89 199.65 L641.9 199.49 L642.91 199.69 L643.91 199.96 L644.92 199.86 L645.93 199.53 L646.94 197.96 L647.94 197.19 L648.95 197.29 L649.96 197.63 L650.96 197.57 L651.97 199.47 L652.98 201.96 L653.99 202.4 L654.99 203.65 L656 206.5 L656 206.5 L654.99 208.99 L653.99 209.5 L652.98 209.97 L651.97 209.65 L650.96 209.58 L649.96 209.28 L648.95 209.27 L647.94 209 L646.94 208.85 L645.93 208.64 L644.92 208.3 L643.91 208.23 L642.91 207.86 L641.9 207.86 L640.89 207.85 L639.88 207.53 L638.88 207.42 L637.87 207.44 L636.86 207.14 L635.86 207.22 L634.85 206.94 L633.84 206.75 L632.83 206.56 L631.83 206.34 L630.82 206.37 L629.81 206.51 L628.81 206.22 L627.8 206.22 L626.79 205.92 L625.78 205.77 L624.78 206.03 L623.77 205.67 L622.76 205.79 L621.75 205.77 L620.75 205.6 L619.74 205.55 L618.73 205.56 L617.73 205.52 L616.72 205.4 L615.71 205.26 L614.7 205.44 L613.7 205.33 L612.69 205.36 L611.68 205.13 L610.68 205.32 L609.67 205.1 L608.66 205.4 L607.65 205.05 L606.65 205.23 L605.64 205.03 L604.63 205.1 L603.62 205.1 L602.62 205.46 L601.61 205.19 L600.6 205.32 L599.6 205.2 L598.59 205.38 L597.58 205.52 L596.57 205.34 L595.57 205.35 L594.56 205.74 L593.55 205.84 L592.55 205.78 L591.54 205.77 L590.53 206.06 L589.52 205.97 L588.52 206.07 L587.51 206.06 L586.5 206.43 L585.49 206.54 L584.49 206.49 L583.48 206.51 L582.47 206.69 L581.47 206.75 L580.46 207.08 L579.45 207.31 L578.44 207.17 L577.44 207.33 L576.43 207.74 L575.42 207.87 L574.42 207.77 L573.41 207.94 L572.4 208.3 L571.39 208.45 L570.39 208.56 L569.38 208.9 L568.37 208.97 L567.36 209.19 L566.36 209.46 L565.35 209.46 L564.34 209.49 L563.34 210.06 L562.33 210.02 L561.32 210.13 L560.31 210.05 L559.31 209.32 L558.3 206.9Z" fill="url(#pg5)"/>
<g clip-path="url(#pc5)">
<ellipse cx="565.6" cy="199.78" rx="4.5" ry="5.55" fill="#ee141a" fill-opacity="0.9" filter="url(#pb2)"/>
<ellipse cx="579.6" cy="197.31" rx="4.5" ry="5.85" fill="#ee141a" fill-opacity="0.9" filter="url(#pb2)"/>
<ellipse cx="593.9" cy="195.87" rx="4.5" ry="5.85" fill="#ee141a" fill-opacity="0.85" filter="url(#pb2)"/>
<ellipse cx="607.9" cy="195.38" rx="4.5" ry="5.85" fill="#ee141a" fill-opacity="0.85" filter="url(#pb2)"/>
<ellipse cx="621.7" cy="195.86" rx="4.5" ry="5.7" fill="#ee141a" fill-opacity="0.8" filter="url(#pb2)"/>
<ellipse cx="635.9" cy="197.34" rx="4.5" ry="5.4" fill="#ee141a" fill-opacity="0.75" filter="url(#pb2)"/>
<ellipse cx="650.3" cy="199.99" rx="4.5" ry="4.65" fill="#ee141a" fill-opacity="0.6" filter="url(#pb2)"/>
<ellipse cx="572.36" cy="203.88" rx="3.95" ry="1.72" fill="#fff" fill-opacity="0.8" transform="rotate(-30 572.36 204.08)" filter="url(#pb2)"/>
<ellipse cx="586.36" cy="201.99" rx="3.95" ry="1.72" fill="#fff" fill-opacity="0.8" transform="rotate(-30 586.36 202.2)" filter="url(#pb2)"/>
<ellipse cx="600.66" cy="201.02" rx="3.95" ry="1.72" fill="#fff" fill-opacity="0.8" transform="rotate(-30 600.66 201.23)" filter="url(#pb2)"/>
<ellipse cx="614.66" cy="201" rx="3.95" ry="1.72" fill="#fff" fill-opacity="0.8" transform="rotate(-30 614.66 201.2)" filter="url(#pb2)"/>
<ellipse cx="628.46" cy="201.87" rx="3.95" ry="1.72" fill="#fff" fill-opacity="0.8" transform="rotate(-30 628.46 202.08)" filter="url(#pb2)"/>
<ellipse cx="642.66" cy="203.71" rx="3.95" ry="1.72" fill="#fff" fill-opacity="0.8" transform="rotate(-30 642.66 203.91)" filter="url(#pb2)"/>
<ellipse cx="584.62" cy="201.69" rx="1.72" ry="0.86" fill="#ffffff" fill-opacity="0.3"/>
<ellipse cx="597.47" cy="202.28" rx="1.66" ry="0.79" fill="#ffffff" fill-opacity="0.32"/>
<ellipse cx="576.47" cy="204.12" rx="1.91" ry="0.75" fill="#ffffff" fill-opacity="0.41"/>
<ellipse cx="567.46" cy="203.03" rx="1.67" ry="0.82" fill="#ffffff" fill-opacity="0.36"/>
<ellipse cx="566.24" cy="205.02" rx="1.52" ry="0.74" fill="#ffffff" fill-opacity="0.41"/>
<ellipse cx="581.44" cy="201.77" rx="1.04" ry="1.12" fill="#ffffff" fill-opacity="0.39"/>
<ellipse cx="642.19" cy="202.8" rx="1.91" ry="1" fill="#ffffff" fill-opacity="0.26"/>
<ellipse cx="643.95" cy="203.96" rx="1.33" ry="0.82" fill="#ffffff" fill-opacity="0.32"/>
<ellipse cx="629.75" cy="201.66" rx="1.44" ry="0.87" fill="#ffffff" fill-opacity="0.42"/>
<ellipse cx="613.81" cy="199.56" rx="1.65" ry="1.18" fill="#ffffff" fill-opacity="0.34"/>
<ellipse cx="638.04" cy="204.8" rx="1.5" ry="1.18" fill="#ffffff" fill-opacity="0.31"/>
<ellipse cx="581.87" cy="202" rx="1.05" ry="0.65" fill="#ffffff" fill-opacity="0.34"/>
<ellipse cx="604.92" cy="201.42" rx="2.04" ry="0.94" fill="#ffffff" fill-opacity="0.38"/>
<ellipse cx="561.52" cy="203.33" rx="1.56" ry="0.76" fill="#ffffff" fill-opacity="0.5"/>
<ellipse cx="635.43" cy="200.75" rx="0.96" ry="1.1" fill="#ffffff" fill-opacity="0.49"/>
<ellipse cx="627.61" cy="199.49" rx="2.07" ry="1.01" fill="#ffffff" fill-opacity="0.47"/>
<ellipse cx="619.99" cy="202.22" rx="2.06" ry="0.85" fill="#ffffff" fill-opacity="0.29"/>
<ellipse cx="576.65" cy="202.53" rx="1.95" ry="1.1" fill="#ffffff" fill-opacity="0.35"/>
<ellipse cx="580.21" cy="200.7" rx="1.28" ry="1.11" fill="#ffffff" fill-opacity="0.26"/>
<ellipse cx="617.67" cy="203.54" rx="1.6" ry="1.03" fill="#ffffff" fill-opacity="0.26"/>
<ellipse cx="602.32" cy="202.04" rx="1.08" ry="0.77" fill="#ffffff" fill-opacity="0.37"/>
<ellipse cx="636" cy="203.17" rx="1.71" ry="0.92" fill="#ffffff" fill-opacity="0.32"/>
<ellipse cx="647.22" cy="205.84" rx="0.97" ry="1.2" fill="#ffffff" fill-opacity="0.44"/>
<ellipse cx="568.92" cy="205.89" rx="2.17" ry="0.83" fill="#ffffff" fill-opacity="0.4"/>
<ellipse cx="571.97" cy="202.85" rx="1.16" ry="0.71" fill="#ffffff" fill-opacity="0.32"/>
<ellipse cx="583.01" cy="202.85" rx="1.79" ry="1.2" fill="#ffffff" fill-opacity="0.5"/>
<ellipse cx="562.92" cy="207.54" rx="1.27" ry="0.83" fill="#ffffff" fill-opacity="0.49"/>
<ellipse cx="575.78" cy="205.68" rx="1.28" ry="1.18" fill="#ffffff" fill-opacity="0.33"/>
<ellipse cx="607.25" cy="198.39" rx="1.95" ry="1.08" fill="#ffffff" fill-opacity="0.32"/>
<ellipse cx="629.59" cy="203.63" rx="1.91" ry="0.66" fill="#ffffff" fill-opacity="0.49"/>
<path d="M558.3 206.9 L559.31 209.32 L560.31 210.05 L561.32 210.13 L562.33 210.02 L563.34 210.06 L564.34 209.49 L565.35 209.46 L566.36 209.46 L567.36 209.19 L568.37 208.97 L569.38 208.9 L570.39 208.56 L571.39 208.45 L572.4 208.3 L573.41 207.94 L574.42 207.77 L575.42 207.87 L576.43 207.74 L577.44 207.33 L578.44 207.17 L579.45 207.31 L580.46 207.08 L581.47 206.75 L582.47 206.69 L583.48 206.51 L584.49 206.49 L585.49 206.54 L586.5 206.43 L587.51 206.06 L588.52 206.07 L589.52 205.97 L590.53 206.06 L591.54 205.77 L592.55 205.78 L593.55 205.84 L594.56 205.74 L595.57 205.35 L596.57 205.34 L597.58 205.52 L598.59 205.38 L599.6 205.2 L600.6 205.32 L601.61 205.19 L602.62 205.46 L603.62 205.1 L604.63 205.1 L605.64 205.03 L606.65 205.23 L607.65 205.05 L608.66 205.4 L609.67 205.1 L610.68 205.32 L611.68 205.13 L612.69 205.36 L613.7 205.33 L614.7 205.44 L615.71 205.26 L616.72 205.4 L617.73 205.52 L618.73 205.56 L619.74 205.55 L620.75 205.6 L621.75 205.77 L622.76 205.79 L623.77 205.67 L624.78 206.03 L625.78 205.77 L626.79 205.92 L627.8 206.22 L628.81 206.22 L629.81 206.51 L630.82 206.37 L631.83 206.34 L632.83 206.56 L633.84 206.75 L634.85 206.94 L635.86 207.22 L636.86 207.14 L637.87 207.44 L638.88 207.42 L639.88 207.53 L640.89 207.85 L641.9 207.86 L642.91 207.86 L643.91 208.23 L644.92 208.3 L645.93 208.64 L646.94 208.85 L647.94 209 L648.95 209.27 L649.96 209.28 L650.96 209.58 L651.97 209.65 L652.98 209.97 L653.99 209.5 L654.99 208.99 L656 206.5" fill="none" stroke="#6a1010" stroke-opacity="0.45" stroke-width="2.4"/>
</g>
<ellipse cx="653.5" cy="209.4" rx="1.9" ry="1.7" fill="#5050ea" fill-opacity="0.75"/>
</g>
<g filter="url(#pb)">
<path d="M555.3 242.6 L556.3 239.1 L557.3 237.49 L558.31 236.65 L559.31 235.78 L560.31 235.25 L561.31 234.53 L562.31 233.03 L563.32 232.42 L564.32 232.29 L565.32 231.75 L566.32 232.97 L567.32 233.53 L568.33 233.76 L569.33 233.5 L570.33 232.91 L571.33 231.96 L572.33 230.77 L573.34 229.7 L574.34 229.65 L575.34 230.12 L576.34 232.01 L577.34 231.53 L578.35 231.41 L579.35 231.61 L580.35 231.04 L581.35 228.86 L582.35 228.11 L583.36 228.2 L584.36 227.97 L585.36 229.02 L586.36 230.69 L587.36 230.48 L588.37 230.31 L589.37 230.35 L590.37 228.97 L591.37 227.91 L592.37 227.24 L593.38 227 L594.38 226.99 L595.38 229.29 L596.38 229.8 L597.38 229.35 L598.39 229.49 L599.39 229.02 L600.39 228.25 L601.39 227.22 L602.39 226.46 L603.4 226.36 L604.4 227.02 L605.4 228.08 L606.4 229.16 L607.41 228.9 L608.41 229.11 L609.41 229.47 L610.41 227.67 L611.41 226.51 L612.42 226.78 L613.42 226.68 L614.42 227.37 L615.42 229.25 L616.42 229.31 L617.43 229.29 L618.43 229.66 L619.43 228.85 L620.43 228.09 L621.43 226.97 L622.44 227.19 L623.44 227.44 L624.44 228.49 L625.44 230.03 L626.44 230.26 L627.45 230.3 L628.45 230.87 L629.45 229.85 L630.45 228.85 L631.45 228.61 L632.46 228.48 L633.46 228.72 L634.46 230.15 L635.46 231.89 L636.46 231.97 L637.47 231.63 L638.47 232.17 L639.47 231.22 L640.47 230.75 L641.47 230.04 L642.48 230.24 L643.48 231.16 L644.48 233.38 L645.48 233.24 L646.48 233.89 L647.49 234.17 L648.49 234.2 L649.49 234.75 L650.49 234.89 L651.49 235.83 L652.5 236.5 L653.5 237.89 L654.5 241.4 L654.5 241.4 L653.5 244.32 L652.5 245.28 L651.49 245.61 L650.49 245.87 L649.49 246.12 L648.49 246.47 L647.49 246.53 L646.48 246.21 L645.48 245.56 L644.48 244.92 L643.48 244.24 L642.48 244.23 L641.47 243.75 L640.47 243.57 L639.47 244.37 L638.47 244.4 L637.47 244.42 L636.46 244.4 L635.46 243.66 L634.46 242.52 L633.46 242.26 L632.46 242.43 L631.45 242.25 L630.45 241.89 L629.45 242.59 L628.45 243.22 L627.45 243.18 L626.44 242.62 L625.44 242.16 L624.44 241.33 L623.44 241.02 L622.44 240.98 L621.43 240.93 L620.43 241.17 L619.43 241.87 L618.43 242.02 L617.43 242.01 L616.42 241.67 L615.42 240.9 L614.42 240.38 L613.42 240.34 L612.42 240.54 L611.41 240.39 L610.41 241.27 L609.41 241.61 L608.41 241.74 L607.41 241.79 L606.4 241.37 L605.4 240.25 L604.4 240.56 L603.4 240.44 L602.39 240.62 L601.39 240.53 L600.39 241.1 L599.39 241.76 L598.39 242.2 L597.38 241.8 L596.38 241.52 L595.38 240.77 L594.38 240.94 L593.38 241.01 L592.37 241.14 L591.37 241.05 L590.37 242.29 L589.37 242.41 L588.37 242.96 L587.36 242.69 L586.36 242.31 L585.36 241.81 L584.36 241.98 L583.36 242.04 L582.35 242.23 L581.35 242.61 L580.35 243.56 L579.35 244 L578.35 244.06 L577.34 243.98 L576.34 243.28 L575.34 243.52 L574.34 243.31 L573.34 243.55 L572.33 244.07 L571.33 244.58 L570.33 245.36 L569.33 245.75 L568.33 246.28 L567.32 246.16 L566.32 245.27 L565.32 245.42 L564.32 245.89 L563.32 245.88 L562.31 246.12 L561.31 246.51 L560.31 246.58 L559.31 246.85 L558.31 246.56 L557.3 246.34 L556.3 245.52 L555.3 242.6Z" fill="url(#pg6)"/>
<g clip-path="url(#pc6)">
<ellipse cx="564.8" cy="233.75" rx="3.6" ry="3.6" fill="#ee141a" fill-opacity="0.3" filter="url(#pb2)"/>
<ellipse cx="574.5" cy="231.55" rx="3.6" ry="3.75" fill="#ee141a" fill-opacity="0.3" filter="url(#pb2)"/>
<ellipse cx="583.9" cy="229.95" rx="3.6" ry="3.9" fill="#ee141a" fill-opacity="0.3" filter="url(#pb2)"/>
<ellipse cx="593.6" cy="228.89" rx="3.6" ry="3.9" fill="#ee141a" fill-opacity="0.3" filter="url(#pb2)"/>
<ellipse cx="603.7" cy="228.38" rx="3.6" ry="3.9" fill="#ee141a" fill-opacity="0.3" filter="url(#pb2)"/>
<ellipse cx="613.3" cy="228.45" rx="3.6" ry="3.9" fill="#ee141a" fill-opacity="0.3" filter="url(#pb2)"/>
<ellipse cx="623" cy="229.07" rx="3.6" ry="3.9" fill="#ee141a" fill-opacity="0.3" filter="url(#pb2)"/>
<ellipse cx="632.8" cy="230.32" rx="3.6" ry="3.75" fill="#ee141a" fill-opacity="0.3" filter="url(#pb2)"/>
<ellipse cx="642.5" cy="232.1" rx="3.6" ry="3.6" fill="#ee141a" fill-opacity="0.3" filter="url(#pb2)"/>
<ellipse cx="561.9" cy="241.06" rx="2.92" ry="0.94" fill="#fff" fill-opacity="0.21"/>
<ellipse cx="567.41" cy="238.66" rx="2.88" ry="1.12" fill="#fff" fill-opacity="0.24"/>
<ellipse cx="571.05" cy="238.11" rx="3.41" ry="1.21" fill="#fff" fill-opacity="0.22"/>
<ellipse cx="576.1" cy="237.88" rx="2.68" ry="1.28" fill="#fff" fill-opacity="0.24"/>
<ellipse cx="581.05" cy="235.76" rx="2.68" ry="1.45" fill="#fff" fill-opacity="0.17"/>
<ellipse cx="584.73" cy="236.15" rx="1.6" ry="1.12" fill="#fff" fill-opacity="0.22"/>
<ellipse cx="590.17" cy="235.82" rx="3.38" ry="1.4" fill="#fff" fill-opacity="0.19"/>
<ellipse cx="593.33" cy="235.84" rx="3.04" ry="1.18" fill="#fff" fill-opacity="0.24"/>
<ellipse cx="598.03" cy="235.27" rx="2.27" ry="0.94" fill="#fff" fill-opacity="0.19"/>
<ellipse cx="603.11" cy="234.64" rx="1.66" ry="1.13" fill="#fff" fill-opacity="0.17"/>
<ellipse cx="607.33" cy="234.78" rx="2.99" ry="1.25" fill="#fff" fill-opacity="0.23"/>
<ellipse cx="611.56" cy="233.93" rx="2.66" ry="1.3" fill="#fff" fill-opacity="0.22"/>
<ellipse cx="616.44" cy="235.55" rx="3.1" ry="1.33" fill="#fff" fill-opacity="0.25"/>
<ellipse cx="621.4" cy="235.7" rx="2.06" ry="1.3" fill="#fff" fill-opacity="0.21"/>
<ellipse cx="624.84" cy="235.19" rx="2.63" ry="1.25" fill="#fff" fill-opacity="0.24"/>
<ellipse cx="628.98" cy="235.32" rx="1.54" ry="1.22" fill="#fff" fill-opacity="0.23"/>
<ellipse cx="632.13" cy="236.1" rx="2.32" ry="1.16" fill="#fff" fill-opacity="0.21"/>
<ellipse cx="636.64" cy="237.68" rx="2.04" ry="1.39" fill="#fff" fill-opacity="0.24"/>
<ellipse cx="640.02" cy="237.28" rx="2.57" ry="0.96" fill="#fff" fill-opacity="0.24"/>
<ellipse cx="645" cy="239.17" rx="2.41" ry="1.41" fill="#fff" fill-opacity="0.2"/>
<ellipse cx="640.52" cy="237.85" rx="1.44" ry="0.72" fill="#ffffff" fill-opacity="0.18"/>
<ellipse cx="637.43" cy="240.37" rx="1.08" ry="0.67" fill="#ffffff" fill-opacity="0.25"/>
<ellipse cx="606.04" cy="235.49" rx="1.8" ry="0.85" fill="#ffffff" fill-opacity="0.16"/>
<ellipse cx="637.74" cy="238.18" rx="0.93" ry="0.62" fill="#ffffff" fill-opacity="0.23"/>
<ellipse cx="612.44" cy="236.38" rx="1.55" ry="1.03" fill="#ffffff" fill-opacity="0.15"/>
<ellipse cx="591.68" cy="234.04" rx="1.28" ry="1.17" fill="#ffffff" fill-opacity="0.23"/>
<ellipse cx="608.02" cy="231.18" rx="2.1" ry="1.09" fill="#ffffff" fill-opacity="0.2"/>
<ellipse cx="646.22" cy="240.87" rx="1.69" ry="0.8" fill="#ffffff" fill-opacity="0.19"/>
<ellipse cx="596.79" cy="232.44" rx="1.11" ry="0.66" fill="#ffffff" fill-opacity="0.2"/>
<ellipse cx="592.52" cy="238.67" rx="2.09" ry="0.77" fill="#ffffff" fill-opacity="0.12"/>
<ellipse cx="634.21" cy="239.22" rx="1.38" ry="1.06" fill="#ffffff" fill-opacity="0.24"/>
<ellipse cx="599" cy="234.28" rx="1.7" ry="1.11" fill="#ffffff" fill-opacity="0.21"/>
<ellipse cx="648.39" cy="236.94" rx="1.02" ry="0.67" fill="#ffffff" fill-opacity="0.24"/>
<ellipse cx="585.43" cy="232.76" rx="1.1" ry="0.61" fill="#ffffff" fill-opacity="0.18"/>
<ellipse cx="616.24" cy="233.19" rx="0.93" ry="0.62" fill="#ffffff" fill-opacity="0.2"/>
<ellipse cx="558.4" cy="239.51" rx="1.48" ry="0.85" fill="#ffffff" fill-opacity="0.24"/>
<path d="M555.3 242.6 L556.3 245.52 L557.3 246.34 L558.31 246.56 L559.31 246.85 L560.31 246.58 L561.31 246.51 L562.31 246.12 L563.32 245.88 L564.32 245.89 L565.32 245.42 L566.32 245.27 L567.32 246.16 L568.33 246.28 L569.33 245.75 L570.33 245.36 L571.33 244.58 L572.33 244.07 L573.34 243.55 L574.34 243.31 L575.34 243.52 L576.34 243.28 L577.34 243.98 L578.35 244.06 L579.35 244 L580.35 243.56 L581.35 242.61 L582.35 242.23 L583.36 242.04 L584.36 241.98 L585.36 241.81 L586.36 242.31 L587.36 242.69 L588.37 242.96 L589.37 242.41 L590.37 242.29 L591.37 241.05 L592.37 241.14 L593.38 241.01 L594.38 240.94 L595.38 240.77 L596.38 241.52 L597.38 241.8 L598.39 242.2 L599.39 241.76 L600.39 241.1 L601.39 240.53 L602.39 240.62 L603.4 240.44 L604.4 240.56 L605.4 240.25 L606.4 241.37 L607.41 241.79 L608.41 241.74 L609.41 241.61 L610.41 241.27 L611.41 240.39 L612.42 240.54 L613.42 240.34 L614.42 240.38 L615.42 240.9 L616.42 241.67 L617.43 242.01 L618.43 242.02 L619.43 241.87 L620.43 241.17 L621.43 240.93 L622.44 240.98 L623.44 241.02 L624.44 241.33 L625.44 242.16 L626.44 242.62 L627.45 243.18 L628.45 243.22 L629.45 242.59 L630.45 241.89 L631.45 242.25 L632.46 242.43 L633.46 242.26 L634.46 242.52 L635.46 243.66 L636.46 244.4 L637.47 244.42 L638.47 244.4 L639.47 244.37 L640.47 243.57 L641.47 243.75 L642.48 244.23 L643.48 244.24 L644.48 244.92 L645.48 245.56 L646.48 246.21 L647.49 246.53 L648.49 246.47 L649.49 246.12 L650.49 245.87 L651.49 245.61 L652.5 245.28 L653.5 244.32 L654.5 241.4" fill="none" stroke="#700808" stroke-opacity="0.4" stroke-width="2.4"/>
</g>
<ellipse cx="652.4" cy="246.5" rx="1.8" ry="1.7" fill="#5050ea" fill-opacity="0.7"/>
</g>
<g filter="url(#pb)">
<path d="M558.5 283 L559.51 276.91 L560.51 275.14 L561.52 273.94 L562.52 274.3 L563.53 276.5 L564.53 276.54 L565.54 275.69 L566.54 275.97 L567.55 274.33 L568.55 272.25 L569.56 271.26 L570.56 270.74 L571.57 269.89 L572.57 270.2 L573.58 271.1 L574.58 273.16 L575.59 272.99 L576.59 272.81 L577.6 270.89 L578.61 269.53 L579.61 268.25 L580.62 267.94 L581.62 267.67 L582.63 268.12 L583.63 270.14 L584.64 271.53 L585.64 271.44 L586.65 271.44 L587.65 268.47 L588.66 266.76 L589.66 266.18 L590.67 265.73 L591.67 265.45 L592.68 266.42 L593.68 270.14 L594.69 270.42 L595.69 270.43 L596.7 269.71 L597.71 266.91 L598.71 265.42 L599.72 264.72 L600.72 264.87 L601.73 265.04 L602.73 266.53 L603.74 269.66 L604.74 269.63 L605.75 269.67 L606.75 268.82 L607.76 266.8 L608.76 265.5 L609.77 265.09 L610.77 264.8 L611.78 265.26 L612.78 267.11 L613.79 270.42 L614.79 270.05 L615.8 270.7 L616.81 269.7 L617.81 267.65 L618.82 266.45 L619.82 266.34 L620.83 266.15 L621.83 266.24 L622.84 268.38 L623.84 271.59 L624.85 271.68 L625.85 271.94 L626.86 270.7 L627.86 269.05 L628.87 267.84 L629.87 267.91 L630.88 267.56 L631.88 268.58 L632.89 270.63 L633.89 273.17 L634.9 273.2 L635.91 273.42 L636.91 272.74 L637.92 270.99 L638.92 270.75 L639.93 270.45 L640.93 270.48 L641.94 271.33 L642.94 273 L643.95 275.95 L644.95 275.98 L645.96 276.66 L646.96 277.16 L647.97 277.05 L648.97 277.77 L649.98 278.39 L650.98 278.56 L651.99 279.41 L652.99 280.8 L654 284.2 L654 284.2 L652.99 286.83 L651.99 287.21 L650.98 287.46 L649.98 287.16 L648.97 287.08 L647.97 286.52 L646.96 286.5 L645.96 285.81 L644.95 285.74 L643.95 285.52 L642.94 285.14 L641.94 284.72 L640.93 284.68 L639.93 284.25 L638.92 284.13 L637.92 283.84 L636.91 283.53 L635.91 283.26 L634.9 282.99 L633.89 282.55 L632.89 282.47 L631.88 282.07 L630.88 281.84 L629.87 281.63 L628.87 281.42 L627.86 281.38 L626.86 281.16 L625.85 280.9 L624.85 280.88 L623.84 280.89 L622.84 280.59 L621.83 280.44 L620.83 280.46 L619.82 280.37 L618.82 280.21 L617.81 279.89 L616.81 279.74 L615.8 279.71 L614.79 279.73 L613.79 279.82 L612.78 279.76 L611.78 279.43 L610.77 279.43 L609.77 279.41 L608.76 279.49 L607.76 279.49 L606.75 279.44 L605.75 279.45 L604.74 279.25 L603.74 279.37 L602.73 279.28 L601.73 279.35 L600.72 279.33 L599.72 279.28 L598.71 279.31 L597.71 279.63 L596.7 279.35 L595.69 279.46 L594.69 279.55 L593.68 279.79 L592.68 279.67 L591.67 279.82 L590.67 280.17 L589.66 280.1 L588.66 280.15 L587.65 280.33 L586.65 280.4 L585.64 280.71 L584.64 280.8 L583.63 281.21 L582.63 281.14 L581.62 281.53 L580.62 281.48 L579.61 281.6 L578.61 282.02 L577.6 282.36 L576.59 282.59 L575.59 282.62 L574.58 283 L573.58 283 L572.57 283.31 L571.57 283.61 L570.56 283.81 L569.56 284.3 L568.55 284.45 L567.55 284.92 L566.54 285 L565.54 285.21 L564.53 285.79 L563.53 285.89 L562.52 287.5 L561.52 288.21 L560.51 287.84 L559.51 286.53 L558.5 283Z" fill="url(#pg7)"/>
<g clip-path="url(#pc7)">
<ellipse cx="572" cy="272.98" rx="4.5" ry="4.8" fill="#ee141a" fill-opacity="0.7" filter="url(#pb2)"/>
<ellipse cx="581.8" cy="270.63" rx="4.5" ry="5.25" fill="#ee141a" fill-opacity="0.7" filter="url(#pb2)"/>
<ellipse cx="591.5" cy="269.1" rx="4.5" ry="5.55" fill="#ee141a" fill-opacity="0.7" filter="url(#pb2)"/>
<ellipse cx="601.3" cy="268.38" rx="4.5" ry="5.7" fill="#ee141a" fill-opacity="0.7" filter="url(#pb2)"/>
<ellipse cx="611.3" cy="268.49" rx="4.5" ry="5.7" fill="#ee141a" fill-opacity="0.7" filter="url(#pb2)"/>
<ellipse cx="621.3" cy="269.44" rx="4.5" ry="5.55" fill="#ee141a" fill-opacity="0.7" filter="url(#pb2)"/>
<ellipse cx="631.3" cy="271.19" rx="4.5" ry="5.4" fill="#ee141a" fill-opacity="0.7" filter="url(#pb2)"/>
<ellipse cx="641.3" cy="273.72" rx="4.5" ry="5.25" fill="#ee141a" fill-opacity="0.6" filter="url(#pb2)"/>
<ellipse cx="561.8" cy="276.16" rx="3.6" ry="4.5" fill="#ee141a" fill-opacity="0.6" filter="url(#pb2)"/>
<ellipse cx="566.47" cy="280.11" rx="2.78" ry="1.97" fill="#fff" fill-opacity="0.5" transform="rotate(-30 566.47 280.35)" filter="url(#pb2)"/>
<ellipse cx="576.67" cy="277.45" rx="2.78" ry="1.97" fill="#fff" fill-opacity="0.5" transform="rotate(-30 576.67 277.68)" filter="url(#pb2)"/>
<ellipse cx="586.47" cy="275.66" rx="2.78" ry="1.97" fill="#fff" fill-opacity="0.5" transform="rotate(-30 586.47 275.9)" filter="url(#pb2)"/>
<ellipse cx="596.17" cy="274.64" rx="2.78" ry="1.97" fill="#fff" fill-opacity="0.5" transform="rotate(-30 596.17 274.87)" filter="url(#pb2)"/>
<ellipse cx="605.97" cy="274.36" rx="2.78" ry="1.97" fill="#fff" fill-opacity="0.5" transform="rotate(-30 605.97 274.6)" filter="url(#pb2)"/>
<ellipse cx="615.97" cy="274.86" rx="2.78" ry="1.97" fill="#fff" fill-opacity="0.5" transform="rotate(-30 615.97 275.09)" filter="url(#pb2)"/>
<ellipse cx="625.97" cy="276.15" rx="2.78" ry="1.97" fill="#fff" fill-opacity="0.5" transform="rotate(-30 625.97 276.38)" filter="url(#pb2)"/>
<ellipse cx="635.97" cy="278.22" rx="2.78" ry="1.97" fill="#fff" fill-opacity="0.5" transform="rotate(-30 635.97 278.46)" filter="url(#pb2)"/>
<ellipse cx="568.55" cy="281.19" rx="1.24" ry="1.05" fill="#ffffff" fill-opacity="0.42"/>
<ellipse cx="635.66" cy="276.27" rx="1.61" ry="0.79" fill="#ffffff" fill-opacity="0.42"/>
<ellipse cx="587.31" cy="273.52" rx="1.43" ry="0.65" fill="#ffffff" fill-opacity="0.26"/>
<ellipse cx="623.01" cy="274.63" rx="1.14" ry="1.16" fill="#ffffff" fill-opacity="0.27"/>
<ellipse cx="631.11" cy="278.24" rx="1.62" ry="0.99" fill="#ffffff" fill-opacity="0.35"/>
<ellipse cx="635.12" cy="279.2" rx="1.25" ry="0.99" fill="#ffffff" fill-opacity="0.33"/>
<ellipse cx="642.23" cy="277.58" rx="1.49" ry="1.18" fill="#ffffff" fill-opacity="0.22"/>
<ellipse cx="625.15" cy="278.46" rx="1.69" ry="0.63" fill="#ffffff" fill-opacity="0.39"/>
<ellipse cx="584.54" cy="276.06" rx="1.96" ry="0.79" fill="#ffffff" fill-opacity="0.26"/>
<ellipse cx="571.71" cy="277.68" rx="1.03" ry="1.02" fill="#ffffff" fill-opacity="0.41"/>
<ellipse cx="566.37" cy="280.31" rx="1.93" ry="1.07" fill="#ffffff" fill-opacity="0.27"/>
<ellipse cx="607.88" cy="275.51" rx="1.58" ry="1.2" fill="#ffffff" fill-opacity="0.43"/>
<ellipse cx="646.01" cy="278.81" rx="0.93" ry="0.95" fill="#ffffff" fill-opacity="0.34"/>
<ellipse cx="584.74" cy="274.35" rx="1.92" ry="1.08" fill="#ffffff" fill-opacity="0.2"/>
<ellipse cx="572.25" cy="279.84" rx="1.45" ry="0.69" fill="#ffffff" fill-opacity="0.44"/>
<ellipse cx="590.34" cy="272.58" rx="1.44" ry="0.84" fill="#ffffff" fill-opacity="0.36"/>
<ellipse cx="628.48" cy="274.04" rx="1.51" ry="1.14" fill="#ffffff" fill-opacity="0.32"/>
<ellipse cx="639.19" cy="281.51" rx="1.95" ry="0.99" fill="#ffffff" fill-opacity="0.23"/>
<ellipse cx="647.52" cy="280.39" rx="1.3" ry="0.9" fill="#ffffff" fill-opacity="0.33"/>
<ellipse cx="628.94" cy="276.92" rx="2.1" ry="1.07" fill="#ffffff" fill-opacity="0.36"/>
<ellipse cx="585.54" cy="276.63" rx="1.55" ry="1.06" fill="#ffffff" fill-opacity="0.27"/>
<ellipse cx="630.86" cy="278.37" rx="1.13" ry="1.16" fill="#ffffff" fill-opacity="0.32"/>
<ellipse cx="600.11" cy="273.44" rx="1.4" ry="1.08" fill="#ffffff" fill-opacity="0.43"/>
<ellipse cx="602.58" cy="274.57" rx="1.51" ry="0.67" fill="#ffffff" fill-opacity="0.42"/>
<ellipse cx="598.26" cy="271.62" rx="1.2" ry="0.78" fill="#ffffff" fill-opacity="0.4"/>
<ellipse cx="577.08" cy="275.26" rx="2.07" ry="0.78" fill="#ffffff" fill-opacity="0.43"/>
<path d="M558.5 283 L559.51 286.53 L560.51 287.84 L561.52 288.21 L562.52 287.5 L563.53 285.89 L564.53 285.79 L565.54 285.21 L566.54 285 L567.55 284.92 L568.55 284.45 L569.56 284.3 L570.56 283.81 L571.57 283.61 L572.57 283.31 L573.58 283 L574.58 283 L575.59 282.62 L576.59 282.59 L577.6 282.36 L578.61 282.02 L579.61 281.6 L580.62 281.48 L581.62 281.53 L582.63 281.14 L583.63 281.21 L584.64 280.8 L585.64 280.71 L586.65 280.4 L587.65 280.33 L588.66 280.15 L589.66 280.1 L590.67 280.17 L591.67 279.82 L592.68 279.67 L593.68 279.79 L594.69 279.55 L595.69 279.46 L596.7 279.35 L597.71 279.63 L598.71 279.31 L599.72 279.28 L600.72 279.33 L601.73 279.35 L602.73 279.28 L603.74 279.37 L604.74 279.25 L605.75 279.45 L606.75 279.44 L607.76 279.49 L608.76 279.49 L609.77 279.41 L610.77 279.43 L611.78 279.43 L612.78 279.76 L613.79 279.82 L614.79 279.73 L615.8 279.71 L616.81 279.74 L617.81 279.89 L618.82 280.21 L619.82 280.37 L620.83 280.46 L621.83 280.44 L622.84 280.59 L623.84 280.89 L624.85 280.88 L625.85 280.9 L626.86 281.16 L627.86 281.38 L628.87 281.42 L629.87 281.63 L630.88 281.84 L631.88 282.07 L632.89 282.47 L633.89 282.55 L634.9 282.99 L635.91 283.26 L636.91 283.53 L637.92 283.84 L638.92 284.13 L639.93 284.25 L640.93 284.68 L641.94 284.72 L642.94 285.14 L643.95 285.52 L644.95 285.74 L645.96 285.81 L646.96 286.5 L647.97 286.52 L648.97 287.08 L649.98 287.16 L650.98 287.46 L651.99 287.21 L652.99 286.83 L654 284.2" fill="none" stroke="#6a0808" stroke-opacity="0.4" stroke-width="2.4"/>
</g>
<ellipse cx="651.6" cy="289.5" rx="1.8" ry="1.7" fill="#5050ea" fill-opacity="0.75"/>
</g>
</svg></body></html>
